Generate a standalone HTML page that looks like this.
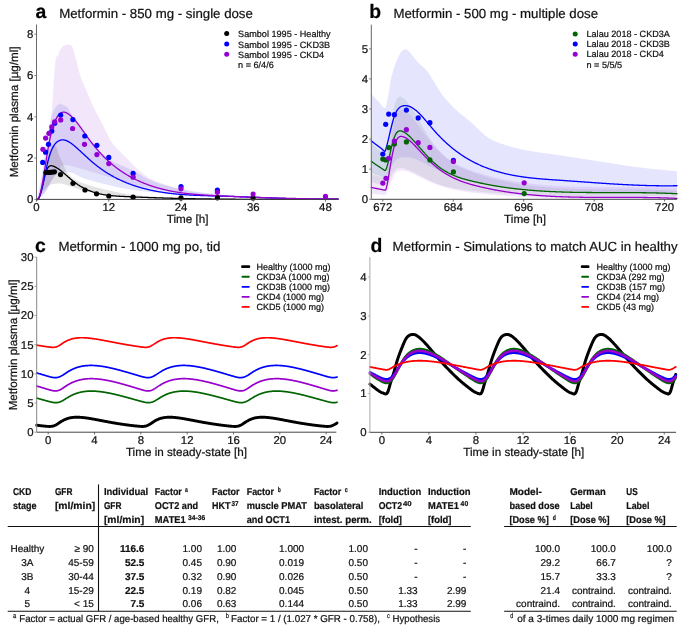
<!DOCTYPE html>
<html><head><meta charset="utf-8"><style>
html,body{margin:0;padding:0;background:#fff;}
svg{display:block;}
text{font-family:"Liberation Sans", sans-serif;text-rendering:geometricPrecision;stroke:#111;stroke-width:0.22px;paint-order:stroke;}
</style></head><body>
<svg width="685" height="626" viewBox="0 0 685 626" style="will-change:transform">
<rect width="685" height="626" fill="#fff"/>
<path d="M37 199.4 L38.01 198.98 L39.01 197.85 L40.02 196.18 L41.03 194.16 L42.03 190.88 L43.04 185.46 L44.05 178.67 L45.05 171.28 L46.06 163.83 L47.07 155.29 L48.07 145.97 L49.08 136.53 L50.09 127.2 L51.09 117.52 L52.1 106.95 L53.11 93.37 L54.11 76.78 L55.12 63.39 L56.13 57.83 L57.13 55.51 L58.14 56.49 L59.15 52.12 L60.15 49.8 L61.16 48.4 L62.17 47.33 L63.17 46.36 L64.18 45.58 L65.19 45.15 L66.19 44.9 L67.2 44.72 L68.21 44.61 L69.21 44.65 L70.22 44.99 L71.23 45.64 L72.23 46.57 L73.24 49.53 L74.25 53.3 L75.25 56.79 L76.26 60.44 L77.27 64.33 L78.27 68.49 L79.28 72.28 L80.29 75.55 L81.29 78.5 L82.3 81.13 L83.31 83.49 L84.31 85.72 L85.32 87.96 L86.33 90.29 L87.33 92.65 L88.34 95.01 L89.35 97.38 L90.35 99.79 L91.36 102.25 L92.37 104.64 L93.37 106.87 L94.38 108.92 L95.39 110.85 L96.39 112.75 L97.4 114.68 L98.41 116.6 L99.41 118.5 L100.42 120.42 L101.43 122.36 L102.43 124.34 L103.44 126.35 L104.45 128.38 L105.45 130.4 L106.46 132.43 L107.47 134.53 L108.47 136.66 L109.48 138.63 L110.49 140.31 L111.49 141.82 L112.5 143.22 L113.51 144.52 L114.52 145.76 L115.52 146.94 L116.53 148.09 L117.54 149.21 L118.54 150.27 L119.55 151.29 L120.56 152.27 L121.56 153.23 L122.57 154.18 L123.58 155.13 L124.58 156.09 L125.59 157.09 L126.6 158.11 L127.6 159.16 L128.61 160.22 L129.62 161.29 L130.62 162.36 L131.63 163.42 L132.64 164.46 L133.64 165.48 L134.65 166.47 L135.66 167.42 L136.66 168.32 L137.67 169.22 L138.68 170.11 L139.68 170.99 L140.69 171.86 L141.7 172.71 L142.7 173.54 L143.71 174.33 L144.72 175.09 L145.72 175.82 L146.73 176.49 L147.74 177.12 L148.74 177.69 L149.75 178.23 L150.76 178.76 L151.76 179.26 L152.77 179.75 L153.78 180.22 L154.78 180.68 L155.79 181.11 L156.8 181.54 L157.8 181.94 L158.81 182.34 L159.82 182.72 L160.82 183.09 L161.83 183.44 L162.84 183.79 L163.84 184.13 L164.85 184.45 L165.86 184.77 L166.86 185.09 L167.87 185.4 L168.88 185.72 L169.88 186.03 L170.89 186.33 L171.9 186.64 L172.9 186.94 L173.91 187.23 L174.92 187.52 L175.92 187.81 L176.93 188.1 L177.94 188.37 L178.94 188.65 L179.95 188.92 L180.96 189.18 L181.96 189.44 L182.97 189.7 L183.98 189.95 L184.98 190.19 L185.99 190.43 L187 190.66 L188 190.88 L189.01 191.1 L190.02 191.31 L191.02 191.52 L192.03 191.71 L193.04 191.9 L194.04 192.09 L195.05 192.26 L196.06 192.43 L197.06 192.59 L198.07 192.74 L199.08 192.88 L200.08 193.01 L201.09 193.14 L202.1 193.27 L203.1 193.39 L204.11 193.52 L205.12 193.64 L206.12 193.76 L207.13 193.88 L208.14 193.99 L209.14 194.11 L210.15 194.22 L211.16 194.33 L212.16 194.45 L213.17 194.55 L214.18 194.66 L215.18 194.77 L216.19 194.87 L217.2 194.97 L218.2 195.07 L219.21 195.17 L220.22 195.26 L221.22 195.36 L222.23 195.45 L223.24 195.54 L224.24 195.63 L225.25 195.72 L226.26 195.8 L227.26 195.88 L228.27 195.96 L229.28 196.04 L230.28 196.12 L231.29 196.19 L232.3 196.27 L233.3 196.34 L234.31 196.41 L235.32 196.47 L236.32 196.54 L237.33 196.6 L238.34 196.66 L239.34 196.72 L240.35 196.77 L241.36 196.83 L242.36 196.88 L243.37 196.93 L244.38 196.98 L245.38 197.02 L246.39 197.07 L247.4 197.11 L248.4 197.14 L249.41 197.18 L250.42 197.21 L251.42 197.25 L252.43 197.28 L253.44 197.31 L254.44 197.35 L255.45 197.38 L256.46 197.41 L257.46 197.44 L258.47 197.47 L259.48 197.51 L260.48 197.54 L261.49 197.57 L262.5 197.6 L263.51 197.63 L264.51 197.66 L265.52 197.69 L266.53 197.72 L267.53 197.75 L268.54 197.78 L269.55 197.81 L270.55 197.84 L271.56 197.87 L272.57 197.89 L273.57 197.92 L274.58 197.95 L275.59 197.98 L276.59 198 L277.6 198.03 L278.61 198.06 L279.61 198.08 L280.62 198.11 L281.63 198.13 L282.63 198.16 L283.64 198.18 L284.65 198.21 L285.65 198.23 L286.66 198.26 L287.67 198.28 L288.67 198.3 L289.68 198.32 L290.69 198.35 L291.69 198.37 L292.7 198.39 L293.71 198.41 L294.71 198.43 L295.72 198.45 L296.73 198.47 L297.73 198.49 L298.74 198.51 L299.75 198.53 L300.75 198.55 L301.76 198.57 L302.77 198.58 L303.77 198.6 L304.78 198.62 L305.79 198.63 L306.79 198.65 L307.8 198.66 L308.81 198.68 L309.81 198.69 L310.82 198.71 L311.83 198.72 L312.83 198.73 L313.84 198.75 L314.85 198.76 L315.85 198.77 L316.86 198.78 L317.87 198.79 L318.87 198.8 L319.88 198.81 L320.89 198.82 L321.89 198.83 L322.9 198.84 L323.91 198.85 L324.91 198.85 L325.92 198.86 L326.93 198.87 L327.93 198.87 L328.94 198.88 L329.95 198.88 L330.95 198.89 L331.96 198.89 L332.97 198.89 L333.97 198.9 L334.98 198.9 L335.99 198.9 L336.99 198.9 L338 198.9 L338 199.1 L336.99 199.1 L335.99 199.1 L334.98 199.1 L333.97 199.1 L332.97 199.09 L331.96 199.09 L330.95 199.09 L329.95 199.08 L328.94 199.08 L327.93 199.07 L326.93 199.07 L325.92 199.06 L324.91 199.05 L323.91 199.05 L322.9 199.04 L321.89 199.03 L320.89 199.02 L319.88 199.01 L318.87 199 L317.87 198.99 L316.86 198.98 L315.85 198.97 L314.85 198.96 L313.84 198.95 L312.83 198.93 L311.83 198.92 L310.82 198.91 L309.81 198.89 L308.81 198.88 L307.8 198.86 L306.79 198.85 L305.79 198.83 L304.78 198.82 L303.77 198.8 L302.77 198.78 L301.76 198.77 L300.75 198.75 L299.75 198.73 L298.74 198.71 L297.73 198.69 L296.73 198.68 L295.72 198.66 L294.71 198.64 L293.71 198.62 L292.7 198.6 L291.69 198.58 L290.69 198.55 L289.68 198.53 L288.67 198.51 L287.67 198.49 L286.66 198.47 L285.65 198.45 L284.65 198.42 L283.64 198.4 L282.63 198.38 L281.63 198.35 L280.62 198.33 L279.61 198.3 L278.61 198.28 L277.6 198.25 L276.59 198.23 L275.59 198.2 L274.58 198.18 L273.57 198.15 L272.57 198.13 L271.56 198.1 L270.55 198.08 L269.55 198.05 L268.54 198.02 L267.53 198 L266.53 197.97 L265.52 197.94 L264.51 197.91 L263.51 197.89 L262.5 197.86 L261.49 197.83 L260.48 197.8 L259.48 197.77 L258.47 197.74 L257.46 197.72 L256.46 197.69 L255.45 197.66 L254.44 197.63 L253.44 197.6 L252.43 197.57 L251.42 197.54 L250.42 197.51 L249.41 197.48 L248.4 197.45 L247.4 197.42 L246.39 197.38 L245.38 197.35 L244.38 197.31 L243.37 197.27 L242.36 197.23 L241.36 197.19 L240.35 197.15 L239.34 197.1 L238.34 197.06 L237.33 197.01 L236.32 196.96 L235.32 196.91 L234.31 196.86 L233.3 196.81 L232.3 196.75 L231.29 196.7 L230.28 196.64 L229.28 196.59 L228.27 196.53 L227.26 196.47 L226.26 196.41 L225.25 196.35 L224.24 196.28 L223.24 196.22 L222.23 196.15 L221.22 196.09 L220.22 196.02 L219.21 195.95 L218.2 195.88 L217.2 195.81 L216.19 195.74 L215.18 195.67 L214.18 195.6 L213.17 195.53 L212.16 195.45 L211.16 195.38 L210.15 195.3 L209.14 195.23 L208.14 195.15 L207.13 195.07 L206.12 194.99 L205.12 194.91 L204.11 194.83 L203.1 194.75 L202.1 194.67 L201.09 194.59 L200.08 194.51 L199.08 194.42 L198.07 194.34 L197.06 194.25 L196.06 194.16 L195.05 194.06 L194.04 193.96 L193.04 193.86 L192.03 193.76 L191.02 193.66 L190.02 193.55 L189.01 193.44 L188 193.33 L187 193.22 L185.99 193.1 L184.98 192.99 L183.98 192.87 L182.97 192.74 L181.96 192.62 L180.96 192.49 L179.95 192.37 L178.94 192.24 L177.94 192.1 L176.93 191.97 L175.92 191.84 L174.92 191.7 L173.91 191.56 L172.9 191.42 L171.9 191.28 L170.89 191.14 L169.88 190.99 L168.88 190.85 L167.87 190.7 L166.86 190.55 L165.86 190.4 L164.85 190.25 L163.84 190.09 L162.84 189.94 L161.83 189.78 L160.82 189.63 L159.82 189.47 L158.81 189.31 L157.8 189.15 L156.8 188.98 L155.79 188.81 L154.78 188.64 L153.78 188.46 L152.77 188.28 L151.76 188.1 L150.76 187.91 L149.75 187.72 L148.74 187.53 L147.74 187.33 L146.73 187.13 L145.72 186.93 L144.72 186.73 L143.71 186.52 L142.7 186.31 L141.7 186.09 L140.69 185.88 L139.68 185.66 L138.68 185.44 L137.67 185.21 L136.66 184.98 L135.66 184.75 L134.65 184.52 L133.64 184.28 L132.64 184.04 L131.63 183.8 L130.62 183.55 L129.62 183.3 L128.61 183.05 L127.6 182.78 L126.6 182.5 L125.59 182.22 L124.58 181.92 L123.58 181.62 L122.57 181.32 L121.56 181.01 L120.56 180.69 L119.55 180.38 L118.54 180.06 L117.54 179.74 L116.53 179.42 L115.52 179.1 L114.52 178.78 L113.51 178.47 L112.5 178.16 L111.49 177.85 L110.49 177.54 L109.48 177.23 L108.47 176.92 L107.47 176.61 L106.46 176.29 L105.45 175.98 L104.45 175.66 L103.44 175.34 L102.43 175.03 L101.43 174.71 L100.42 174.4 L99.41 174.09 L98.41 173.78 L97.4 173.47 L96.39 173.16 L95.39 172.86 L94.38 172.55 L93.37 172.25 L92.37 171.94 L91.36 171.63 L90.35 171.32 L89.35 171.01 L88.34 170.7 L87.33 170.39 L86.33 170.09 L85.32 169.79 L84.31 169.5 L83.31 169.22 L82.3 168.94 L81.29 168.67 L80.29 168.42 L79.28 168.17 L78.27 167.92 L77.27 167.66 L76.26 167.39 L75.25 167.11 L74.25 166.83 L73.24 166.56 L72.23 166.3 L71.23 166.05 L70.22 165.82 L69.21 165.61 L68.21 165.42 L67.2 165.26 L66.19 165.14 L65.19 165.05 L64.18 165.01 L63.17 165.07 L62.17 165.54 L61.16 166.37 L60.15 167.44 L59.15 168.63 L58.14 169.84 L57.13 171.1 L56.13 172.63 L55.12 174.33 L54.11 176.15 L53.11 178 L52.1 179.82 L51.09 181.69 L50.09 183.73 L49.08 185.84 L48.07 187.92 L47.07 189.87 L46.06 191.57 L45.05 192.94 L44.05 194.06 L43.04 195.14 L42.03 196.15 L41.03 197.07 L40.02 197.88 L39.01 198.55 L38.01 199.06 L37 199.4 Z" fill="#be82e6" fill-opacity="0.2" stroke="none"/>
<path d="M37 199.4 L38.01 194.92 L39.01 189.97 L40.02 184.58 L41.03 178.82 L42.03 172.73 L43.04 165.85 L44.05 157.77 L45.05 149.51 L46.06 142.05 L47.07 136.27 L48.07 131.17 L49.08 126.42 L50.09 122.07 L51.09 118.19 L52.1 114.84 L53.11 112.08 L54.11 109.87 L55.12 107.98 L56.13 106.46 L57.13 105.38 L58.14 104.52 L59.15 103.85 L60.15 103.6 L61.16 104 L62.17 104.58 L63.17 105.02 L64.18 105.45 L65.19 105.91 L66.19 106.48 L67.2 107.25 L68.21 108.47 L69.21 110.1 L70.22 111.98 L71.23 113.97 L72.23 115.92 L73.24 117.69 L74.25 119.24 L75.25 120.74 L76.26 122.21 L77.27 123.65 L78.27 125.07 L79.28 126.47 L80.29 127.85 L81.29 129.21 L82.3 130.55 L83.31 131.88 L84.31 133.2 L85.32 134.51 L86.33 135.83 L87.33 137.14 L88.34 138.46 L89.35 139.76 L90.35 141.05 L91.36 142.32 L92.37 143.57 L93.37 144.79 L94.38 145.98 L95.39 147.13 L96.39 148.24 L97.4 149.29 L98.41 150.3 L99.41 151.29 L100.42 152.26 L101.43 153.21 L102.43 154.14 L103.44 155.04 L104.45 155.91 L105.45 156.75 L106.46 157.55 L107.47 158.3 L108.47 159.01 L109.48 159.68 L110.49 160.29 L111.49 160.87 L112.5 161.41 L113.51 161.92 L114.52 162.41 L115.52 162.88 L116.53 163.33 L117.54 163.77 L118.54 164.2 L119.55 164.62 L120.56 165.04 L121.56 165.47 L122.57 165.9 L123.58 166.35 L124.58 166.8 L125.59 167.28 L126.6 167.75 L127.6 168.22 L128.61 168.68 L129.62 169.15 L130.62 169.62 L131.63 170.1 L132.64 170.58 L133.64 171.06 L134.65 171.56 L135.66 172.06 L136.66 172.58 L137.67 173.12 L138.68 173.7 L139.68 174.3 L140.69 174.91 L141.7 175.53 L142.7 176.16 L143.71 176.77 L144.72 177.37 L145.72 177.95 L146.73 178.49 L147.74 178.99 L148.74 179.45 L149.75 179.89 L150.76 180.32 L151.76 180.74 L152.77 181.14 L153.78 181.54 L154.78 181.92 L155.79 182.29 L156.8 182.66 L157.8 183.01 L158.81 183.35 L159.82 183.68 L160.82 184 L161.83 184.3 L162.84 184.6 L163.84 184.89 L164.85 185.16 L165.86 185.43 L166.86 185.69 L167.87 185.95 L168.88 186.2 L169.88 186.46 L170.89 186.71 L171.9 186.95 L172.9 187.19 L173.91 187.43 L174.92 187.67 L175.92 187.9 L176.93 188.13 L177.94 188.35 L178.94 188.57 L179.95 188.79 L180.96 189 L181.96 189.21 L182.97 189.41 L183.98 189.61 L184.98 189.81 L185.99 190 L187 190.19 L188 190.37 L189.01 190.55 L190.02 190.73 L191.02 190.9 L192.03 191.06 L193.04 191.22 L194.04 191.38 L195.05 191.53 L196.06 191.68 L197.06 191.82 L198.07 191.95 L199.08 192.08 L200.08 192.21 L201.09 192.33 L202.1 192.46 L203.1 192.58 L204.11 192.69 L205.12 192.81 L206.12 192.93 L207.13 193.04 L208.14 193.16 L209.14 193.27 L210.15 193.38 L211.16 193.49 L212.16 193.6 L213.17 193.7 L214.18 193.81 L215.18 193.91 L216.19 194.01 L217.2 194.11 L218.2 194.21 L219.21 194.31 L220.22 194.41 L221.22 194.5 L222.23 194.59 L223.24 194.68 L224.24 194.77 L225.25 194.86 L226.26 194.95 L227.26 195.03 L228.27 195.12 L229.28 195.2 L230.28 195.28 L231.29 195.36 L232.3 195.43 L233.3 195.51 L234.31 195.58 L235.32 195.65 L236.32 195.72 L237.33 195.79 L238.34 195.86 L239.34 195.92 L240.35 195.99 L241.36 196.05 L242.36 196.11 L243.37 196.16 L244.38 196.22 L245.38 196.27 L246.39 196.33 L247.4 196.38 L248.4 196.43 L249.41 196.47 L250.42 196.52 L251.42 196.56 L252.43 196.61 L253.44 196.65 L254.44 196.7 L255.45 196.74 L256.46 196.79 L257.46 196.83 L258.47 196.87 L259.48 196.92 L260.48 196.96 L261.49 197.01 L262.5 197.05 L263.51 197.09 L264.51 197.13 L265.52 197.18 L266.53 197.22 L267.53 197.26 L268.54 197.3 L269.55 197.34 L270.55 197.39 L271.56 197.43 L272.57 197.47 L273.57 197.51 L274.58 197.55 L275.59 197.59 L276.59 197.63 L277.6 197.67 L278.61 197.7 L279.61 197.74 L280.62 197.78 L281.63 197.82 L282.63 197.85 L283.64 197.89 L284.65 197.93 L285.65 197.96 L286.66 198 L287.67 198.03 L288.67 198.07 L289.68 198.1 L290.69 198.14 L291.69 198.17 L292.7 198.2 L293.71 198.23 L294.71 198.26 L295.72 198.3 L296.73 198.33 L297.73 198.36 L298.74 198.39 L299.75 198.41 L300.75 198.44 L301.76 198.47 L302.77 198.5 L303.77 198.52 L304.78 198.55 L305.79 198.57 L306.79 198.6 L307.8 198.62 L308.81 198.65 L309.81 198.67 L310.82 198.69 L311.83 198.71 L312.83 198.73 L313.84 198.75 L314.85 198.77 L315.85 198.79 L316.86 198.81 L317.87 198.83 L318.87 198.84 L319.88 198.86 L320.89 198.87 L321.89 198.89 L322.9 198.9 L323.91 198.91 L324.91 198.92 L325.92 198.94 L326.93 198.95 L327.93 198.96 L328.94 198.96 L329.95 198.97 L330.95 198.98 L331.96 198.98 L332.97 198.99 L333.97 198.99 L334.98 199 L335.99 199 L336.99 199 L338 199 L338 199.2 L336.99 199.2 L335.99 199.2 L334.98 199.2 L333.97 199.2 L332.97 199.19 L331.96 199.19 L330.95 199.19 L329.95 199.19 L328.94 199.18 L327.93 199.18 L326.93 199.17 L325.92 199.17 L324.91 199.16 L323.91 199.16 L322.9 199.15 L321.89 199.15 L320.89 199.14 L319.88 199.13 L318.87 199.12 L317.87 199.12 L316.86 199.11 L315.85 199.1 L314.85 199.09 L313.84 199.08 L312.83 199.07 L311.83 199.06 L310.82 199.05 L309.81 199.04 L308.81 199.03 L307.8 199.02 L306.79 199.01 L305.79 198.99 L304.78 198.98 L303.77 198.97 L302.77 198.96 L301.76 198.94 L300.75 198.93 L299.75 198.92 L298.74 198.9 L297.73 198.89 L296.73 198.87 L295.72 198.86 L294.71 198.85 L293.71 198.83 L292.7 198.81 L291.69 198.8 L290.69 198.78 L289.68 198.77 L288.67 198.75 L287.67 198.73 L286.66 198.72 L285.65 198.7 L284.65 198.68 L283.64 198.67 L282.63 198.65 L281.63 198.63 L280.62 198.61 L279.61 198.59 L278.61 198.58 L277.6 198.56 L276.59 198.54 L275.59 198.52 L274.58 198.5 L273.57 198.48 L272.57 198.46 L271.56 198.44 L270.55 198.42 L269.55 198.4 L268.54 198.38 L267.53 198.36 L266.53 198.34 L265.52 198.32 L264.51 198.3 L263.51 198.28 L262.5 198.26 L261.49 198.24 L260.48 198.22 L259.48 198.2 L258.47 198.18 L257.46 198.16 L256.46 198.14 L255.45 198.12 L254.44 198.09 L253.44 198.07 L252.43 198.05 L251.42 198.03 L250.42 198.01 L249.41 197.99 L248.4 197.96 L247.4 197.94 L246.39 197.92 L245.38 197.89 L244.38 197.87 L243.37 197.84 L242.36 197.81 L241.36 197.78 L240.35 197.75 L239.34 197.72 L238.34 197.69 L237.33 197.66 L236.32 197.62 L235.32 197.59 L234.31 197.55 L233.3 197.52 L232.3 197.48 L231.29 197.44 L230.28 197.41 L229.28 197.37 L228.27 197.33 L227.26 197.29 L226.26 197.25 L225.25 197.21 L224.24 197.17 L223.24 197.12 L222.23 197.08 L221.22 197.04 L220.22 196.99 L219.21 196.95 L218.2 196.9 L217.2 196.85 L216.19 196.81 L215.18 196.76 L214.18 196.71 L213.17 196.67 L212.16 196.62 L211.16 196.57 L210.15 196.52 L209.14 196.47 L208.14 196.42 L207.13 196.37 L206.12 196.32 L205.12 196.27 L204.11 196.21 L203.1 196.16 L202.1 196.11 L201.09 196.06 L200.08 196 L199.08 195.95 L198.07 195.9 L197.06 195.84 L196.06 195.78 L195.05 195.72 L194.04 195.66 L193.04 195.6 L192.03 195.54 L191.02 195.47 L190.02 195.41 L189.01 195.34 L188 195.27 L187 195.21 L185.99 195.14 L184.98 195.06 L183.98 194.99 L182.97 194.92 L181.96 194.85 L180.96 194.77 L179.95 194.69 L178.94 194.62 L177.94 194.54 L176.93 194.46 L175.92 194.38 L174.92 194.3 L173.91 194.22 L172.9 194.13 L171.9 194.05 L170.89 193.96 L169.88 193.88 L168.88 193.79 L167.87 193.71 L166.86 193.62 L165.86 193.53 L164.85 193.44 L163.84 193.35 L162.84 193.26 L161.83 193.17 L160.82 193.08 L159.82 192.98 L158.81 192.89 L157.8 192.79 L156.8 192.7 L155.79 192.6 L154.78 192.5 L153.78 192.4 L152.77 192.3 L151.76 192.2 L150.76 192.1 L149.75 191.99 L148.74 191.88 L147.74 191.77 L146.73 191.66 L145.72 191.55 L144.72 191.43 L143.71 191.32 L142.7 191.2 L141.7 191.08 L140.69 190.95 L139.68 190.83 L138.68 190.7 L137.67 190.57 L136.66 190.44 L135.66 190.31 L134.65 190.17 L133.64 190.03 L132.64 189.89 L131.63 189.74 L130.62 189.59 L129.62 189.44 L128.61 189.28 L127.6 189.12 L126.6 188.95 L125.59 188.77 L124.58 188.58 L123.58 188.39 L122.57 188.19 L121.56 187.99 L120.56 187.79 L119.55 187.58 L118.54 187.37 L117.54 187.15 L116.53 186.93 L115.52 186.71 L114.52 186.49 L113.51 186.27 L112.5 186.04 L111.49 185.82 L110.49 185.59 L109.48 185.35 L108.47 185.11 L107.47 184.87 L106.46 184.62 L105.45 184.37 L104.45 184.11 L103.44 183.86 L102.43 183.59 L101.43 183.33 L100.42 183.06 L99.41 182.79 L98.41 182.52 L97.4 182.25 L96.39 181.97 L95.39 181.69 L94.38 181.42 L93.37 181.14 L92.37 180.86 L91.36 180.57 L90.35 180.28 L89.35 179.99 L88.34 179.68 L87.33 179.38 L86.33 179.06 L85.32 178.74 L84.31 178.41 L83.31 178.07 L82.3 177.68 L81.29 177.25 L80.29 176.76 L79.28 176.25 L78.27 175.72 L77.27 175.19 L76.26 174.66 L75.25 174.15 L74.25 173.67 L73.24 173.24 L72.23 172.87 L71.23 172.56 L70.22 172.34 L69.21 172.22 L68.21 172.17 L67.2 172.14 L66.19 172.1 L65.19 172.07 L64.18 172.05 L63.17 172.03 L62.17 172.01 L61.16 172 L60.15 172 L59.15 172.15 L58.14 172.67 L57.13 173.51 L56.13 174.58 L55.12 175.82 L54.11 177.17 L53.11 178.54 L52.1 179.87 L51.09 181.3 L50.09 183.02 L49.08 184.92 L48.07 186.88 L47.07 188.78 L46.06 190.51 L45.05 191.93 L44.05 193.13 L43.04 194.28 L42.03 195.37 L41.03 196.38 L40.02 197.3 L39.01 198.12 L38.01 198.82 L37 199.4 Z" fill="#4b4bde" fill-opacity="0.15" stroke="none"/>
<path d="M37 199.4 L38.01 197.11 L39.01 194.34 L40.02 191.16 L41.03 187.64 L42.03 183.87 L43.04 179.28 L44.05 173.88 L45.05 168.44 L46.06 163.75 L47.07 159.64 L48.07 155.78 L49.08 152.42 L50.09 149.81 L51.09 147.51 L52.1 145.66 L53.11 145 L54.11 145.24 L55.12 145.76 L56.13 146.79 L57.13 149.25 L58.14 152.49 L59.15 155.67 L60.15 158.09 L61.16 160.07 L62.17 161.93 L63.17 163.88 L64.18 166.18 L65.19 168.96 L66.19 171.32 L67.2 172.87 L68.21 174.16 L69.21 175.23 L70.22 176.12 L71.23 176.9 L72.23 177.64 L73.24 178.33 L74.25 178.97 L75.25 179.58 L76.26 180.15 L77.27 180.69 L78.27 181.19 L79.28 181.67 L80.29 182.12 L81.29 182.55 L82.3 182.97 L83.31 183.36 L84.31 183.74 L85.32 184.1 L86.33 184.44 L87.33 184.77 L88.34 185.07 L89.35 185.37 L90.35 185.65 L91.36 185.93 L92.37 186.2 L93.37 186.47 L94.38 186.74 L95.39 187 L96.39 187.27 L97.4 187.54 L98.41 187.81 L99.41 188.08 L100.42 188.35 L101.43 188.61 L102.43 188.87 L103.44 189.12 L104.45 189.38 L105.45 189.62 L106.46 189.87 L107.47 190.11 L108.47 190.35 L109.48 190.58 L110.49 190.81 L111.49 191.03 L112.5 191.24 L113.51 191.46 L114.52 191.67 L115.52 191.89 L116.53 192.11 L117.54 192.32 L118.54 192.53 L119.55 192.74 L120.56 192.94 L121.56 193.14 L122.57 193.33 L123.58 193.52 L124.58 193.7 L125.59 193.87 L126.6 194.03 L127.6 194.18 L128.61 194.32 L129.62 194.45 L130.62 194.57 L131.63 194.69 L132.64 194.8 L133.64 194.92 L134.65 195.02 L135.66 195.13 L136.66 195.23 L137.67 195.34 L138.68 195.43 L139.68 195.53 L140.69 195.62 L141.7 195.72 L142.7 195.8 L143.71 195.89 L144.72 195.98 L145.72 196.06 L146.73 196.14 L147.74 196.22 L148.74 196.29 L149.75 196.36 L150.76 196.44 L151.76 196.51 L152.77 196.57 L153.78 196.64 L154.78 196.7 L155.79 196.76 L156.8 196.82 L157.8 196.88 L158.81 196.94 L159.82 196.99 L160.82 197.04 L161.83 197.1 L162.84 197.15 L163.84 197.2 L164.85 197.25 L165.86 197.3 L166.86 197.35 L167.87 197.4 L168.88 197.45 L169.88 197.5 L170.89 197.55 L171.9 197.6 L172.9 197.65 L173.91 197.69 L174.92 197.74 L175.92 197.78 L176.93 197.83 L177.94 197.87 L178.94 197.91 L179.95 197.95 L180.96 197.99 L181.96 198.03 L182.97 198.07 L183.98 198.11 L184.98 198.14 L185.99 198.18 L187 198.21 L188 198.24 L189.01 198.27 L190.02 198.3 L191.02 198.33 L192.03 198.35 L193.04 198.38 L194.04 198.4 L195.05 198.42 L196.06 198.44 L197.06 198.46 L198.07 198.47 L199.08 198.49 L200.08 198.5 L201.09 198.51 L202.1 198.52 L203.1 198.54 L204.11 198.55 L205.12 198.56 L206.12 198.57 L207.13 198.58 L208.14 198.59 L209.14 198.6 L210.15 198.61 L211.16 198.62 L212.16 198.63 L213.17 198.65 L214.18 198.66 L215.18 198.67 L216.19 198.68 L217.2 198.69 L218.2 198.7 L219.21 198.71 L220.22 198.72 L221.22 198.73 L222.23 198.74 L223.24 198.75 L224.24 198.76 L225.25 198.77 L226.26 198.78 L227.26 198.78 L228.27 198.79 L229.28 198.8 L230.28 198.81 L231.29 198.82 L232.3 198.83 L233.3 198.84 L234.31 198.85 L235.32 198.86 L236.32 198.87 L237.33 198.87 L238.34 198.88 L239.34 198.89 L240.35 198.9 L241.36 198.91 L242.36 198.92 L243.37 198.92 L244.38 198.93 L245.38 198.94 L246.39 198.95 L247.4 198.96 L248.4 198.96 L249.41 198.97 L250.42 198.98 L251.42 198.99 L252.43 198.99 L253.44 199 L254.44 199.01 L255.45 199.01 L256.46 199.02 L257.46 199.03 L258.47 199.03 L259.48 199.04 L260.48 199.05 L261.49 199.05 L262.5 199.06 L263.51 199.07 L264.51 199.07 L265.52 199.08 L266.53 199.09 L267.53 199.09 L268.54 199.1 L269.55 199.1 L270.55 199.11 L271.56 199.11 L272.57 199.12 L273.57 199.13 L274.58 199.13 L275.59 199.14 L276.59 199.14 L277.6 199.15 L278.61 199.15 L279.61 199.16 L280.62 199.16 L281.63 199.17 L282.63 199.17 L283.64 199.18 L284.65 199.18 L285.65 199.18 L286.66 199.19 L287.67 199.19 L288.67 199.2 L289.68 199.2 L290.69 199.21 L291.69 199.21 L292.7 199.21 L293.71 199.22 L294.71 199.22 L295.72 199.22 L296.73 199.23 L297.73 199.23 L298.74 199.24 L299.75 199.24 L300.75 199.24 L301.76 199.24 L302.77 199.25 L303.77 199.25 L304.78 199.25 L305.79 199.26 L306.79 199.26 L307.8 199.26 L308.81 199.26 L309.81 199.27 L310.82 199.27 L311.83 199.27 L312.83 199.27 L313.84 199.28 L314.85 199.28 L315.85 199.28 L316.86 199.28 L317.87 199.28 L318.87 199.28 L319.88 199.29 L320.89 199.29 L321.89 199.29 L322.9 199.29 L323.91 199.29 L324.91 199.29 L325.92 199.29 L326.93 199.29 L327.93 199.3 L328.94 199.3 L329.95 199.3 L330.95 199.3 L331.96 199.3 L332.97 199.3 L333.97 199.3 L334.98 199.3 L335.99 199.3 L336.99 199.3 L338 199.3 L338 199.4 L336.99 199.4 L335.99 199.4 L334.98 199.4 L333.97 199.4 L332.97 199.4 L331.96 199.4 L330.95 199.4 L329.95 199.4 L328.94 199.4 L327.93 199.4 L326.93 199.4 L325.92 199.4 L324.91 199.4 L323.91 199.4 L322.9 199.4 L321.89 199.4 L320.89 199.4 L319.88 199.39 L318.87 199.39 L317.87 199.39 L316.86 199.39 L315.85 199.39 L314.85 199.39 L313.84 199.39 L312.83 199.39 L311.83 199.39 L310.82 199.39 L309.81 199.39 L308.81 199.39 L307.8 199.39 L306.79 199.38 L305.79 199.38 L304.78 199.38 L303.77 199.38 L302.77 199.38 L301.76 199.38 L300.75 199.38 L299.75 199.38 L298.74 199.38 L297.73 199.37 L296.73 199.37 L295.72 199.37 L294.71 199.37 L293.71 199.37 L292.7 199.37 L291.69 199.37 L290.69 199.37 L289.68 199.36 L288.67 199.36 L287.67 199.36 L286.66 199.36 L285.65 199.36 L284.65 199.36 L283.64 199.35 L282.63 199.35 L281.63 199.35 L280.62 199.35 L279.61 199.35 L278.61 199.35 L277.6 199.34 L276.59 199.34 L275.59 199.34 L274.58 199.34 L273.57 199.34 L272.57 199.33 L271.56 199.33 L270.55 199.33 L269.55 199.33 L268.54 199.32 L267.53 199.32 L266.53 199.32 L265.52 199.32 L264.51 199.32 L263.51 199.31 L262.5 199.31 L261.49 199.31 L260.48 199.31 L259.48 199.3 L258.47 199.3 L257.46 199.3 L256.46 199.3 L255.45 199.29 L254.44 199.29 L253.44 199.29 L252.43 199.29 L251.42 199.28 L250.42 199.28 L249.41 199.28 L248.4 199.27 L247.4 199.27 L246.39 199.27 L245.38 199.27 L244.38 199.26 L243.37 199.26 L242.36 199.26 L241.36 199.25 L240.35 199.25 L239.34 199.25 L238.34 199.24 L237.33 199.24 L236.32 199.24 L235.32 199.23 L234.31 199.23 L233.3 199.23 L232.3 199.22 L231.29 199.22 L230.28 199.22 L229.28 199.21 L228.27 199.21 L227.26 199.21 L226.26 199.2 L225.25 199.2 L224.24 199.2 L223.24 199.19 L222.23 199.19 L221.22 199.19 L220.22 199.18 L219.21 199.18 L218.2 199.17 L217.2 199.17 L216.19 199.17 L215.18 199.16 L214.18 199.16 L213.17 199.16 L212.16 199.15 L211.16 199.15 L210.15 199.14 L209.14 199.14 L208.14 199.13 L207.13 199.13 L206.12 199.13 L205.12 199.12 L204.11 199.12 L203.1 199.11 L202.1 199.11 L201.09 199.1 L200.08 199.1 L199.08 199.1 L198.07 199.09 L197.06 199.08 L196.06 199.08 L195.05 199.07 L194.04 199.06 L193.04 199.05 L192.03 199.04 L191.02 199.03 L190.02 199.02 L189.01 199.01 L188 199 L187 198.99 L185.99 198.98 L184.98 198.96 L183.98 198.95 L182.97 198.94 L181.96 198.92 L180.96 198.91 L179.95 198.89 L178.94 198.88 L177.94 198.86 L176.93 198.84 L175.92 198.82 L174.92 198.81 L173.91 198.79 L172.9 198.77 L171.9 198.75 L170.89 198.73 L169.88 198.71 L168.88 198.69 L167.87 198.67 L166.86 198.65 L165.86 198.63 L164.85 198.61 L163.84 198.59 L162.84 198.56 L161.83 198.54 L160.82 198.52 L159.82 198.5 L158.81 198.47 L157.8 198.45 L156.8 198.42 L155.79 198.39 L154.78 198.37 L153.78 198.34 L152.77 198.31 L151.76 198.27 L150.76 198.24 L149.75 198.21 L148.74 198.17 L147.74 198.13 L146.73 198.1 L145.72 198.05 L144.72 198.01 L143.71 197.97 L142.7 197.92 L141.7 197.88 L140.69 197.83 L139.68 197.78 L138.68 197.73 L137.67 197.67 L136.66 197.62 L135.66 197.56 L134.65 197.5 L133.64 197.44 L132.64 197.38 L131.63 197.31 L130.62 197.24 L129.62 197.17 L128.61 197.09 L127.6 196.98 L126.6 196.87 L125.59 196.74 L124.58 196.61 L123.58 196.47 L122.57 196.32 L121.56 196.18 L120.56 196.04 L119.55 195.9 L118.54 195.77 L117.54 195.64 L116.53 195.51 L115.52 195.38 L114.52 195.25 L113.51 195.12 L112.5 194.99 L111.49 194.86 L110.49 194.73 L109.48 194.6 L108.47 194.47 L107.47 194.34 L106.46 194.21 L105.45 194.07 L104.45 193.94 L103.44 193.8 L102.43 193.67 L101.43 193.53 L100.42 193.39 L99.41 193.24 L98.41 193.1 L97.4 192.96 L96.39 192.83 L95.39 192.69 L94.38 192.55 L93.37 192.41 L92.37 192.27 L91.36 192.12 L90.35 191.97 L89.35 191.81 L88.34 191.64 L87.33 191.46 L86.33 191.27 L85.32 191.06 L84.31 190.83 L83.31 190.58 L82.3 190.31 L81.29 190.02 L80.29 189.72 L79.28 189.41 L78.27 189.09 L77.27 188.76 L76.26 188.43 L75.25 188.1 L74.25 187.77 L73.24 187.44 L72.23 187.11 L71.23 186.76 L70.22 186.39 L69.21 186.02 L68.21 185.65 L67.2 185.29 L66.19 184.95 L65.19 184.65 L64.18 184.36 L63.17 184.06 L62.17 183.77 L61.16 183.54 L60.15 183.42 L59.15 183.41 L58.14 183.46 L57.13 183.55 L56.13 183.66 L55.12 183.79 L54.11 183.92 L53.11 184.08 L52.1 184.28 L51.09 184.53 L50.09 184.85 L49.08 185.39 L48.07 186.13 L47.07 187.01 L46.06 187.97 L45.05 188.95 L44.05 190 L43.04 191.19 L42.03 192.48 L41.03 193.83 L40.02 195.17 L39.01 196.53 L38.01 197.95 L37 199.4 Z" fill="#000000" fill-opacity="0.11" stroke="none"/>
<path d="M37.3 199.71 L37.8 199.69 L38.3 199.27 L38.81 198.49 L39.31 197.38 L39.81 196 L40.31 194.37 L40.81 192.54 L41.32 190.56 L41.82 188.45 L42.32 186.27 L42.82 184.05 L43.32 181.83 L43.83 179.66 L44.33 177.57 L44.83 175.61 L45.33 173.81 L45.83 172.22 L46.34 170.84 L46.84 169.65 L47.34 168.65 L47.84 167.82 L48.34 167.15 L48.85 166.63 L49.35 166.23 L49.85 165.96 L50.35 165.79 L50.85 165.71 L51.36 165.7 L51.86 165.77 L52.36 165.88 L52.86 166.03 L53.36 166.21 L53.87 166.41 L54.37 166.62 L54.87 166.85 L55.37 167.1 L55.87 167.37 L56.38 167.64 L56.88 167.94 L57.38 168.24 L57.88 168.56 L58.38 168.9 L58.89 169.24 L59.39 169.6 L59.89 169.96 L60.39 170.34 L60.89 170.72 L61.4 171.12 L61.9 171.52 L62.4 171.92 L62.9 172.34 L63.4 172.76 L63.91 173.19 L64.41 173.62 L64.91 174.05 L65.41 174.49 L65.91 174.93 L66.42 175.37 L66.92 175.81 L67.42 176.26 L67.92 176.7 L68.42 177.14 L68.93 177.58 L69.43 178.02 L69.93 178.46 L70.43 178.9 L70.93 179.32 L71.44 179.75 L71.94 180.17 L72.44 180.58 L72.94 180.99 L73.44 181.39 L73.95 181.78 L74.45 182.17 L74.95 182.55 L75.45 182.92 L75.95 183.28 L76.46 183.64 L76.96 183.99 L77.46 184.33 L77.96 184.67 L78.46 185 L78.97 185.32 L79.47 185.64 L79.97 185.95 L80.47 186.25 L80.97 186.55 L81.48 186.84 L81.98 187.13 L82.48 187.41 L82.98 187.68 L83.48 187.95 L83.99 188.21 L84.49 188.47 L84.99 188.72 L85.49 188.96 L85.99 189.2 L86.5 189.44 L87 189.66 L87.5 189.89 L88 190.1 L88.5 190.32 L89.01 190.52 L89.51 190.72 L90.01 190.92 L90.51 191.11 L91.01 191.3 L91.52 191.48 L92.02 191.66 L92.52 191.83 L93.02 192 L93.52 192.17 L94.03 192.33 L94.53 192.48 L95.03 192.63 L95.53 192.78 L96.03 192.92 L96.54 193.06 L97.04 193.19 L97.54 193.32 L98.04 193.45 L98.54 193.57 L99.05 193.69 L99.55 193.81 L100.05 193.92 L100.55 194.03 L101.05 194.13 L101.56 194.23 L102.06 194.33 L102.56 194.43 L103.06 194.52 L103.56 194.61 L104.07 194.69 L104.57 194.78 L105.07 194.86 L105.57 194.93 L106.07 195.01 L106.58 195.08 L107.08 195.15 L107.58 195.22 L108.08 195.28 L108.58 195.34 L109.09 195.4 L109.59 195.46 L110.09 195.51 L110.59 195.57 L111.09 195.62 L111.6 195.67 L112.1 195.72 L112.6 195.76 L113.1 195.81 L113.6 195.85 L114.11 195.89 L114.61 195.93 L115.11 195.97 L115.61 196 L116.11 196.04 L116.62 196.07 L117.12 196.11 L117.62 196.14 L118.12 196.17 L118.62 196.2 L119.13 196.23 L119.63 196.25 L120.13 196.28 L120.63 196.31 L121.13 196.34 L121.64 196.36 L122.14 196.39 L122.64 196.41 L123.14 196.44 L123.64 196.46 L124.15 196.49 L124.65 196.51 L125.15 196.53 L125.65 196.56 L126.15 196.58 L126.66 196.61 L127.16 196.63 L127.66 196.65 L128.16 196.68 L128.66 196.7 L129.17 196.72 L129.67 196.75 L130.17 196.77 L130.67 196.79 L131.17 196.81 L131.68 196.84 L132.18 196.86 L132.68 196.88 L133.18 196.9 L133.68 196.92 L134.19 196.95 L134.69 196.97 L135.19 196.99 L135.69 197.01 L136.19 197.03 L136.7 197.05 L137.2 197.07 L137.7 197.1 L138.2 197.12 L138.7 197.14 L139.21 197.16 L139.71 197.18 L140.21 197.2 L140.71 197.22 L141.21 197.24 L141.72 197.26 L142.22 197.28 L142.72 197.3 L143.22 197.32 L143.72 197.34 L144.23 197.36 L144.73 197.38 L145.23 197.4 L145.73 197.41 L146.23 197.43 L146.74 197.45 L147.24 197.47 L147.74 197.49 L148.24 197.51 L148.74 197.53 L149.25 197.54 L149.75 197.56 L150.25 197.58 L150.75 197.6 L151.25 197.62 L151.76 197.63 L152.26 197.65 L152.76 197.67 L153.26 197.69 L153.76 197.7 L154.27 197.72 L154.77 197.74 L155.27 197.75 L155.77 197.77 L156.27 197.79 L156.78 197.8 L157.28 197.82 L157.78 197.84 L158.28 197.85 L158.78 197.87 L159.29 197.89 L159.79 197.9 L160.29 197.92 L160.79 197.93 L161.29 197.95 L161.8 197.96 L162.3 197.98 L162.8 197.99 L163.3 198.01 L163.8 198.03 L164.31 198.04 L164.81 198.06 L165.31 198.07 L165.81 198.08 L166.31 198.1 L166.82 198.11 L167.32 198.13 L167.82 198.14 L168.32 198.16 L168.82 198.17 L169.33 198.18 L169.83 198.2 L170.33 198.21 L170.83 198.23 L171.33 198.24 L171.84 198.25 L172.34 198.27 L172.84 198.28 L173.34 198.29 L173.84 198.31 L174.35 198.32 L174.85 198.33 L175.35 198.34 L175.85 198.36 L176.35 198.37 L176.86 198.38 L177.36 198.39 L177.86 198.41 L178.36 198.42 L178.86 198.43 L179.37 198.44 L179.87 198.45 L180.37 198.47 L180.87 198.48 L181.37 198.49 L181.88 198.5 L182.38 198.51 L182.88 198.52 L183.38 198.54 L183.88 198.55 L184.39 198.56 L184.89 198.57 L185.39 198.58 L185.89 198.59 L186.39 198.6 L186.9 198.61 L187.4 198.62 L187.9 198.63 L188.4 198.64 L188.91 198.65 L189.41 198.66 L189.91 198.67 L190.41 198.68 L190.91 198.69 L191.42 198.7 L191.92 198.71 L192.42 198.72 L192.92 198.73 L193.42 198.74 L193.93 198.75 L194.43 198.76 L194.93 198.77 L195.43 198.78 L195.93 198.79 L196.44 198.8 L196.94 198.81 L197.44 198.81 L197.94 198.82 L198.44 198.83 L198.95 198.84 L199.45 198.85 L199.95 198.86 L200.45 198.87 L200.95 198.87 L201.46 198.88 L201.96 198.89 L202.46 198.9 L202.96 198.91 L203.46 198.91 L203.97 198.92 L204.47 198.93 L204.97 198.94 L205.47 198.95 L205.97 198.95 L206.48 198.96 L206.98 198.97 L207.48 198.98 L207.98 198.98 L208.48 198.99 L208.99 199 L209.49 199 L209.99 199.01 L210.49 199.02 L210.99 199.02 L211.5 199.03 L212 199.04 L212.5 199.04 L213 199.05 L213.5 199.06 L214.01 199.06 L214.51 199.07 L215.01 199.08 L215.51 199.08 L216.01 199.09 L216.52 199.09 L217.02 199.1 L217.52 199.11 L218.02 199.11 L218.52 199.12 L219.03 199.12 L219.53 199.13 L220.03 199.13 L220.53 199.14 L221.03 199.15 L221.54 199.15 L222.04 199.16 L222.54 199.16 L223.04 199.17 L223.54 199.17 L224.05 199.18 L224.55 199.18 L225.05 199.19 L225.55 199.19 L226.05 199.2 L226.56 199.2 L227.06 199.21 L227.56 199.21 L228.06 199.21 L228.56 199.22 L229.07 199.22 L229.57 199.23 L230.07 199.23 L230.57 199.24 L231.07 199.24 L231.58 199.25 L232.08 199.25 L232.58 199.25 L233.08 199.26 L233.58 199.26 L234.09 199.26 L234.59 199.27 L235.09 199.27 L235.59 199.28 L236.09 199.28 L236.6 199.28 L237.1 199.29 L237.6 199.29 L238.1 199.29 L238.6 199.3 L239.11 199.3 L239.61 199.3 L240.11 199.31 L240.61 199.31 L241.11 199.31 L241.62 199.32 L242.12 199.32 L242.62 199.32 L243.12 199.32 L243.62 199.33 L244.13 199.33 L244.63 199.33 L245.13 199.34 L245.63 199.34 L246.13 199.34 L246.64 199.34 L247.14 199.35 L247.64 199.35 L248.14 199.35 L248.64 199.35 L249.15 199.36 L249.65 199.36 L250.15 199.36 L250.65 199.36 L251.15 199.36 L251.66 199.37 L252.16 199.37 L252.66 199.37 L253.16 199.37 L253.66 199.37 L254.17 199.38 L254.67 199.38 L255.17 199.38 L255.67 199.38 L256.17 199.38 L256.68 199.39 L257.18 199.39 L257.68 199.39 L258.18 199.39 L258.68 199.39 L259.19 199.39 L259.69 199.39 L260.19 199.4 L260.69 199.4 L261.19 199.4 L261.7 199.4 L262.2 199.4 L262.7 199.4 L263.2 199.4 L263.7 199.41 L264.21 199.41 L264.71 199.41 L265.21 199.41 L265.71 199.41 L266.21 199.41 L266.72 199.41 L267.22 199.41 L267.72 199.41 L268.22 199.41 L268.72 199.41 L269.23 199.42 L269.73 199.42 L270.23 199.42 L270.73 199.42 L271.23 199.42 L271.74 199.42 L272.24 199.42 L272.74 199.42 L273.24 199.42 L273.74 199.42 L274.25 199.42 L274.75 199.42 L275.25 199.42 L275.75 199.42 L276.25 199.42 L276.76 199.42 L277.26 199.42 L277.76 199.42 L278.26 199.42 L278.76 199.42 L279.27 199.42 L279.77 199.43 L280.27 199.43 L280.77 199.43 L281.27 199.43 L281.78 199.43 L282.28 199.43 L282.78 199.43 L283.28 199.43 L283.78 199.43 L284.29 199.43 L284.79 199.43 L285.29 199.43 L285.79 199.43 L286.29 199.43 L286.8 199.43 L287.3 199.43 L287.8 199.42 L288.3 199.42 L288.8 199.42 L289.31 199.42 L289.81 199.42 L290.31 199.42 L290.81 199.42 L291.31 199.42 L291.82 199.42 L292.32 199.42 L292.82 199.42 L293.32 199.42 L293.82 199.42 L294.33 199.42 L294.83 199.42 L295.33 199.42 L295.83 199.42 L296.33 199.42 L296.84 199.42 L297.34 199.42 L297.84 199.42 L298.34 199.42 L298.84 199.42 L299.35 199.42 L299.85 199.42 L300.35 199.42 L300.85 199.42 L301.35 199.41 L301.86 199.41 L302.36 199.41 L302.86 199.41 L303.36 199.41 L303.86 199.41 L304.37 199.41 L304.87 199.41 L305.37 199.41 L305.87 199.41 L306.37 199.41 L306.88 199.41 L307.38 199.41 L307.88 199.41 L308.38 199.41 L308.88 199.41 L309.39 199.4 L309.89 199.4 L310.39 199.4 L310.89 199.4 L311.39 199.4 L311.9 199.4 L312.4 199.4 L312.9 199.4 L313.4 199.4 L313.9 199.4 L314.41 199.4 L314.91 199.4 L315.41 199.4 L315.91 199.4 L316.41 199.4 L316.92 199.39 L317.42 199.39 L317.92 199.39 L318.42 199.39 L318.92 199.39 L319.43 199.39 L319.93 199.39 L320.43 199.39 L320.93 199.39 L321.43 199.39 L321.94 199.39 L322.44 199.39 L322.94 199.39 L323.44 199.39 L323.94 199.39 L324.45 199.38 L324.95 199.38 L325.45 199.38 L325.95 199.38 L326.45 199.38 L326.96 199.38 L327.46 199.38 L327.96 199.38 L328.46 199.38 L328.96 199.38 L329.47 199.38 L329.97 199.38 L330.47 199.38 L330.97 199.38 L331.47 199.38 L331.98 199.38 L332.48 199.38 L332.98 199.38 L333.48 199.38 L333.98 199.37 L334.49 199.37 L334.99 199.37 L335.49 199.37 L335.99 199.37 L336.49 199.37 L337 199.37 L337.5 199.37 L338 199.37" fill="none" stroke="#000" stroke-width="1.3" stroke-linejoin="round" stroke-linecap="round" />
<path d="M37.3 199.42 L37.8 199.03 L38.3 198.45 L38.81 197.67 L39.31 196.7 L39.81 195.55 L40.31 194.23 L40.81 192.73 L41.32 191.08 L41.82 189.27 L42.32 187.32 L42.82 185.22 L43.32 182.99 L43.83 180.64 L44.33 178.21 L44.83 175.73 L45.33 173.24 L45.83 170.77 L46.34 168.35 L46.84 166.02 L47.34 163.82 L47.84 161.75 L48.34 159.81 L48.85 157.99 L49.35 156.28 L49.85 154.7 L50.35 153.22 L50.85 151.85 L51.36 150.58 L51.86 149.41 L52.36 148.33 L52.86 147.34 L53.36 146.44 L53.87 145.61 L54.37 144.86 L54.87 144.18 L55.37 143.57 L55.87 143.02 L56.38 142.53 L56.88 142.09 L57.38 141.7 L57.88 141.35 L58.38 141.05 L58.89 140.78 L59.39 140.55 L59.89 140.35 L60.39 140.19 L60.89 140.07 L61.4 139.98 L61.9 139.91 L62.4 139.89 L62.9 139.89 L63.4 139.91 L63.91 139.97 L64.41 140.06 L64.91 140.17 L65.41 140.3 L65.91 140.46 L66.42 140.65 L66.92 140.85 L67.42 141.08 L67.92 141.32 L68.42 141.59 L68.93 141.87 L69.43 142.18 L69.93 142.49 L70.43 142.83 L70.93 143.17 L71.44 143.53 L71.94 143.91 L72.44 144.29 L72.94 144.69 L73.44 145.09 L73.95 145.5 L74.45 145.92 L74.95 146.35 L75.45 146.78 L75.95 147.22 L76.46 147.66 L76.96 148.1 L77.46 148.55 L77.96 149 L78.46 149.45 L78.97 149.91 L79.47 150.37 L79.97 150.83 L80.47 151.29 L80.97 151.76 L81.48 152.22 L81.98 152.69 L82.48 153.16 L82.98 153.63 L83.48 154.09 L83.99 154.56 L84.49 155.03 L84.99 155.5 L85.49 155.96 L85.99 156.43 L86.5 156.89 L87 157.35 L87.5 157.81 L88 158.27 L88.5 158.73 L89.01 159.18 L89.51 159.63 L90.01 160.07 L90.51 160.52 L91.01 160.96 L91.52 161.39 L92.02 161.82 L92.52 162.25 L93.02 162.67 L93.52 163.09 L94.03 163.5 L94.53 163.91 L95.03 164.31 L95.53 164.72 L96.03 165.11 L96.54 165.51 L97.04 165.9 L97.54 166.28 L98.04 166.66 L98.54 167.04 L99.05 167.42 L99.55 167.79 L100.05 168.15 L100.55 168.52 L101.05 168.87 L101.56 169.23 L102.06 169.58 L102.56 169.93 L103.06 170.27 L103.56 170.62 L104.07 170.95 L104.57 171.29 L105.07 171.62 L105.57 171.94 L106.07 172.27 L106.58 172.59 L107.08 172.9 L107.58 173.22 L108.08 173.52 L108.58 173.83 L109.09 174.13 L109.59 174.43 L110.09 174.73 L110.59 175.02 L111.09 175.31 L111.6 175.6 L112.1 175.88 L112.6 176.16 L113.1 176.44 L113.6 176.71 L114.11 176.99 L114.61 177.25 L115.11 177.52 L115.61 177.78 L116.11 178.04 L116.62 178.3 L117.12 178.55 L117.62 178.8 L118.12 179.05 L118.62 179.29 L119.13 179.53 L119.63 179.77 L120.13 180.01 L120.63 180.24 L121.13 180.47 L121.64 180.7 L122.14 180.93 L122.64 181.15 L123.14 181.37 L123.64 181.59 L124.15 181.8 L124.65 182.01 L125.15 182.22 L125.65 182.43 L126.15 182.64 L126.66 182.84 L127.16 183.04 L127.66 183.24 L128.16 183.43 L128.66 183.62 L129.17 183.82 L129.67 184 L130.17 184.19 L130.67 184.37 L131.17 184.56 L131.68 184.74 L132.18 184.91 L132.68 185.09 L133.18 185.26 L133.68 185.43 L134.19 185.6 L134.69 185.77 L135.19 185.93 L135.69 186.1 L136.19 186.26 L136.7 186.42 L137.2 186.57 L137.7 186.73 L138.2 186.88 L138.7 187.04 L139.21 187.19 L139.71 187.33 L140.21 187.48 L140.71 187.62 L141.21 187.77 L141.72 187.91 L142.22 188.05 L142.72 188.18 L143.22 188.32 L143.72 188.45 L144.23 188.59 L144.73 188.72 L145.23 188.84 L145.73 188.97 L146.23 189.1 L146.74 189.22 L147.24 189.34 L147.74 189.46 L148.24 189.58 L148.74 189.7 L149.25 189.82 L149.75 189.93 L150.25 190.04 L150.75 190.15 L151.25 190.26 L151.76 190.37 L152.26 190.48 L152.76 190.58 L153.26 190.68 L153.76 190.79 L154.27 190.89 L154.77 190.99 L155.27 191.08 L155.77 191.18 L156.27 191.27 L156.78 191.37 L157.28 191.46 L157.78 191.55 L158.28 191.64 L158.78 191.73 L159.29 191.81 L159.79 191.9 L160.29 191.98 L160.79 192.06 L161.29 192.15 L161.8 192.23 L162.3 192.3 L162.8 192.38 L163.3 192.46 L163.8 192.53 L164.31 192.61 L164.81 192.68 L165.31 192.75 L165.81 192.82 L166.31 192.89 L166.82 192.96 L167.32 193.02 L167.82 193.09 L168.32 193.15 L168.82 193.21 L169.33 193.28 L169.83 193.34 L170.33 193.4 L170.83 193.46 L171.33 193.51 L171.84 193.57 L172.34 193.63 L172.84 193.68 L173.34 193.74 L173.84 193.79 L174.35 193.84 L174.85 193.89 L175.35 193.94 L175.85 193.99 L176.35 194.04 L176.86 194.08 L177.36 194.13 L177.86 194.18 L178.36 194.22 L178.86 194.26 L179.37 194.31 L179.87 194.35 L180.37 194.39 L180.87 194.43 L181.37 194.47 L181.88 194.51 L182.38 194.54 L182.88 194.58 L183.38 194.62 L183.88 194.65 L184.39 194.69 L184.89 194.72 L185.39 194.76 L185.89 194.79 L186.39 194.82 L186.9 194.85 L187.4 194.88 L187.9 194.91 L188.4 194.94 L188.91 194.97 L189.41 195 L189.91 195.03 L190.41 195.05 L190.91 195.08 L191.42 195.11 L191.92 195.13 L192.42 195.16 L192.92 195.18 L193.42 195.2 L193.93 195.23 L194.43 195.25 L194.93 195.27 L195.43 195.29 L195.93 195.32 L196.44 195.34 L196.94 195.36 L197.44 195.38 L197.94 195.4 L198.44 195.42 L198.95 195.44 L199.45 195.45 L199.95 195.47 L200.45 195.49 L200.95 195.51 L201.46 195.53 L201.96 195.54 L202.46 195.56 L202.96 195.58 L203.46 195.59 L203.97 195.61 L204.47 195.62 L204.97 195.64 L205.47 195.65 L205.97 195.67 L206.48 195.68 L206.98 195.7 L207.48 195.71 L207.98 195.73 L208.48 195.74 L208.99 195.76 L209.49 195.77 L209.99 195.79 L210.49 195.8 L210.99 195.81 L211.5 195.83 L212 195.84 L212.5 195.85 L213 195.87 L213.5 195.88 L214.01 195.89 L214.51 195.91 L215.01 195.92 L215.51 195.94 L216.01 195.95 L216.52 195.96 L217.02 195.98 L217.52 195.99 L218.02 196.01 L218.52 196.02 L219.03 196.03 L219.53 196.05 L220.03 196.06 L220.53 196.08 L221.03 196.09 L221.54 196.11 L222.04 196.12 L222.54 196.14 L223.04 196.15 L223.54 196.17 L224.05 196.19 L224.55 196.2 L225.05 196.22 L225.55 196.23 L226.05 196.25 L226.56 196.27 L227.06 196.28 L227.56 196.3 L228.06 196.32 L228.56 196.33 L229.07 196.35 L229.57 196.37 L230.07 196.39 L230.57 196.4 L231.07 196.42 L231.58 196.44 L232.08 196.46 L232.58 196.47 L233.08 196.49 L233.58 196.51 L234.09 196.53 L234.59 196.55 L235.09 196.56 L235.59 196.58 L236.09 196.6 L236.6 196.62 L237.1 196.64 L237.6 196.66 L238.1 196.68 L238.6 196.7 L239.11 196.72 L239.61 196.73 L240.11 196.75 L240.61 196.77 L241.11 196.79 L241.62 196.81 L242.12 196.83 L242.62 196.85 L243.12 196.87 L243.62 196.89 L244.13 196.91 L244.63 196.93 L245.13 196.95 L245.63 196.97 L246.13 196.99 L246.64 197.01 L247.14 197.03 L247.64 197.05 L248.14 197.07 L248.64 197.09 L249.15 197.11 L249.65 197.13 L250.15 197.15 L250.65 197.17 L251.15 197.19 L251.66 197.21 L252.16 197.23 L252.66 197.25 L253.16 197.27 L253.66 197.29 L254.17 197.31 L254.67 197.33 L255.17 197.35 L255.67 197.37 L256.17 197.39 L256.68 197.41 L257.18 197.43 L257.68 197.45 L258.18 197.47 L258.68 197.49 L259.19 197.51 L259.69 197.53 L260.19 197.55 L260.69 197.57 L261.19 197.59 L261.7 197.61 L262.2 197.63 L262.7 197.65 L263.2 197.67 L263.7 197.69 L264.21 197.71 L264.71 197.73 L265.21 197.75 L265.71 197.77 L266.21 197.79 L266.72 197.81 L267.22 197.83 L267.72 197.85 L268.22 197.87 L268.72 197.89 L269.23 197.91 L269.73 197.93 L270.23 197.95 L270.73 197.97 L271.23 197.99 L271.74 198.01 L272.24 198.03 L272.74 198.05 L273.24 198.06 L273.74 198.08 L274.25 198.1 L274.75 198.12 L275.25 198.14 L275.75 198.16 L276.25 198.18 L276.76 198.19 L277.26 198.21 L277.76 198.23 L278.26 198.25 L278.76 198.27 L279.27 198.28 L279.77 198.3 L280.27 198.32 L280.77 198.34 L281.27 198.35 L281.78 198.37 L282.28 198.39 L282.78 198.41 L283.28 198.42 L283.78 198.44 L284.29 198.46 L284.79 198.47 L285.29 198.49 L285.79 198.5 L286.29 198.52 L286.8 198.54 L287.3 198.55 L287.8 198.57 L288.3 198.58 L288.8 198.6 L289.31 198.61 L289.81 198.63 L290.31 198.64 L290.81 198.66 L291.31 198.67 L291.82 198.69 L292.32 198.7 L292.82 198.72 L293.32 198.73 L293.82 198.74 L294.33 198.76 L294.83 198.77 L295.33 198.78 L295.83 198.8 L296.33 198.81 L296.84 198.82 L297.34 198.84 L297.84 198.85 L298.34 198.86 L298.84 198.87 L299.35 198.88 L299.85 198.89 L300.35 198.91 L300.85 198.92 L301.35 198.93 L301.86 198.94 L302.36 198.95 L302.86 198.96 L303.36 198.97 L303.86 198.98 L304.37 198.99 L304.87 199 L305.37 199.01 L305.87 199.02 L306.37 199.03 L306.88 199.03 L307.38 199.04 L307.88 199.05 L308.38 199.06 L308.88 199.07 L309.39 199.07 L309.89 199.08 L310.39 199.09 L310.89 199.09 L311.39 199.1 L311.9 199.11 L312.4 199.11 L312.9 199.12 L313.4 199.12 L313.9 199.13 L314.41 199.13 L314.91 199.14 L315.41 199.14 L315.91 199.14 L316.41 199.15 L316.92 199.15 L317.42 199.15 L317.92 199.16 L318.42 199.16 L318.92 199.16 L319.43 199.16 L319.93 199.17 L320.43 199.17 L320.93 199.17 L321.43 199.17 L321.94 199.17 L322.44 199.17 L322.94 199.17 L323.44 199.17 L323.94 199.17 L324.45 199.17 L324.95 199.17 L325.45 199.17 L325.95 199.16 L326.45 199.16 L326.96 199.16 L327.46 199.16 L327.96 199.15 L328.46 199.15 L328.96 199.15 L329.47 199.14 L329.97 199.14 L330.47 199.13 L330.97 199.13 L331.47 199.12 L331.98 199.12 L332.48 199.11 L332.98 199.1 L333.48 199.1 L333.98 199.09 L334.49 199.08 L334.99 199.07 L335.49 199.06 L335.99 199.06 L336.49 199.05 L337 199.04 L337.5 199.03 L338 199.02" fill="none" stroke="#0000ff" stroke-width="1.3" stroke-linejoin="round" stroke-linecap="round" />
<path d="M37.3 199.42 L37.8 199.17 L38.3 198.56 L38.81 197.63 L39.31 196.38 L39.81 194.85 L40.31 193.05 L40.81 191.01 L41.32 188.75 L41.82 186.29 L42.32 183.66 L42.82 180.88 L43.32 177.97 L43.83 174.95 L44.33 171.86 L44.83 168.71 L45.33 165.53 L45.83 162.35 L46.34 159.18 L46.84 156.05 L47.34 152.98 L47.84 149.99 L48.34 147.09 L48.85 144.31 L49.35 141.67 L49.85 139.19 L50.35 136.85 L50.85 134.67 L51.36 132.62 L51.86 130.71 L52.36 128.92 L52.86 127.24 L53.36 125.68 L53.87 124.22 L54.37 122.86 L54.87 121.6 L55.37 120.43 L55.87 119.34 L56.38 118.35 L56.88 117.44 L57.38 116.61 L57.88 115.86 L58.38 115.19 L58.89 114.6 L59.39 114.07 L59.89 113.62 L60.39 113.23 L60.89 112.9 L61.4 112.64 L61.9 112.44 L62.4 112.29 L62.9 112.2 L63.4 112.16 L63.91 112.17 L64.41 112.22 L64.91 112.32 L65.41 112.46 L65.91 112.63 L66.42 112.85 L66.92 113.09 L67.42 113.37 L67.92 113.67 L68.42 114 L68.93 114.36 L69.43 114.73 L69.93 115.13 L70.43 115.55 L70.93 115.99 L71.44 116.45 L71.94 116.93 L72.44 117.42 L72.94 117.94 L73.44 118.47 L73.95 119.02 L74.45 119.58 L74.95 120.16 L75.45 120.75 L75.95 121.35 L76.46 121.97 L76.96 122.6 L77.46 123.23 L77.96 123.88 L78.46 124.54 L78.97 125.21 L79.47 125.88 L79.97 126.57 L80.47 127.25 L80.97 127.95 L81.48 128.65 L81.98 129.35 L82.48 130.06 L82.98 130.77 L83.48 131.48 L83.99 132.2 L84.49 132.91 L84.99 133.63 L85.49 134.34 L85.99 135.05 L86.5 135.76 L87 136.47 L87.5 137.17 L88 137.87 L88.5 138.56 L89.01 139.25 L89.51 139.93 L90.01 140.6 L90.51 141.27 L91.01 141.93 L91.52 142.59 L92.02 143.23 L92.52 143.87 L93.02 144.51 L93.52 145.14 L94.03 145.76 L94.53 146.38 L95.03 146.99 L95.53 147.59 L96.03 148.19 L96.54 148.78 L97.04 149.36 L97.54 149.94 L98.04 150.52 L98.54 151.08 L99.05 151.64 L99.55 152.2 L100.05 152.75 L100.55 153.29 L101.05 153.83 L101.56 154.36 L102.06 154.89 L102.56 155.41 L103.06 155.93 L103.56 156.44 L104.07 156.94 L104.57 157.44 L105.07 157.94 L105.57 158.43 L106.07 158.91 L106.58 159.39 L107.08 159.86 L107.58 160.33 L108.08 160.79 L108.58 161.25 L109.09 161.7 L109.59 162.15 L110.09 162.59 L110.59 163.03 L111.09 163.46 L111.6 163.89 L112.1 164.31 L112.6 164.73 L113.1 165.14 L113.6 165.55 L114.11 165.95 L114.61 166.35 L115.11 166.75 L115.61 167.14 L116.11 167.52 L116.62 167.91 L117.12 168.28 L117.62 168.65 L118.12 169.02 L118.62 169.39 L119.13 169.75 L119.63 170.1 L120.13 170.45 L120.63 170.8 L121.13 171.15 L121.64 171.49 L122.14 171.82 L122.64 172.15 L123.14 172.48 L123.64 172.8 L124.15 173.12 L124.65 173.44 L125.15 173.75 L125.65 174.06 L126.15 174.37 L126.66 174.67 L127.16 174.97 L127.66 175.26 L128.16 175.55 L128.66 175.84 L129.17 176.13 L129.67 176.41 L130.17 176.68 L130.67 176.96 L131.17 177.23 L131.68 177.5 L132.18 177.76 L132.68 178.02 L133.18 178.28 L133.68 178.54 L134.19 178.79 L134.69 179.04 L135.19 179.29 L135.69 179.53 L136.19 179.78 L136.7 180.01 L137.2 180.25 L137.7 180.48 L138.2 180.71 L138.7 180.94 L139.21 181.17 L139.71 181.39 L140.21 181.61 L140.71 181.83 L141.21 182.05 L141.72 182.26 L142.22 182.47 L142.72 182.68 L143.22 182.88 L143.72 183.09 L144.23 183.29 L144.73 183.49 L145.23 183.69 L145.73 183.88 L146.23 184.07 L146.74 184.26 L147.24 184.45 L147.74 184.64 L148.24 184.82 L148.74 185 L149.25 185.18 L149.75 185.36 L150.25 185.53 L150.75 185.71 L151.25 185.88 L151.76 186.05 L152.26 186.21 L152.76 186.38 L153.26 186.54 L153.76 186.7 L154.27 186.86 L154.77 187.01 L155.27 187.17 L155.77 187.32 L156.27 187.47 L156.78 187.62 L157.28 187.77 L157.78 187.91 L158.28 188.05 L158.78 188.19 L159.29 188.33 L159.79 188.47 L160.29 188.61 L160.79 188.74 L161.29 188.87 L161.8 189 L162.3 189.13 L162.8 189.25 L163.3 189.38 L163.8 189.5 L164.31 189.62 L164.81 189.74 L165.31 189.86 L165.81 189.98 L166.31 190.09 L166.82 190.2 L167.32 190.31 L167.82 190.42 L168.32 190.53 L168.82 190.64 L169.33 190.74 L169.83 190.84 L170.33 190.95 L170.83 191.05 L171.33 191.14 L171.84 191.24 L172.34 191.34 L172.84 191.43 L173.34 191.52 L173.84 191.61 L174.35 191.7 L174.85 191.79 L175.35 191.88 L175.85 191.96 L176.35 192.05 L176.86 192.13 L177.36 192.21 L177.86 192.29 L178.36 192.37 L178.86 192.45 L179.37 192.53 L179.87 192.6 L180.37 192.67 L180.87 192.75 L181.37 192.82 L181.88 192.89 L182.38 192.96 L182.88 193.03 L183.38 193.09 L183.88 193.16 L184.39 193.22 L184.89 193.28 L185.39 193.35 L185.89 193.41 L186.39 193.47 L186.9 193.53 L187.4 193.59 L187.9 193.64 L188.4 193.7 L188.91 193.75 L189.41 193.81 L189.91 193.86 L190.41 193.91 L190.91 193.96 L191.42 194.01 L191.92 194.06 L192.42 194.11 L192.92 194.16 L193.42 194.21 L193.93 194.25 L194.43 194.3 L194.93 194.34 L195.43 194.38 L195.93 194.43 L196.44 194.47 L196.94 194.51 L197.44 194.55 L197.94 194.59 L198.44 194.63 L198.95 194.67 L199.45 194.7 L199.95 194.74 L200.45 194.78 L200.95 194.81 L201.46 194.85 L201.96 194.88 L202.46 194.92 L202.96 194.95 L203.46 194.98 L203.97 195.02 L204.47 195.05 L204.97 195.08 L205.47 195.11 L205.97 195.14 L206.48 195.17 L206.98 195.2 L207.48 195.23 L207.98 195.26 L208.48 195.28 L208.99 195.31 L209.49 195.34 L209.99 195.37 L210.49 195.39 L210.99 195.42 L211.5 195.44 L212 195.47 L212.5 195.5 L213 195.52 L213.5 195.55 L214.01 195.57 L214.51 195.59 L215.01 195.62 L215.51 195.64 L216.01 195.67 L216.52 195.69 L217.02 195.71 L217.52 195.74 L218.02 195.76 L218.52 195.78 L219.03 195.81 L219.53 195.83 L220.03 195.85 L220.53 195.87 L221.03 195.9 L221.54 195.92 L222.04 195.94 L222.54 195.97 L223.04 195.99 L223.54 196.01 L224.05 196.03 L224.55 196.06 L225.05 196.08 L225.55 196.1 L226.05 196.12 L226.56 196.15 L227.06 196.17 L227.56 196.19 L228.06 196.21 L228.56 196.23 L229.07 196.26 L229.57 196.28 L230.07 196.3 L230.57 196.32 L231.07 196.34 L231.58 196.37 L232.08 196.39 L232.58 196.41 L233.08 196.43 L233.58 196.45 L234.09 196.47 L234.59 196.49 L235.09 196.52 L235.59 196.54 L236.09 196.56 L236.6 196.58 L237.1 196.6 L237.6 196.62 L238.1 196.64 L238.6 196.66 L239.11 196.68 L239.61 196.71 L240.11 196.73 L240.61 196.75 L241.11 196.77 L241.62 196.79 L242.12 196.81 L242.62 196.83 L243.12 196.85 L243.62 196.87 L244.13 196.89 L244.63 196.91 L245.13 196.93 L245.63 196.95 L246.13 196.97 L246.64 196.99 L247.14 197.01 L247.64 197.03 L248.14 197.05 L248.64 197.07 L249.15 197.09 L249.65 197.11 L250.15 197.13 L250.65 197.15 L251.15 197.17 L251.66 197.18 L252.16 197.2 L252.66 197.22 L253.16 197.24 L253.66 197.26 L254.17 197.28 L254.67 197.3 L255.17 197.32 L255.67 197.33 L256.17 197.35 L256.68 197.37 L257.18 197.39 L257.68 197.41 L258.18 197.43 L258.68 197.44 L259.19 197.46 L259.69 197.48 L260.19 197.5 L260.69 197.52 L261.19 197.53 L261.7 197.55 L262.2 197.57 L262.7 197.59 L263.2 197.6 L263.7 197.62 L264.21 197.64 L264.71 197.65 L265.21 197.67 L265.71 197.69 L266.21 197.71 L266.72 197.72 L267.22 197.74 L267.72 197.75 L268.22 197.77 L268.72 197.79 L269.23 197.8 L269.73 197.82 L270.23 197.84 L270.73 197.85 L271.23 197.87 L271.74 197.88 L272.24 197.9 L272.74 197.92 L273.24 197.93 L273.74 197.95 L274.25 197.96 L274.75 197.98 L275.25 197.99 L275.75 198.01 L276.25 198.02 L276.76 198.04 L277.26 198.05 L277.76 198.07 L278.26 198.08 L278.76 198.09 L279.27 198.11 L279.77 198.12 L280.27 198.14 L280.77 198.15 L281.27 198.17 L281.78 198.18 L282.28 198.19 L282.78 198.21 L283.28 198.22 L283.78 198.23 L284.29 198.25 L284.79 198.26 L285.29 198.27 L285.79 198.29 L286.29 198.3 L286.8 198.31 L287.3 198.32 L287.8 198.34 L288.3 198.35 L288.8 198.36 L289.31 198.37 L289.81 198.39 L290.31 198.4 L290.81 198.41 L291.31 198.42 L291.82 198.43 L292.32 198.45 L292.82 198.46 L293.32 198.47 L293.82 198.48 L294.33 198.49 L294.83 198.5 L295.33 198.51 L295.83 198.52 L296.33 198.53 L296.84 198.54 L297.34 198.56 L297.84 198.57 L298.34 198.58 L298.84 198.59 L299.35 198.6 L299.85 198.61 L300.35 198.62 L300.85 198.63 L301.35 198.63 L301.86 198.64 L302.36 198.65 L302.86 198.66 L303.36 198.67 L303.86 198.68 L304.37 198.69 L304.87 198.7 L305.37 198.71 L305.87 198.71 L306.37 198.72 L306.88 198.73 L307.38 198.74 L307.88 198.75 L308.38 198.75 L308.88 198.76 L309.39 198.77 L309.89 198.78 L310.39 198.78 L310.89 198.79 L311.39 198.8 L311.9 198.81 L312.4 198.81 L312.9 198.82 L313.4 198.82 L313.9 198.83 L314.41 198.84 L314.91 198.84 L315.41 198.85 L315.91 198.86 L316.41 198.86 L316.92 198.87 L317.42 198.87 L317.92 198.88 L318.42 198.88 L318.92 198.89 L319.43 198.89 L319.93 198.9 L320.43 198.9 L320.93 198.91 L321.43 198.91 L321.94 198.91 L322.44 198.92 L322.94 198.92 L323.44 198.93 L323.94 198.93 L324.45 198.93 L324.95 198.94 L325.45 198.94 L325.95 198.94 L326.45 198.95 L326.96 198.95 L327.46 198.95 L327.96 198.95 L328.46 198.96 L328.96 198.96 L329.47 198.96 L329.97 198.96 L330.47 198.96 L330.97 198.96 L331.47 198.97 L331.98 198.97 L332.48 198.97 L332.98 198.97 L333.48 198.97 L333.98 198.97 L334.49 198.97 L334.99 198.97 L335.49 198.97 L335.99 198.97 L336.49 198.97 L337 198.97 L337.5 198.97 L338 198.97" fill="none" stroke="#9900cc" stroke-width="1.3" stroke-linejoin="round" stroke-linecap="round" />
<circle cx="46" cy="172.4" r="2.6" fill="#000"/>
<circle cx="49.1" cy="172.4" r="2.6" fill="#000"/>
<circle cx="51.8" cy="172.2" r="2.6" fill="#000"/>
<circle cx="54.4" cy="171.8" r="2.6" fill="#000"/>
<circle cx="60.5" cy="174.6" r="2.6" fill="#000"/>
<circle cx="73" cy="183.3" r="2.6" fill="#000"/>
<circle cx="85" cy="190" r="2.6" fill="#000"/>
<circle cx="96.5" cy="193.8" r="2.6" fill="#000"/>
<circle cx="108.8" cy="196" r="2.6" fill="#000"/>
<circle cx="133.1" cy="197.2" r="2.6" fill="#000"/>
<circle cx="181" cy="197.9" r="2.6" fill="#000"/>
<circle cx="217.4" cy="197.8" r="2.6" fill="#000"/>
<circle cx="253.1" cy="198" r="2.6" fill="#000"/>
<circle cx="60.7" cy="115.1" r="2.6" fill="#0000ff"/>
<circle cx="72.9" cy="119.6" r="2.6" fill="#0000ff"/>
<circle cx="51.8" cy="131.1" r="2.6" fill="#0000ff"/>
<circle cx="48.5" cy="144.3" r="2.6" fill="#0000ff"/>
<circle cx="45.6" cy="152.2" r="2.6" fill="#0000ff"/>
<circle cx="42.7" cy="162.4" r="2.6" fill="#0000ff"/>
<circle cx="84.8" cy="136" r="2.6" fill="#0000ff"/>
<circle cx="96.9" cy="145.3" r="2.6" fill="#0000ff"/>
<circle cx="54.7" cy="123.2" r="2.6" fill="#0000ff"/>
<circle cx="108.8" cy="157.4" r="2.6" fill="#0000ff"/>
<circle cx="133.1" cy="173.4" r="2.6" fill="#0000ff"/>
<circle cx="181" cy="186.6" r="2.6" fill="#0000ff"/>
<circle cx="217.4" cy="190.2" r="2.6" fill="#0000ff"/>
<circle cx="60.7" cy="119.9" r="2.6" fill="#9400d3"/>
<circle cx="54.7" cy="121.8" r="2.6" fill="#9400d3"/>
<circle cx="51.8" cy="126.9" r="2.6" fill="#9400d3"/>
<circle cx="48.9" cy="133.3" r="2.6" fill="#9400d3"/>
<circle cx="45.6" cy="138.1" r="2.6" fill="#9400d3"/>
<circle cx="42.9" cy="149.3" r="2.6" fill="#9400d3"/>
<circle cx="72.6" cy="128.5" r="2.6" fill="#9400d3"/>
<circle cx="84.5" cy="144.3" r="2.6" fill="#9400d3"/>
<circle cx="96.9" cy="154.6" r="2.6" fill="#9400d3"/>
<circle cx="108.8" cy="163.6" r="2.6" fill="#9400d3"/>
<circle cx="133.1" cy="177.2" r="2.6" fill="#9400d3"/>
<circle cx="181" cy="188.8" r="2.6" fill="#9400d3"/>
<circle cx="217.4" cy="192.3" r="2.6" fill="#9400d3"/>
<circle cx="253.1" cy="194.1" r="2.6" fill="#9400d3"/>
<circle cx="325.5" cy="196.4" r="2.6" fill="#9400d3"/>
<line x1="36.5" y1="24.5" x2="36.5" y2="199.4" stroke="#6a6a6a" stroke-width="1"/>
<line x1="34.3" y1="199.4" x2="36.5" y2="199.4" stroke="#6a6a6a" stroke-width="0.8"/>
<text x="33.3" y="203.3" font-size="11.4" text-anchor="end" font-weight="normal" fill="#111" >0</text>
<line x1="34.3" y1="158.12" x2="36.5" y2="158.12" stroke="#6a6a6a" stroke-width="0.8"/>
<text x="33.3" y="162.02" font-size="11.4" text-anchor="end" font-weight="normal" fill="#111" >2</text>
<line x1="34.3" y1="116.84" x2="36.5" y2="116.84" stroke="#6a6a6a" stroke-width="0.8"/>
<text x="33.3" y="120.74" font-size="11.4" text-anchor="end" font-weight="normal" fill="#111" >4</text>
<line x1="34.3" y1="75.56" x2="36.5" y2="75.56" stroke="#6a6a6a" stroke-width="0.8"/>
<text x="33.3" y="79.46" font-size="11.4" text-anchor="end" font-weight="normal" fill="#111" >6</text>
<line x1="34.3" y1="34.28" x2="36.5" y2="34.28" stroke="#6a6a6a" stroke-width="0.8"/>
<text x="33.3" y="38.18" font-size="11.4" text-anchor="end" font-weight="normal" fill="#111" >8</text>
<line x1="36.5" y1="199.4" x2="338" y2="199.4" stroke="#444" stroke-width="1"/>
<line x1="36.5" y1="199.4" x2="36.5" y2="201.6" stroke="#444" stroke-width="0.8"/>
<text x="36.5" y="210.8" font-size="11.4" text-anchor="middle" font-weight="normal" fill="#111" >0</text>
<line x1="108.74" y1="199.4" x2="108.74" y2="201.6" stroke="#444" stroke-width="0.8"/>
<text x="108.74" y="210.8" font-size="11.4" text-anchor="middle" font-weight="normal" fill="#111" >12</text>
<line x1="180.98" y1="199.4" x2="180.98" y2="201.6" stroke="#444" stroke-width="0.8"/>
<text x="180.98" y="210.8" font-size="11.4" text-anchor="middle" font-weight="normal" fill="#111" >24</text>
<line x1="253.22" y1="199.4" x2="253.22" y2="201.6" stroke="#444" stroke-width="0.8"/>
<text x="253.22" y="210.8" font-size="11.4" text-anchor="middle" font-weight="normal" fill="#111" >36</text>
<line x1="325.46" y1="199.4" x2="325.46" y2="201.6" stroke="#444" stroke-width="0.8"/>
<text x="325.46" y="210.8" font-size="11.4" text-anchor="middle" font-weight="normal" fill="#111" >48</text>
<text x="187.6" y="223" font-size="11.7" text-anchor="middle" font-weight="normal" fill="#111" >Time [h]</text>
<text x="18.1" y="111.9" font-size="11.65" text-anchor="middle" font-weight="normal" fill="#111" transform="rotate(-90 18.1 111.9)">Metformin plasma [µg/ml]</text>
<text x="35.6" y="17.7" font-size="19.4" text-anchor="start" font-weight="bold" fill="#000" >a</text>
<text x="59.2" y="18" font-size="13.25" text-anchor="start" font-weight="normal" fill="#111" >Metformin - 850 mg - single dose</text>
<circle cx="226.7" cy="33.6" r="2.5" fill="#000"/>
<text x="238.1" y="37.2" font-size="9.1" text-anchor="start" font-weight="normal" fill="#111" >Sambol 1995 - Healthy</text>
<circle cx="226.7" cy="43.95" r="2.5" fill="#0000ff"/>
<text x="238.1" y="47.5" font-size="9.1" text-anchor="start" font-weight="normal" fill="#111" >Sambol 1995 - CKD3B</text>
<circle cx="226.7" cy="54.3" r="2.5" fill="#9400d3"/>
<text x="238.1" y="57.8" font-size="9.1" text-anchor="start" font-weight="normal" fill="#111" >Sambol 1995 - CKD4</text>
<text x="238.1" y="67.8" font-size="9.1" text-anchor="start" font-weight="normal" fill="#111" >n = 6/4/6</text>
<path d="M371.3 94 L372.07 94.83 L372.83 95.65 L373.6 96.47 L374.36 97.27 L375.13 98.07 L375.9 98.87 L376.66 99.65 L377.43 100.43 L378.2 101.2 L378.96 102.06 L379.73 103 L380.49 103.98 L381.26 104.94 L382.03 105.84 L382.79 106.64 L383.56 107.28 L384.32 107.71 L385.09 107.9 L385.86 106.94 L386.62 104 L387.39 100.1 L388.16 96.23 L388.92 91.67 L389.69 86.53 L390.45 81.77 L391.22 78.1 L391.99 74.93 L392.75 72.08 L393.52 69.5 L394.28 67.14 L395.05 64.92 L395.82 62.82 L396.58 60.85 L397.35 59.03 L398.12 57.36 L398.88 55.84 L399.65 54.38 L400.41 53 L401.18 51.84 L401.95 51.04 L402.71 50.52 L403.48 50.06 L404.25 49.68 L405.01 49.42 L405.78 49.3 L406.54 49.47 L407.31 49.97 L408.08 50.56 L408.84 51.25 L409.61 52.09 L410.37 53.02 L411.14 53.97 L411.91 54.89 L412.67 55.84 L413.44 56.83 L414.21 57.84 L414.97 58.85 L415.74 59.85 L416.5 60.8 L417.27 61.71 L418.04 62.54 L418.8 63.3 L419.57 64 L420.33 64.66 L421.1 65.29 L421.87 65.9 L422.63 66.53 L423.4 67.17 L424.17 67.85 L424.93 68.58 L425.7 69.38 L426.46 70.26 L427.23 71.23 L428 72.28 L428.76 73.39 L429.53 74.55 L430.29 75.75 L431.06 76.97 L431.83 78.21 L432.59 79.44 L433.36 80.66 L434.13 81.85 L434.89 83.07 L435.66 84.33 L436.42 85.61 L437.19 86.9 L437.96 88.19 L438.72 89.47 L439.49 90.71 L440.25 91.92 L441.02 93.07 L441.79 94.15 L442.55 95.17 L443.32 96.17 L444.09 97.14 L444.85 98.09 L445.62 99.02 L446.38 99.92 L447.15 100.81 L447.92 101.67 L448.68 102.52 L449.45 103.35 L450.22 104.16 L450.98 104.96 L451.75 105.75 L452.51 106.52 L453.28 107.28 L454.05 108.02 L454.81 108.75 L455.58 109.46 L456.34 110.15 L457.11 110.83 L457.88 111.51 L458.64 112.17 L459.41 112.82 L460.18 113.46 L460.94 114.1 L461.71 114.73 L462.47 115.35 L463.24 115.97 L464.01 116.59 L464.77 117.21 L465.54 117.83 L466.3 118.45 L467.07 119.07 L467.84 119.7 L468.6 120.33 L469.37 120.97 L470.14 121.61 L470.9 122.27 L471.67 122.95 L472.43 123.64 L473.2 124.35 L473.97 125.06 L474.73 125.78 L475.5 126.51 L476.26 127.25 L477.03 127.99 L477.8 128.72 L478.56 129.46 L479.33 130.19 L480.1 130.92 L480.86 131.64 L481.63 132.35 L482.39 133.04 L483.16 133.73 L483.93 134.4 L484.69 135.05 L485.46 135.68 L486.22 136.28 L486.99 136.87 L487.76 137.43 L488.52 137.96 L489.29 138.46 L490.06 138.92 L490.82 139.36 L491.59 139.76 L492.35 140.12 L493.12 140.46 L493.89 140.8 L494.65 141.14 L495.42 141.46 L496.18 141.78 L496.95 142.09 L497.72 142.4 L498.48 142.7 L499.25 142.99 L500.02 143.28 L500.78 143.56 L501.55 143.83 L502.31 144.1 L503.08 144.36 L503.85 144.62 L504.61 144.87 L505.38 145.12 L506.15 145.36 L506.91 145.6 L507.68 145.83 L508.44 146.06 L509.21 146.28 L509.98 146.5 L510.74 146.72 L511.51 146.93 L512.27 147.13 L513.04 147.33 L513.81 147.53 L514.57 147.72 L515.34 147.92 L516.11 148.1 L516.87 148.29 L517.64 148.47 L518.4 148.64 L519.17 148.82 L519.94 148.99 L520.7 149.16 L521.47 149.32 L522.23 149.49 L523 149.65 L523.77 149.81 L524.53 149.96 L525.3 150.12 L526.07 150.27 L526.83 150.42 L527.6 150.57 L528.36 150.71 L529.13 150.85 L529.9 150.99 L530.66 151.12 L531.43 151.25 L532.19 151.38 L532.96 151.51 L533.73 151.63 L534.49 151.75 L535.26 151.87 L536.03 151.99 L536.79 152.1 L537.56 152.21 L538.32 152.33 L539.09 152.44 L539.86 152.54 L540.62 152.65 L541.39 152.76 L542.15 152.86 L542.92 152.97 L543.69 153.07 L544.45 153.17 L545.22 153.27 L545.99 153.37 L546.75 153.48 L547.52 153.58 L548.28 153.68 L549.05 153.78 L549.82 153.88 L550.58 153.98 L551.35 154.08 L552.12 154.18 L552.88 154.29 L553.65 154.39 L554.41 154.5 L555.18 154.6 L555.95 154.71 L556.71 154.82 L557.48 154.93 L558.24 155.04 L559.01 155.15 L559.78 155.27 L560.54 155.38 L561.31 155.5 L562.08 155.62 L562.84 155.73 L563.61 155.85 L564.37 155.97 L565.14 156.09 L565.91 156.2 L566.67 156.32 L567.44 156.44 L568.2 156.56 L568.97 156.68 L569.74 156.8 L570.5 156.91 L571.27 157.03 L572.04 157.15 L572.8 157.27 L573.57 157.39 L574.33 157.51 L575.1 157.63 L575.87 157.75 L576.63 157.87 L577.4 157.99 L578.16 158.11 L578.93 158.23 L579.7 158.35 L580.46 158.47 L581.23 158.59 L582 158.71 L582.76 158.83 L583.53 158.95 L584.29 159.07 L585.06 159.19 L585.83 159.31 L586.59 159.43 L587.36 159.55 L588.12 159.67 L588.89 159.79 L589.66 159.9 L590.42 160.02 L591.19 160.14 L591.96 160.26 L592.72 160.38 L593.49 160.5 L594.25 160.62 L595.02 160.74 L595.79 160.85 L596.55 160.97 L597.32 161.09 L598.08 161.21 L598.85 161.32 L599.62 161.44 L600.38 161.56 L601.15 161.68 L601.92 161.79 L602.68 161.91 L603.45 162.03 L604.21 162.15 L604.98 162.27 L605.75 162.39 L606.51 162.52 L607.28 162.64 L608.05 162.76 L608.81 162.88 L609.58 163 L610.34 163.13 L611.11 163.25 L611.88 163.37 L612.64 163.49 L613.41 163.62 L614.17 163.74 L614.94 163.86 L615.71 163.98 L616.47 164.11 L617.24 164.23 L618.01 164.35 L618.77 164.47 L619.54 164.59 L620.3 164.71 L621.07 164.83 L621.84 164.95 L622.6 165.07 L623.37 165.19 L624.13 165.3 L624.9 165.42 L625.67 165.54 L626.43 165.65 L627.2 165.77 L627.97 165.88 L628.73 165.99 L629.5 166.1 L630.26 166.21 L631.03 166.32 L631.8 166.43 L632.56 166.54 L633.33 166.64 L634.09 166.75 L634.86 166.85 L635.63 166.95 L636.39 167.05 L637.16 167.15 L637.93 167.25 L638.69 167.34 L639.46 167.43 L640.22 167.53 L640.99 167.62 L641.76 167.71 L642.52 167.8 L643.29 167.89 L644.05 167.98 L644.82 168.07 L645.59 168.16 L646.35 168.24 L647.12 168.33 L647.89 168.42 L648.65 168.5 L649.42 168.59 L650.18 168.67 L650.95 168.76 L651.72 168.84 L652.48 168.92 L653.25 169.01 L654.02 169.09 L654.78 169.17 L655.55 169.25 L656.31 169.33 L657.08 169.41 L657.85 169.49 L658.61 169.56 L659.38 169.64 L660.14 169.72 L660.91 169.79 L661.68 169.87 L662.44 169.94 L663.21 170.01 L663.98 170.09 L664.74 170.16 L665.51 170.23 L666.27 170.3 L667.04 170.37 L667.81 170.44 L668.57 170.51 L669.34 170.57 L670.1 170.64 L670.87 170.71 L671.64 170.77 L672.4 170.83 L673.17 170.9 L673.94 170.96 L674.7 171.02 L675.47 171.08 L676.23 171.14 L677 171.2 L677 193.19 L676.41 193.19 L675.83 193.2 L675.24 193.2 L674.66 193.2 L674.07 193.21 L673.49 193.21 L672.9 193.21 L672.32 193.22 L671.73 193.22 L671.14 193.22 L670.56 193.23 L669.97 193.23 L669.39 193.23 L668.8 193.23 L668.22 193.23 L667.63 193.23 L667.05 193.23 L666.46 193.23 L665.87 193.23 L665.29 193.23 L664.7 193.23 L664.12 193.23 L663.53 193.23 L662.95 193.23 L662.36 193.23 L661.78 193.23 L661.19 193.22 L660.6 193.22 L660.02 193.22 L659.43 193.22 L658.85 193.21 L658.26 193.21 L657.68 193.21 L657.09 193.2 L656.51 193.2 L655.92 193.2 L655.33 193.19 L654.75 193.19 L654.16 193.18 L653.58 193.18 L652.99 193.17 L652.41 193.17 L651.82 193.16 L651.23 193.15 L650.65 193.15 L650.06 193.14 L649.48 193.14 L648.89 193.13 L648.31 193.12 L647.72 193.11 L647.14 193.11 L646.55 193.1 L645.96 193.09 L645.38 193.08 L644.79 193.08 L644.21 193.07 L643.62 193.06 L643.04 193.05 L642.45 193.04 L641.87 193.03 L641.28 193.02 L640.69 193.01 L640.11 193 L639.52 192.99 L638.94 192.98 L638.35 192.97 L637.77 192.96 L637.18 192.95 L636.6 192.94 L636.01 192.93 L635.42 192.92 L634.84 192.91 L634.25 192.9 L633.67 192.89 L633.08 192.88 L632.5 192.86 L631.91 192.85 L631.33 192.84 L630.74 192.83 L630.15 192.81 L629.57 192.8 L628.98 192.79 L628.4 192.78 L627.81 192.76 L627.23 192.75 L626.64 192.74 L626.06 192.72 L625.47 192.71 L624.88 192.7 L624.3 192.68 L623.71 192.67 L623.13 192.65 L622.54 192.64 L621.96 192.63 L621.37 192.61 L620.79 192.6 L620.2 192.58 L619.61 192.57 L619.03 192.55 L618.44 192.54 L617.86 192.52 L617.27 192.51 L616.69 192.49 L616.1 192.48 L615.52 192.46 L614.93 192.44 L614.34 192.43 L613.76 192.41 L613.17 192.4 L612.59 192.38 L612 192.36 L611.42 192.35 L610.83 192.33 L610.24 192.31 L609.66 192.3 L609.07 192.28 L608.49 192.26 L607.9 192.25 L607.32 192.23 L606.73 192.21 L606.15 192.2 L605.56 192.18 L604.97 192.16 L604.39 192.14 L603.8 192.13 L603.22 192.11 L602.63 192.09 L602.05 192.07 L601.46 192.06 L600.88 192.04 L600.29 192.02 L599.7 192 L599.12 191.98 L598.53 191.97 L597.95 191.95 L597.36 191.93 L596.78 191.91 L596.19 191.89 L595.61 191.87 L595.02 191.86 L594.43 191.84 L593.85 191.82 L593.26 191.8 L592.68 191.78 L592.09 191.76 L591.51 191.74 L590.92 191.73 L590.34 191.71 L589.75 191.69 L589.16 191.67 L588.58 191.65 L587.99 191.63 L587.41 191.61 L586.82 191.59 L586.24 191.58 L585.65 191.56 L585.07 191.54 L584.48 191.52 L583.89 191.5 L583.31 191.48 L582.72 191.46 L582.14 191.44 L581.55 191.42 L580.97 191.4 L580.38 191.39 L579.8 191.37 L579.21 191.35 L578.62 191.33 L578.04 191.31 L577.45 191.29 L576.87 191.27 L576.28 191.25 L575.7 191.23 L575.11 191.21 L574.53 191.2 L573.94 191.18 L573.35 191.16 L572.77 191.14 L572.18 191.12 L571.6 191.1 L571.01 191.08 L570.43 191.06 L569.84 191.04 L569.25 191.03 L568.67 191.01 L568.08 190.99 L567.5 190.97 L566.91 190.95 L566.33 190.93 L565.74 190.91 L565.16 190.9 L564.57 190.88 L563.98 190.86 L563.4 190.84 L562.81 190.82 L562.23 190.8 L561.64 190.79 L561.06 190.77 L560.47 190.75 L559.89 190.73 L559.3 190.71 L558.71 190.69 L558.13 190.68 L557.54 190.66 L556.96 190.64 L556.37 190.62 L555.79 190.61 L555.2 190.59 L554.62 190.57 L554.03 190.55 L553.44 190.53 L552.86 190.52 L552.27 190.5 L551.69 190.48 L551.1 190.46 L550.52 190.44 L549.93 190.42 L549.35 190.4 L548.76 190.38 L548.17 190.37 L547.59 190.35 L547 190.33 L546.42 190.31 L545.83 190.29 L545.25 190.27 L544.66 190.25 L544.08 190.23 L543.49 190.21 L542.9 190.18 L542.32 190.16 L541.73 190.14 L541.15 190.12 L540.56 190.1 L539.98 190.07 L539.39 190.05 L538.81 190.03 L538.22 190 L537.63 189.98 L537.05 189.96 L536.46 189.93 L535.88 189.91 L535.29 189.88 L534.71 189.85 L534.12 189.83 L533.54 189.8 L532.95 189.77 L532.36 189.75 L531.78 189.72 L531.19 189.69 L530.61 189.66 L530.02 189.63 L529.44 189.6 L528.85 189.57 L528.26 189.54 L527.68 189.5 L527.09 189.47 L526.51 189.44 L525.92 189.41 L525.34 189.37 L524.75 189.34 L524.17 189.3 L523.58 189.26 L522.99 189.23 L522.41 189.19 L521.82 189.15 L521.24 189.11 L520.65 189.07 L520.07 189.03 L519.48 188.99 L518.9 188.95 L518.31 188.91 L517.72 188.86 L517.14 188.82 L516.55 188.77 L515.97 188.73 L515.38 188.68 L514.8 188.64 L514.21 188.59 L513.63 188.54 L513.04 188.49 L512.45 188.44 L511.87 188.39 L511.28 188.33 L510.7 188.28 L510.11 188.23 L509.53 188.17 L508.94 188.11 L508.36 188.06 L507.77 188 L507.18 187.94 L506.6 187.88 L506.01 187.82 L505.43 187.76 L504.84 187.7 L504.26 187.63 L503.67 187.57 L503.09 187.5 L502.5 187.43 L501.91 187.37 L501.33 187.3 L500.74 187.23 L500.16 187.15 L499.57 187.08 L498.99 187.01 L498.4 186.93 L497.82 186.86 L497.23 186.78 L496.64 186.7 L496.06 186.62 L495.47 186.54 L494.89 186.46 L494.3 186.38 L493.72 186.29 L493.13 186.21 L492.55 186.12 L491.96 186.03 L491.37 185.94 L490.79 185.85 L490.2 185.76 L489.62 185.67 L489.03 185.58 L488.45 185.48 L487.86 185.38 L487.27 185.28 L486.69 185.18 L486.1 185.08 L485.52 184.98 L484.93 184.88 L484.35 184.77 L483.76 184.66 L483.18 184.56 L482.59 184.45 L482 184.33 L481.42 184.22 L480.83 184.11 L480.25 183.99 L479.66 183.87 L479.08 183.75 L478.49 183.63 L477.91 183.51 L477.32 183.39 L476.73 183.26 L476.15 183.13 L475.56 183 L474.98 182.87 L474.39 182.74 L473.81 182.61 L473.22 182.47 L472.64 182.33 L472.05 182.19 L471.46 182.05 L470.88 181.91 L470.29 181.76 L469.71 181.61 L469.12 181.46 L468.54 181.31 L467.95 181.16 L467.37 181 L466.78 180.85 L466.19 180.69 L465.61 180.52 L465.02 180.36 L464.44 180.2 L463.85 180.03 L463.27 179.86 L462.68 179.69 L462.1 179.51 L461.51 179.34 L460.92 179.16 L460.34 178.98 L459.75 178.79 L459.17 178.61 L458.58 178.42 L458 178.23 L457.41 178.04 L456.83 177.85 L456.24 177.65 L455.65 177.45 L455.07 177.25 L454.48 177.05 L453.9 176.84 L453.31 176.63 L452.73 176.42 L452.14 176.21 L451.56 175.99 L450.97 175.77 L450.38 175.55 L449.8 175.33 L449.21 175.1 L448.63 174.87 L448.04 174.64 L447.46 174.41 L446.87 174.17 L446.28 173.93 L445.7 173.69 L445.11 173.44 L444.53 173.2 L443.94 172.95 L443.36 172.69 L442.77 172.44 L442.19 172.18 L441.6 171.92 L441.01 171.65 L440.43 171.39 L439.84 171.12 L439.26 170.84 L438.67 170.57 L438.09 170.29 L437.5 170.01 L436.92 169.72 L436.33 169.44 L435.74 169.15 L435.16 168.85 L434.57 168.56 L433.99 168.26 L433.4 167.95 L432.82 167.65 L432.23 167.34 L431.65 167.03 L431.06 166.72 L430.47 166.41 L429.89 166.09 L429.3 165.78 L428.72 165.46 L428.13 165.15 L427.55 164.84 L426.96 164.52 L426.38 164.21 L425.79 163.9 L425.2 163.6 L424.62 163.29 L424.03 162.99 L423.45 162.69 L422.86 162.39 L422.28 162.1 L421.69 161.82 L421.11 161.54 L420.52 161.26 L419.93 160.99 L419.35 160.72 L418.76 160.46 L418.18 160.21 L417.59 159.97 L417.01 159.73 L416.42 159.5 L415.84 159.28 L415.25 159.06 L414.66 158.86 L414.08 158.67 L413.49 158.48 L412.91 158.31 L412.32 158.14 L411.74 157.99 L411.15 157.85 L410.57 157.72 L409.98 157.6 L409.39 157.49 L408.81 157.4 L408.22 157.32 L407.64 157.25 L407.05 157.2 L406.47 157.16 L405.88 157.14 L405.29 157.13 L404.71 157.14 L404.12 157.16 L403.54 157.2 L402.95 157.26 L402.37 157.33 L401.78 157.42 L401.2 157.53 L400.61 157.67 L400.02 157.84 L399.44 158.04 L398.85 158.28 L398.27 158.57 L397.68 158.9 L397.1 159.29 L396.51 159.74 L395.93 160.25 L395.34 160.82 L394.75 161.47 L394.17 162.2 L393.58 163.01 L393 163.89 L392.41 164.85 L391.83 165.85 L391.24 166.91 L390.66 167.99 L390.07 169.1 L389.48 170.22 L388.9 171.34 L388.31 172.45 L387.73 173.53 L387.14 174.59 L386.56 175.59 L385.97 176.55 L385.39 177.43 L384.8 177.79 L384.33 177.61 L383.87 177.43 L383.4 177.25 L382.94 177.07 L382.47 176.89 L382.01 176.72 L381.54 176.55 L381.08 176.38 L380.61 176.21 L380.14 176.05 L379.68 175.88 L379.21 175.72 L378.75 175.57 L378.28 175.41 L377.82 175.25 L377.35 175.1 L376.89 174.94 L376.42 174.79 L375.96 174.64 L375.49 174.48 L375.02 174.32 L374.56 174.17 L374.09 174.01 L373.63 173.84 L373.16 173.68 L372.7 173.52 L372.23 173.35 L371.77 173.19 L371.3 173.02 Z" fill="#5050f0" fill-opacity="0.15" stroke="none"/>
<path d="M371.3 142.3 L371.77 142.81 L372.23 143.31 L372.7 143.82 L373.16 144.32 L373.63 144.82 L374.09 145.32 L374.56 145.81 L375.02 146.3 L375.49 146.79 L375.96 147.27 L376.42 147.75 L376.89 148.23 L377.35 148.7 L377.82 149.17 L378.28 149.63 L378.75 150.09 L379.21 150.55 L379.68 151.01 L380.14 151.47 L380.61 151.92 L381.08 152.38 L381.54 152.84 L382.01 153.3 L382.47 153.77 L382.94 154.23 L383.4 154.7 L383.87 155.16 L384.33 155.63 L384.8 156.1 L385.39 155.99 L385.97 154.58 L386.56 152.41 L387.14 149.61 L387.73 146.32 L388.31 142.65 L388.9 138.76 L389.48 134.75 L390.07 130.75 L390.66 126.81 L391.24 122.97 L391.83 119.28 L392.41 115.79 L393 112.54 L393.58 109.59 L394.17 106.97 L394.75 104.7 L395.34 102.77 L395.93 101.14 L396.51 99.8 L397.1 98.73 L397.68 97.9 L398.27 97.29 L398.85 96.88 L399.44 96.64 L400.02 96.57 L400.61 96.62 L401.2 96.79 L401.78 97.05 L402.37 97.38 L402.95 97.75 L403.54 98.18 L404.12 98.66 L404.71 99.18 L405.29 99.74 L405.88 100.35 L406.47 100.99 L407.05 101.68 L407.64 102.4 L408.22 103.15 L408.81 103.93 L409.39 104.74 L409.98 105.58 L410.57 106.45 L411.15 107.33 L411.74 108.24 L412.32 109.17 L412.91 110.12 L413.49 111.08 L414.08 112.05 L414.66 113.04 L415.25 114.03 L415.84 115.03 L416.42 116.04 L417.01 117.04 L417.59 118.06 L418.18 119.07 L418.76 120.08 L419.35 121.09 L419.93 122.11 L420.52 123.12 L421.11 124.13 L421.69 125.14 L422.28 126.14 L422.86 127.14 L423.45 128.14 L424.03 129.13 L424.62 130.11 L425.2 131.09 L425.79 132.06 L426.38 133.03 L426.96 133.98 L427.55 134.93 L428.13 135.86 L428.72 136.79 L429.3 137.71 L429.89 138.61 L430.47 139.5 L431.06 140.38 L431.65 141.25 L432.23 142.1 L432.82 142.93 L433.4 143.76 L433.99 144.56 L434.57 145.35 L435.16 146.12 L435.74 146.88 L436.33 147.62 L436.92 148.34 L437.5 149.05 L438.09 149.74 L438.67 150.42 L439.26 151.08 L439.84 151.73 L440.43 152.37 L441.01 152.99 L441.6 153.6 L442.19 154.19 L442.77 154.77 L443.36 155.34 L443.94 155.9 L444.53 156.44 L445.11 156.97 L445.7 157.49 L446.28 157.99 L446.87 158.49 L447.46 158.97 L448.04 159.44 L448.63 159.9 L449.21 160.35 L449.8 160.79 L450.38 161.22 L450.97 161.64 L451.56 162.05 L452.14 162.45 L452.73 162.84 L453.31 163.22 L453.9 163.6 L454.48 163.96 L455.07 164.32 L455.65 164.66 L456.24 165 L456.83 165.33 L457.41 165.66 L458 165.98 L458.58 166.29 L459.17 166.59 L459.75 166.89 L460.34 167.18 L460.92 167.46 L461.51 167.74 L462.1 168.01 L462.68 168.28 L463.27 168.54 L463.85 168.8 L464.44 169.06 L465.02 169.3 L465.61 169.55 L466.19 169.79 L466.78 170.03 L467.37 170.26 L467.95 170.49 L468.54 170.72 L469.12 170.94 L469.71 171.16 L470.29 171.38 L470.88 171.6 L471.46 171.81 L472.05 172.03 L472.64 172.24 L473.22 172.45 L473.81 172.66 L474.39 172.87 L474.98 173.07 L475.56 173.27 L476.15 173.47 L476.73 173.67 L477.32 173.87 L477.91 174.07 L478.49 174.26 L479.08 174.46 L479.66 174.65 L480.25 174.84 L480.83 175.03 L481.42 175.21 L482 175.4 L482.59 175.58 L483.18 175.76 L483.76 175.94 L484.35 176.12 L484.93 176.3 L485.52 176.47 L486.1 176.64 L486.69 176.82 L487.27 176.99 L487.86 177.15 L488.45 177.32 L489.03 177.49 L489.62 177.65 L490.2 177.81 L490.79 177.97 L491.37 178.13 L491.96 178.29 L492.55 178.45 L493.13 178.6 L493.72 178.76 L494.3 178.91 L494.89 179.06 L495.47 179.21 L496.06 179.35 L496.64 179.5 L497.23 179.64 L497.82 179.79 L498.4 179.93 L498.99 180.07 L499.57 180.21 L500.16 180.34 L500.74 180.48 L501.33 180.62 L501.91 180.75 L502.5 180.88 L503.09 181.01 L503.67 181.14 L504.26 181.27 L504.84 181.39 L505.43 181.52 L506.01 181.64 L506.6 181.76 L507.18 181.88 L507.77 182 L508.36 182.12 L508.94 182.24 L509.53 182.35 L510.11 182.47 L510.7 182.58 L511.28 182.69 L511.87 182.8 L512.45 182.91 L513.04 183.02 L513.63 183.13 L514.21 183.23 L514.8 183.34 L515.38 183.44 L515.97 183.54 L516.55 183.64 L517.14 183.74 L517.72 183.84 L518.31 183.94 L518.9 184.03 L519.48 184.13 L520.07 184.22 L520.65 184.31 L521.24 184.4 L521.82 184.49 L522.41 184.58 L522.99 184.67 L523.58 184.76 L524.17 184.84 L524.75 184.93 L525.34 185.01 L525.92 185.09 L526.51 185.17 L527.09 185.25 L527.68 185.33 L528.26 185.41 L528.85 185.49 L529.44 185.56 L530.02 185.64 L530.61 185.71 L531.19 185.78 L531.78 185.86 L532.36 185.93 L532.95 186 L533.54 186.06 L534.12 186.13 L534.71 186.2 L535.29 186.26 L535.88 186.33 L536.46 186.39 L537.05 186.46 L537.63 186.52 L538.22 186.58 L538.81 186.64 L539.39 186.7 L539.98 186.76 L540.56 186.81 L541.15 186.87 L541.73 186.92 L542.32 186.98 L542.9 187.03 L543.49 187.08 L544.08 187.14 L544.66 187.19 L545.25 187.24 L545.83 187.29 L546.42 187.34 L547 187.38 L547.59 187.43 L548.17 187.48 L548.76 187.52 L549.35 187.57 L549.93 187.61 L550.52 187.65 L551.1 187.69 L551.69 187.74 L552.27 187.78 L552.86 187.82 L553.44 187.85 L554.03 187.89 L554.62 187.93 L555.2 187.97 L555.79 188 L556.37 188.04 L556.96 188.07 L557.54 188.11 L558.13 188.14 L558.71 188.17 L559.3 188.2 L559.89 188.24 L560.47 188.27 L561.06 188.3 L561.64 188.33 L562.23 188.35 L562.81 188.38 L563.4 188.41 L563.98 188.44 L564.57 188.46 L565.16 188.49 L565.74 188.51 L566.33 188.54 L566.91 188.56 L567.5 188.58 L568.08 188.61 L568.67 188.63 L569.25 188.65 L569.84 188.67 L570.43 188.69 L571.01 188.71 L571.6 188.73 L572.18 188.75 L572.77 188.77 L573.35 188.79 L573.94 188.8 L574.53 188.82 L575.11 188.84 L575.7 188.85 L576.28 188.87 L576.87 188.88 L577.45 188.9 L578.04 188.91 L578.62 188.92 L579.21 188.94 L579.8 188.95 L580.38 188.96 L580.97 188.98 L581.55 188.99 L582.14 189 L582.72 189.01 L583.31 189.02 L583.89 189.03 L584.48 189.04 L585.07 189.05 L585.65 189.06 L586.24 189.07 L586.82 189.07 L587.41 189.08 L587.99 189.09 L588.58 189.1 L589.16 189.11 L589.75 189.11 L590.34 189.12 L590.92 189.12 L591.51 189.13 L592.09 189.14 L592.68 189.14 L593.26 189.15 L593.85 189.15 L594.43 189.16 L595.02 189.16 L595.61 189.17 L596.19 189.17 L596.78 189.17 L597.36 189.18 L597.95 189.18 L598.53 189.18 L599.12 189.19 L599.7 189.19 L600.29 189.19 L600.88 189.2 L601.46 189.2 L602.05 189.2 L602.63 189.2 L603.22 189.2 L603.8 189.21 L604.39 189.21 L604.97 189.21 L605.56 189.21 L606.15 189.21 L606.73 189.21 L607.32 189.22 L607.9 189.22 L608.49 189.22 L609.07 189.22 L609.66 189.22 L610.24 189.22 L610.83 189.22 L611.42 189.22 L612 189.22 L612.59 189.23 L613.17 189.23 L613.76 189.23 L614.34 189.23 L614.93 189.23 L615.52 189.23 L616.1 189.23 L616.69 189.23 L617.27 189.23 L617.86 189.24 L618.44 189.24 L619.03 189.24 L619.61 189.24 L620.2 189.24 L620.79 189.24 L621.37 189.25 L621.96 189.25 L622.54 189.25 L623.13 189.25 L623.71 189.25 L624.3 189.26 L624.88 189.26 L625.47 189.26 L626.06 189.26 L626.64 189.27 L627.23 189.27 L627.81 189.27 L628.4 189.28 L628.98 189.28 L629.57 189.29 L630.15 189.29 L630.74 189.29 L631.33 189.3 L631.91 189.3 L632.5 189.31 L633.08 189.31 L633.67 189.32 L634.25 189.33 L634.84 189.33 L635.42 189.34 L636.01 189.35 L636.6 189.35 L637.18 189.36 L637.77 189.37 L638.35 189.37 L638.94 189.38 L639.52 189.39 L640.11 189.4 L640.69 189.41 L641.28 189.42 L641.87 189.43 L642.45 189.44 L643.04 189.45 L643.62 189.46 L644.21 189.47 L644.79 189.49 L645.38 189.5 L645.96 189.51 L646.55 189.52 L647.14 189.54 L647.72 189.55 L648.31 189.57 L648.89 189.58 L649.48 189.6 L650.06 189.61 L650.65 189.63 L651.23 189.64 L651.82 189.66 L652.41 189.68 L652.99 189.7 L653.58 189.72 L654.16 189.74 L654.75 189.75 L655.33 189.78 L655.92 189.8 L656.51 189.82 L657.09 189.84 L657.68 189.86 L658.26 189.88 L658.85 189.91 L659.43 189.93 L660.02 189.96 L660.6 189.98 L661.19 190.01 L661.78 190.03 L662.36 190.06 L662.95 190.09 L663.53 190.12 L664.12 190.15 L664.7 190.18 L665.29 190.21 L665.87 190.24 L666.46 190.27 L667.05 190.3 L667.63 190.34 L668.22 190.37 L668.8 190.4 L669.39 190.44 L669.97 190.47 L670.56 190.51 L671.14 190.55 L671.73 190.59 L672.32 190.63 L672.9 190.66 L673.49 190.7 L674.07 190.75 L674.66 190.79 L675.24 190.83 L675.83 190.87 L676.41 190.92 L677 190.96 L677 196.74 L676.41 196.73 L675.83 196.72 L675.24 196.7 L674.66 196.69 L674.07 196.68 L673.49 196.66 L672.9 196.65 L672.32 196.64 L671.73 196.63 L671.14 196.62 L670.56 196.6 L669.97 196.59 L669.39 196.58 L668.8 196.57 L668.22 196.56 L667.63 196.55 L667.05 196.54 L666.46 196.53 L665.87 196.52 L665.29 196.51 L664.7 196.5 L664.12 196.49 L663.53 196.48 L662.95 196.48 L662.36 196.47 L661.78 196.46 L661.19 196.45 L660.6 196.44 L660.02 196.43 L659.43 196.43 L658.85 196.42 L658.26 196.41 L657.68 196.41 L657.09 196.4 L656.51 196.39 L655.92 196.39 L655.33 196.38 L654.75 196.37 L654.16 196.37 L653.58 196.36 L652.99 196.36 L652.41 196.35 L651.82 196.34 L651.23 196.34 L650.65 196.33 L650.06 196.33 L649.48 196.32 L648.89 196.32 L648.31 196.31 L647.72 196.31 L647.14 196.31 L646.55 196.3 L645.96 196.3 L645.38 196.29 L644.79 196.29 L644.21 196.29 L643.62 196.28 L643.04 196.28 L642.45 196.28 L641.87 196.27 L641.28 196.27 L640.69 196.27 L640.11 196.26 L639.52 196.26 L638.94 196.26 L638.35 196.26 L637.77 196.25 L637.18 196.25 L636.6 196.25 L636.01 196.25 L635.42 196.25 L634.84 196.24 L634.25 196.24 L633.67 196.24 L633.08 196.24 L632.5 196.24 L631.91 196.23 L631.33 196.23 L630.74 196.23 L630.15 196.23 L629.57 196.23 L628.98 196.23 L628.4 196.23 L627.81 196.23 L627.23 196.22 L626.64 196.22 L626.06 196.22 L625.47 196.22 L624.88 196.22 L624.3 196.22 L623.71 196.22 L623.13 196.22 L622.54 196.22 L621.96 196.22 L621.37 196.22 L620.79 196.22 L620.2 196.22 L619.61 196.22 L619.03 196.21 L618.44 196.21 L617.86 196.21 L617.27 196.21 L616.69 196.21 L616.1 196.21 L615.52 196.21 L614.93 196.21 L614.34 196.21 L613.76 196.21 L613.17 196.21 L612.59 196.21 L612 196.21 L611.42 196.21 L610.83 196.21 L610.24 196.21 L609.66 196.21 L609.07 196.21 L608.49 196.21 L607.9 196.21 L607.32 196.21 L606.73 196.21 L606.15 196.21 L605.56 196.21 L604.97 196.21 L604.39 196.21 L603.8 196.2 L603.22 196.2 L602.63 196.2 L602.05 196.2 L601.46 196.2 L600.88 196.2 L600.29 196.2 L599.7 196.2 L599.12 196.2 L598.53 196.2 L597.95 196.2 L597.36 196.2 L596.78 196.19 L596.19 196.19 L595.61 196.19 L595.02 196.19 L594.43 196.19 L593.85 196.19 L593.26 196.19 L592.68 196.18 L592.09 196.18 L591.51 196.18 L590.92 196.18 L590.34 196.18 L589.75 196.18 L589.16 196.17 L588.58 196.17 L587.99 196.17 L587.41 196.17 L586.82 196.16 L586.24 196.16 L585.65 196.16 L585.07 196.16 L584.48 196.15 L583.89 196.15 L583.31 196.15 L582.72 196.14 L582.14 196.14 L581.55 196.14 L580.97 196.13 L580.38 196.13 L579.8 196.13 L579.21 196.12 L578.62 196.12 L578.04 196.11 L577.45 196.11 L576.87 196.11 L576.28 196.1 L575.7 196.1 L575.11 196.09 L574.53 196.09 L573.94 196.08 L573.35 196.08 L572.77 196.07 L572.18 196.06 L571.6 196.06 L571.01 196.05 L570.43 196.05 L569.84 196.04 L569.25 196.03 L568.67 196.03 L568.08 196.02 L567.5 196.01 L566.91 196.01 L566.33 196 L565.74 195.99 L565.16 195.98 L564.57 195.98 L563.98 195.97 L563.4 195.96 L562.81 195.95 L562.23 195.94 L561.64 195.93 L561.06 195.93 L560.47 195.92 L559.89 195.91 L559.3 195.9 L558.71 195.89 L558.13 195.88 L557.54 195.87 L556.96 195.86 L556.37 195.85 L555.79 195.84 L555.2 195.82 L554.62 195.81 L554.03 195.8 L553.44 195.79 L552.86 195.78 L552.27 195.77 L551.69 195.75 L551.1 195.74 L550.52 195.73 L549.93 195.71 L549.35 195.7 L548.76 195.69 L548.17 195.67 L547.59 195.66 L547 195.65 L546.42 195.63 L545.83 195.62 L545.25 195.6 L544.66 195.59 L544.08 195.57 L543.49 195.55 L542.9 195.54 L542.32 195.52 L541.73 195.5 L541.15 195.49 L540.56 195.47 L539.98 195.45 L539.39 195.44 L538.81 195.42 L538.22 195.4 L537.63 195.38 L537.05 195.36 L536.46 195.34 L535.88 195.32 L535.29 195.3 L534.71 195.28 L534.12 195.26 L533.54 195.24 L532.95 195.22 L532.36 195.2 L531.78 195.18 L531.19 195.16 L530.61 195.13 L530.02 195.11 L529.44 195.09 L528.85 195.06 L528.26 195.04 L527.68 195.02 L527.09 194.99 L526.51 194.97 L525.92 194.94 L525.34 194.92 L524.75 194.89 L524.17 194.87 L523.58 194.84 L522.99 194.81 L522.41 194.79 L521.82 194.76 L521.24 194.73 L520.65 194.7 L520.07 194.68 L519.48 194.65 L518.9 194.62 L518.31 194.59 L517.72 194.56 L517.14 194.53 L516.55 194.5 L515.97 194.47 L515.38 194.44 L514.8 194.4 L514.21 194.37 L513.63 194.34 L513.04 194.31 L512.45 194.27 L511.87 194.24 L511.28 194.21 L510.7 194.17 L510.11 194.14 L509.53 194.1 L508.94 194.07 L508.36 194.03 L507.77 194 L507.18 193.96 L506.6 193.92 L506.01 193.88 L505.43 193.85 L504.84 193.81 L504.26 193.77 L503.67 193.73 L503.09 193.69 L502.5 193.65 L501.91 193.61 L501.33 193.57 L500.74 193.53 L500.16 193.49 L499.57 193.44 L498.99 193.4 L498.4 193.36 L497.82 193.32 L497.23 193.27 L496.64 193.23 L496.06 193.18 L495.47 193.14 L494.89 193.09 L494.3 193.05 L493.72 193 L493.13 192.95 L492.55 192.91 L491.96 192.86 L491.37 192.81 L490.79 192.76 L490.2 192.71 L489.62 192.66 L489.03 192.61 L488.45 192.56 L487.86 192.51 L487.27 192.46 L486.69 192.4 L486.1 192.35 L485.52 192.3 L484.93 192.25 L484.35 192.19 L483.76 192.14 L483.18 192.08 L482.59 192.03 L482 191.97 L481.42 191.91 L480.83 191.86 L480.25 191.8 L479.66 191.74 L479.08 191.68 L478.49 191.62 L477.91 191.56 L477.32 191.5 L476.73 191.44 L476.15 191.38 L475.56 191.32 L474.98 191.26 L474.39 191.19 L473.81 191.13 L473.22 191.07 L472.64 191 L472.05 190.94 L471.46 190.87 L470.88 190.81 L470.29 190.74 L469.71 190.67 L469.12 190.6 L468.54 190.53 L467.95 190.46 L467.37 190.39 L466.78 190.32 L466.19 190.25 L465.61 190.18 L465.02 190.1 L464.44 190.03 L463.85 189.95 L463.27 189.87 L462.68 189.79 L462.1 189.71 L461.51 189.62 L460.92 189.54 L460.34 189.45 L459.75 189.36 L459.17 189.27 L458.58 189.18 L458 189.08 L457.41 188.98 L456.83 188.88 L456.24 188.78 L455.65 188.68 L455.07 188.57 L454.48 188.46 L453.9 188.35 L453.31 188.24 L452.73 188.12 L452.14 188 L451.56 187.88 L450.97 187.75 L450.38 187.62 L449.8 187.49 L449.21 187.36 L448.63 187.22 L448.04 187.08 L447.46 186.93 L446.87 186.78 L446.28 186.63 L445.7 186.48 L445.11 186.32 L444.53 186.16 L443.94 185.99 L443.36 185.82 L442.77 185.65 L442.19 185.47 L441.6 185.28 L441.01 185.1 L440.43 184.91 L439.84 184.71 L439.26 184.51 L438.67 184.31 L438.09 184.1 L437.5 183.89 L436.92 183.67 L436.33 183.45 L435.74 183.22 L435.16 182.99 L434.57 182.75 L433.99 182.51 L433.4 182.27 L432.82 182.01 L432.23 181.76 L431.65 181.5 L431.06 181.23 L430.47 180.96 L429.89 180.69 L429.3 180.41 L428.72 180.13 L428.13 179.85 L427.55 179.56 L426.96 179.27 L426.38 178.98 L425.79 178.68 L425.2 178.38 L424.62 178.08 L424.03 177.78 L423.45 177.48 L422.86 177.17 L422.28 176.86 L421.69 176.56 L421.11 176.25 L420.52 175.94 L419.93 175.63 L419.35 175.32 L418.76 175.01 L418.18 174.7 L417.59 174.39 L417.01 174.08 L416.42 173.77 L415.84 173.46 L415.25 173.15 L414.66 172.85 L414.08 172.54 L413.49 172.25 L412.91 171.95 L412.32 171.66 L411.74 171.38 L411.15 171.1 L410.57 170.82 L409.98 170.56 L409.39 170.3 L408.81 170.05 L408.22 169.81 L407.64 169.58 L407.05 169.36 L406.47 169.15 L405.88 168.96 L405.29 168.77 L404.71 168.6 L404.12 168.44 L403.54 168.29 L402.95 168.16 L402.37 168.04 L401.78 167.94 L401.2 167.86 L400.61 167.81 L400.02 167.8 L399.44 167.82 L398.85 167.89 L398.27 168.02 L397.68 168.2 L397.1 168.46 L396.51 168.79 L395.93 169.2 L395.34 169.7 L394.75 170.29 L394.17 170.99 L393.58 171.79 L393 172.69 L392.41 173.69 L391.83 174.76 L391.24 175.89 L390.66 177.07 L390.07 178.28 L389.48 179.51 L388.9 180.73 L388.31 181.93 L387.73 183.05 L387.14 184.06 L386.56 184.92 L385.97 185.58 L385.39 186.02 L384.8 186.05 L384.33 185.91 L383.87 185.76 L383.4 185.62 L382.94 185.48 L382.47 185.34 L382.01 185.19 L381.54 185.05 L381.08 184.91 L380.61 184.77 L380.14 184.63 L379.68 184.49 L379.21 184.35 L378.75 184.21 L378.28 184.07 L377.82 183.93 L377.35 183.78 L376.89 183.64 L376.42 183.49 L375.96 183.34 L375.49 183.2 L375.02 183.05 L374.56 182.9 L374.09 182.75 L373.63 182.59 L373.16 182.44 L372.7 182.29 L372.23 182.13 L371.77 181.98 L371.3 181.82 Z" fill="#4a6a6a" fill-opacity="0.12" stroke="none"/>
<path d="M371.3 174.25 L371.77 174.39 L372.23 174.52 L372.7 174.65 L373.16 174.78 L373.63 174.91 L374.09 175.03 L374.56 175.16 L375.02 175.28 L375.49 175.4 L375.96 175.52 L376.42 175.64 L376.89 175.75 L377.35 175.87 L377.82 175.99 L378.28 176.1 L378.75 176.22 L379.21 176.34 L379.68 176.45 L380.14 176.57 L380.61 176.69 L381.08 176.81 L381.54 176.93 L382.01 177.05 L382.47 177.18 L382.94 177.3 L383.4 177.43 L383.87 177.56 L384.33 177.68 L384.8 177.81 L385.39 177.74 L385.97 176.37 L386.56 174 L387.14 170.81 L387.73 166.99 L388.31 162.71 L388.9 158.17 L389.48 153.54 L390.07 148.97 L390.66 144.52 L391.24 140.22 L391.83 136.13 L392.41 132.27 L393 128.68 L393.58 125.41 L394.17 122.5 L394.75 119.95 L395.34 117.74 L395.93 115.85 L396.51 114.26 L397.1 112.95 L397.68 111.88 L398.27 111.05 L398.85 110.42 L399.44 109.97 L400.02 109.68 L400.61 109.53 L401.2 109.5 L401.78 109.55 L402.37 109.68 L402.95 109.85 L403.54 110.08 L404.12 110.35 L404.71 110.67 L405.29 111.03 L405.88 111.43 L406.47 111.87 L407.05 112.35 L407.64 112.86 L408.22 113.41 L408.81 113.99 L409.39 114.59 L409.98 115.22 L410.57 115.88 L411.15 116.56 L411.74 117.25 L412.32 117.97 L412.91 118.71 L413.49 119.45 L414.08 120.21 L414.66 120.98 L415.25 121.76 L415.84 122.54 L416.42 123.33 L417.01 124.12 L417.59 124.91 L418.18 125.7 L418.76 126.49 L419.35 127.29 L419.93 128.08 L420.52 128.87 L421.11 129.66 L421.69 130.44 L422.28 131.23 L422.86 132.01 L423.45 132.79 L424.03 133.57 L424.62 134.34 L425.2 135.11 L425.79 135.87 L426.38 136.63 L426.96 137.38 L427.55 138.13 L428.13 138.87 L428.72 139.6 L429.3 140.33 L429.89 141.05 L430.47 141.76 L431.06 142.46 L431.65 143.15 L432.23 143.84 L432.82 144.51 L433.4 145.18 L433.99 145.83 L434.57 146.47 L435.16 147.11 L435.74 147.73 L436.33 148.34 L436.92 148.94 L437.5 149.53 L438.09 150.11 L438.67 150.69 L439.26 151.25 L439.84 151.8 L440.43 152.34 L441.01 152.87 L441.6 153.4 L442.19 153.91 L442.77 154.42 L443.36 154.91 L443.94 155.4 L444.53 155.88 L445.11 156.35 L445.7 156.81 L446.28 157.26 L446.87 157.71 L447.46 158.15 L448.04 158.58 L448.63 159 L449.21 159.41 L449.8 159.82 L450.38 160.22 L450.97 160.61 L451.56 160.99 L452.14 161.37 L452.73 161.74 L453.31 162.1 L453.9 162.46 L454.48 162.81 L455.07 163.15 L455.65 163.48 L456.24 163.81 L456.83 164.14 L457.41 164.46 L458 164.77 L458.58 165.08 L459.17 165.38 L459.75 165.67 L460.34 165.96 L460.92 166.25 L461.51 166.53 L462.1 166.8 L462.68 167.07 L463.27 167.33 L463.85 167.59 L464.44 167.85 L465.02 168.1 L465.61 168.35 L466.19 168.59 L466.78 168.83 L467.37 169.06 L467.95 169.29 L468.54 169.52 L469.12 169.74 L469.71 169.96 L470.29 170.18 L470.88 170.39 L471.46 170.6 L472.05 170.81 L472.64 171.01 L473.22 171.21 L473.81 171.41 L474.39 171.61 L474.98 171.8 L475.56 171.99 L476.15 172.18 L476.73 172.37 L477.32 172.55 L477.91 172.74 L478.49 172.92 L479.08 173.1 L479.66 173.28 L480.25 173.45 L480.83 173.63 L481.42 173.8 L482 173.98 L482.59 174.15 L483.18 174.32 L483.76 174.49 L484.35 174.65 L484.93 174.82 L485.52 174.98 L486.1 175.14 L486.69 175.3 L487.27 175.46 L487.86 175.62 L488.45 175.78 L489.03 175.93 L489.62 176.09 L490.2 176.24 L490.79 176.39 L491.37 176.54 L491.96 176.69 L492.55 176.83 L493.13 176.98 L493.72 177.12 L494.3 177.26 L494.89 177.4 L495.47 177.54 L496.06 177.68 L496.64 177.82 L497.23 177.95 L497.82 178.09 L498.4 178.22 L498.99 178.35 L499.57 178.48 L500.16 178.61 L500.74 178.74 L501.33 178.87 L501.91 178.99 L502.5 179.11 L503.09 179.24 L503.67 179.36 L504.26 179.48 L504.84 179.6 L505.43 179.71 L506.01 179.83 L506.6 179.94 L507.18 180.06 L507.77 180.17 L508.36 180.28 L508.94 180.39 L509.53 180.5 L510.11 180.61 L510.7 180.71 L511.28 180.82 L511.87 180.92 L512.45 181.03 L513.04 181.13 L513.63 181.23 L514.21 181.33 L514.8 181.42 L515.38 181.52 L515.97 181.62 L516.55 181.71 L517.14 181.81 L517.72 181.9 L518.31 181.99 L518.9 182.08 L519.48 182.17 L520.07 182.26 L520.65 182.34 L521.24 182.43 L521.82 182.51 L522.41 182.6 L522.99 182.68 L523.58 182.76 L524.17 182.84 L524.75 182.92 L525.34 183 L525.92 183.08 L526.51 183.16 L527.09 183.23 L527.68 183.31 L528.26 183.38 L528.85 183.45 L529.44 183.52 L530.02 183.59 L530.61 183.66 L531.19 183.73 L531.78 183.8 L532.36 183.87 L532.95 183.93 L533.54 184 L534.12 184.06 L534.71 184.12 L535.29 184.19 L535.88 184.25 L536.46 184.31 L537.05 184.37 L537.63 184.43 L538.22 184.48 L538.81 184.54 L539.39 184.6 L539.98 184.65 L540.56 184.71 L541.15 184.76 L541.73 184.81 L542.32 184.86 L542.9 184.91 L543.49 184.96 L544.08 185.01 L544.66 185.06 L545.25 185.11 L545.83 185.16 L546.42 185.2 L547 185.25 L547.59 185.29 L548.17 185.33 L548.76 185.38 L549.35 185.42 L549.93 185.46 L550.52 185.5 L551.1 185.54 L551.69 185.58 L552.27 185.62 L552.86 185.66 L553.44 185.69 L554.03 185.73 L554.62 185.77 L555.2 185.8 L555.79 185.83 L556.37 185.87 L556.96 185.9 L557.54 185.93 L558.13 185.96 L558.71 186 L559.3 186.03 L559.89 186.06 L560.47 186.08 L561.06 186.11 L561.64 186.14 L562.23 186.17 L562.81 186.19 L563.4 186.22 L563.98 186.25 L564.57 186.27 L565.16 186.29 L565.74 186.32 L566.33 186.34 L566.91 186.36 L567.5 186.39 L568.08 186.41 L568.67 186.43 L569.25 186.45 L569.84 186.47 L570.43 186.49 L571.01 186.51 L571.6 186.53 L572.18 186.54 L572.77 186.56 L573.35 186.58 L573.94 186.59 L574.53 186.61 L575.11 186.63 L575.7 186.64 L576.28 186.65 L576.87 186.67 L577.45 186.68 L578.04 186.7 L578.62 186.71 L579.21 186.72 L579.8 186.73 L580.38 186.74 L580.97 186.76 L581.55 186.77 L582.14 186.78 L582.72 186.79 L583.31 186.8 L583.89 186.81 L584.48 186.81 L585.07 186.82 L585.65 186.83 L586.24 186.84 L586.82 186.85 L587.41 186.85 L587.99 186.86 L588.58 186.87 L589.16 186.87 L589.75 186.88 L590.34 186.89 L590.92 186.89 L591.51 186.9 L592.09 186.9 L592.68 186.91 L593.26 186.91 L593.85 186.91 L594.43 186.92 L595.02 186.92 L595.61 186.93 L596.19 186.93 L596.78 186.93 L597.36 186.93 L597.95 186.94 L598.53 186.94 L599.12 186.94 L599.7 186.94 L600.29 186.95 L600.88 186.95 L601.46 186.95 L602.05 186.95 L602.63 186.95 L603.22 186.95 L603.8 186.95 L604.39 186.95 L604.97 186.95 L605.56 186.96 L606.15 186.96 L606.73 186.96 L607.32 186.96 L607.9 186.96 L608.49 186.96 L609.07 186.96 L609.66 186.96 L610.24 186.96 L610.83 186.96 L611.42 186.96 L612 186.96 L612.59 186.95 L613.17 186.95 L613.76 186.95 L614.34 186.95 L614.93 186.95 L615.52 186.95 L616.1 186.95 L616.69 186.95 L617.27 186.95 L617.86 186.95 L618.44 186.95 L619.03 186.95 L619.61 186.95 L620.2 186.95 L620.79 186.95 L621.37 186.95 L621.96 186.95 L622.54 186.95 L623.13 186.95 L623.71 186.95 L624.3 186.95 L624.88 186.95 L625.47 186.95 L626.06 186.95 L626.64 186.95 L627.23 186.95 L627.81 186.95 L628.4 186.96 L628.98 186.96 L629.57 186.96 L630.15 186.96 L630.74 186.96 L631.33 186.96 L631.91 186.97 L632.5 186.97 L633.08 186.97 L633.67 186.97 L634.25 186.98 L634.84 186.98 L635.42 186.98 L636.01 186.99 L636.6 186.99 L637.18 187 L637.77 187 L638.35 187 L638.94 187.01 L639.52 187.01 L640.11 187.02 L640.69 187.03 L641.28 187.03 L641.87 187.04 L642.45 187.04 L643.04 187.05 L643.62 187.06 L644.21 187.07 L644.79 187.07 L645.38 187.08 L645.96 187.09 L646.55 187.1 L647.14 187.11 L647.72 187.12 L648.31 187.13 L648.89 187.14 L649.48 187.15 L650.06 187.16 L650.65 187.17 L651.23 187.18 L651.82 187.2 L652.41 187.21 L652.99 187.22 L653.58 187.24 L654.16 187.25 L654.75 187.26 L655.33 187.28 L655.92 187.29 L656.51 187.31 L657.09 187.33 L657.68 187.34 L658.26 187.36 L658.85 187.38 L659.43 187.4 L660.02 187.42 L660.6 187.44 L661.19 187.46 L661.78 187.48 L662.36 187.5 L662.95 187.52 L663.53 187.54 L664.12 187.56 L664.7 187.58 L665.29 187.61 L665.87 187.63 L666.46 187.66 L667.05 187.68 L667.63 187.71 L668.22 187.74 L668.8 187.76 L669.39 187.79 L669.97 187.82 L670.56 187.85 L671.14 187.88 L671.73 187.91 L672.32 187.94 L672.9 187.97 L673.49 188 L674.07 188.03 L674.66 188.07 L675.24 188.1 L675.83 188.14 L676.41 188.17 L677 188.21 L677 198.88 L676.41 198.87 L675.83 198.85 L675.24 198.84 L674.66 198.83 L674.07 198.82 L673.49 198.81 L672.9 198.79 L672.32 198.78 L671.73 198.77 L671.14 198.76 L670.56 198.75 L669.97 198.74 L669.39 198.73 L668.8 198.72 L668.22 198.71 L667.63 198.7 L667.05 198.69 L666.46 198.68 L665.87 198.67 L665.29 198.66 L664.7 198.65 L664.12 198.65 L663.53 198.64 L662.95 198.63 L662.36 198.62 L661.78 198.61 L661.19 198.61 L660.6 198.6 L660.02 198.59 L659.43 198.59 L658.85 198.58 L658.26 198.57 L657.68 198.57 L657.09 198.56 L656.51 198.56 L655.92 198.55 L655.33 198.54 L654.75 198.54 L654.16 198.53 L653.58 198.53 L652.99 198.52 L652.41 198.52 L651.82 198.51 L651.23 198.51 L650.65 198.51 L650.06 198.5 L649.48 198.5 L648.89 198.49 L648.31 198.49 L647.72 198.49 L647.14 198.48 L646.55 198.48 L645.96 198.48 L645.38 198.47 L644.79 198.47 L644.21 198.47 L643.62 198.46 L643.04 198.46 L642.45 198.46 L641.87 198.46 L641.28 198.45 L640.69 198.45 L640.11 198.45 L639.52 198.45 L638.94 198.45 L638.35 198.44 L637.77 198.44 L637.18 198.44 L636.6 198.44 L636.01 198.44 L635.42 198.44 L634.84 198.44 L634.25 198.43 L633.67 198.43 L633.08 198.43 L632.5 198.43 L631.91 198.43 L631.33 198.43 L630.74 198.43 L630.15 198.43 L629.57 198.43 L628.98 198.43 L628.4 198.43 L627.81 198.43 L627.23 198.43 L626.64 198.43 L626.06 198.43 L625.47 198.43 L624.88 198.42 L624.3 198.42 L623.71 198.42 L623.13 198.42 L622.54 198.42 L621.96 198.42 L621.37 198.42 L620.79 198.42 L620.2 198.42 L619.61 198.42 L619.03 198.42 L618.44 198.42 L617.86 198.43 L617.27 198.43 L616.69 198.43 L616.1 198.43 L615.52 198.43 L614.93 198.43 L614.34 198.43 L613.76 198.43 L613.17 198.43 L612.59 198.43 L612 198.43 L611.42 198.43 L610.83 198.43 L610.24 198.43 L609.66 198.43 L609.07 198.43 L608.49 198.43 L607.9 198.43 L607.32 198.43 L606.73 198.43 L606.15 198.43 L605.56 198.43 L604.97 198.43 L604.39 198.43 L603.8 198.43 L603.22 198.43 L602.63 198.43 L602.05 198.42 L601.46 198.42 L600.88 198.42 L600.29 198.42 L599.7 198.42 L599.12 198.42 L598.53 198.42 L597.95 198.42 L597.36 198.42 L596.78 198.42 L596.19 198.42 L595.61 198.42 L595.02 198.41 L594.43 198.41 L593.85 198.41 L593.26 198.41 L592.68 198.41 L592.09 198.41 L591.51 198.41 L590.92 198.4 L590.34 198.4 L589.75 198.4 L589.16 198.4 L588.58 198.39 L587.99 198.39 L587.41 198.39 L586.82 198.39 L586.24 198.38 L585.65 198.38 L585.07 198.38 L584.48 198.38 L583.89 198.37 L583.31 198.37 L582.72 198.37 L582.14 198.36 L581.55 198.36 L580.97 198.35 L580.38 198.35 L579.8 198.35 L579.21 198.34 L578.62 198.34 L578.04 198.33 L577.45 198.33 L576.87 198.32 L576.28 198.32 L575.7 198.31 L575.11 198.31 L574.53 198.3 L573.94 198.3 L573.35 198.29 L572.77 198.28 L572.18 198.28 L571.6 198.27 L571.01 198.26 L570.43 198.26 L569.84 198.25 L569.25 198.24 L568.67 198.24 L568.08 198.23 L567.5 198.22 L566.91 198.21 L566.33 198.2 L565.74 198.2 L565.16 198.19 L564.57 198.18 L563.98 198.17 L563.4 198.16 L562.81 198.15 L562.23 198.14 L561.64 198.13 L561.06 198.12 L560.47 198.11 L559.89 198.1 L559.3 198.09 L558.71 198.08 L558.13 198.07 L557.54 198.06 L556.96 198.04 L556.37 198.03 L555.79 198.02 L555.2 198.01 L554.62 198 L554.03 197.98 L553.44 197.97 L552.86 197.96 L552.27 197.94 L551.69 197.93 L551.1 197.91 L550.52 197.9 L549.93 197.89 L549.35 197.87 L548.76 197.85 L548.17 197.84 L547.59 197.82 L547 197.81 L546.42 197.79 L545.83 197.77 L545.25 197.76 L544.66 197.74 L544.08 197.72 L543.49 197.7 L542.9 197.69 L542.32 197.67 L541.73 197.65 L541.15 197.63 L540.56 197.61 L539.98 197.59 L539.39 197.57 L538.81 197.55 L538.22 197.53 L537.63 197.51 L537.05 197.49 L536.46 197.47 L535.88 197.45 L535.29 197.42 L534.71 197.4 L534.12 197.38 L533.54 197.36 L532.95 197.33 L532.36 197.31 L531.78 197.28 L531.19 197.26 L530.61 197.23 L530.02 197.21 L529.44 197.18 L528.85 197.16 L528.26 197.13 L527.68 197.1 L527.09 197.08 L526.51 197.05 L525.92 197.02 L525.34 196.99 L524.75 196.97 L524.17 196.94 L523.58 196.91 L522.99 196.88 L522.41 196.85 L521.82 196.82 L521.24 196.79 L520.65 196.76 L520.07 196.72 L519.48 196.69 L518.9 196.66 L518.31 196.63 L517.72 196.59 L517.14 196.56 L516.55 196.53 L515.97 196.49 L515.38 196.46 L514.8 196.42 L514.21 196.39 L513.63 196.35 L513.04 196.32 L512.45 196.28 L511.87 196.24 L511.28 196.2 L510.7 196.17 L510.11 196.13 L509.53 196.09 L508.94 196.05 L508.36 196.01 L507.77 195.97 L507.18 195.93 L506.6 195.89 L506.01 195.85 L505.43 195.8 L504.84 195.76 L504.26 195.72 L503.67 195.67 L503.09 195.63 L502.5 195.59 L501.91 195.54 L501.33 195.5 L500.74 195.45 L500.16 195.4 L499.57 195.36 L498.99 195.31 L498.4 195.26 L497.82 195.21 L497.23 195.17 L496.64 195.12 L496.06 195.07 L495.47 195.02 L494.89 194.97 L494.3 194.92 L493.72 194.86 L493.13 194.81 L492.55 194.76 L491.96 194.71 L491.37 194.65 L490.79 194.6 L490.2 194.54 L489.62 194.49 L489.03 194.43 L488.45 194.38 L487.86 194.32 L487.27 194.26 L486.69 194.21 L486.1 194.15 L485.52 194.09 L484.93 194.03 L484.35 193.97 L483.76 193.91 L483.18 193.85 L482.59 193.79 L482 193.73 L481.42 193.66 L480.83 193.6 L480.25 193.54 L479.66 193.47 L479.08 193.41 L478.49 193.34 L477.91 193.28 L477.32 193.21 L476.73 193.14 L476.15 193.07 L475.56 193.01 L474.98 192.94 L474.39 192.87 L473.81 192.8 L473.22 192.72 L472.64 192.65 L472.05 192.58 L471.46 192.5 L470.88 192.43 L470.29 192.35 L469.71 192.27 L469.12 192.19 L468.54 192.11 L467.95 192.03 L467.37 191.94 L466.78 191.86 L466.19 191.77 L465.61 191.69 L465.02 191.6 L464.44 191.51 L463.85 191.41 L463.27 191.32 L462.68 191.22 L462.1 191.13 L461.51 191.03 L460.92 190.93 L460.34 190.82 L459.75 190.72 L459.17 190.61 L458.58 190.5 L458 190.39 L457.41 190.28 L456.83 190.16 L456.24 190.04 L455.65 189.93 L455.07 189.8 L454.48 189.68 L453.9 189.55 L453.31 189.42 L452.73 189.29 L452.14 189.16 L451.56 189.02 L450.97 188.88 L450.38 188.74 L449.8 188.6 L449.21 188.45 L448.63 188.3 L448.04 188.15 L447.46 187.99 L446.87 187.83 L446.28 187.67 L445.7 187.51 L445.11 187.34 L444.53 187.17 L443.94 187 L443.36 186.82 L442.77 186.64 L442.19 186.46 L441.6 186.27 L441.01 186.08 L440.43 185.89 L439.84 185.69 L439.26 185.49 L438.67 185.29 L438.09 185.08 L437.5 184.87 L436.92 184.66 L436.33 184.44 L435.74 184.22 L435.16 183.99 L434.57 183.76 L433.99 183.53 L433.4 183.29 L432.82 183.05 L432.23 182.81 L431.65 182.56 L431.06 182.31 L430.47 182.06 L429.89 181.8 L429.3 181.54 L428.72 181.27 L428.13 181.01 L427.55 180.74 L426.96 180.47 L426.38 180.2 L425.79 179.92 L425.2 179.65 L424.62 179.37 L424.03 179.09 L423.45 178.81 L422.86 178.53 L422.28 178.24 L421.69 177.96 L421.11 177.67 L420.52 177.39 L419.93 177.1 L419.35 176.81 L418.76 176.53 L418.18 176.24 L417.59 175.95 L417.01 175.67 L416.42 175.38 L415.84 175.1 L415.25 174.81 L414.66 174.53 L414.08 174.25 L413.49 173.98 L412.91 173.71 L412.32 173.44 L411.74 173.18 L411.15 172.93 L410.57 172.68 L409.98 172.44 L409.39 172.22 L408.81 172 L408.22 171.79 L407.64 171.59 L407.05 171.4 L406.47 171.23 L405.88 171.07 L405.29 170.93 L404.71 170.8 L404.12 170.68 L403.54 170.58 L402.95 170.5 L402.37 170.44 L401.78 170.39 L401.2 170.37 L400.61 170.38 L400.02 170.44 L399.44 170.54 L398.85 170.7 L398.27 170.93 L397.68 171.23 L397.1 171.62 L396.51 172.1 L395.93 172.67 L395.34 173.36 L394.75 174.16 L394.17 175.08 L393.58 176.14 L393 177.32 L392.41 178.62 L391.83 180.02 L391.24 181.5 L390.66 183.06 L390.07 184.67 L389.48 186.32 L388.9 188 L388.31 189.65 L387.73 191.19 L387.14 192.58 L386.56 193.73 L385.97 194.59 L385.39 195.09 L384.8 195.11 L384.33 195.07 L383.87 195.02 L383.4 194.98 L382.94 194.93 L382.47 194.89 L382.01 194.84 L381.54 194.8 L381.08 194.75 L380.61 194.71 L380.14 194.67 L379.68 194.62 L379.21 194.58 L378.75 194.54 L378.28 194.5 L377.82 194.45 L377.35 194.41 L376.89 194.37 L376.42 194.33 L375.96 194.28 L375.49 194.24 L375.02 194.2 L374.56 194.15 L374.09 194.11 L373.63 194.06 L373.16 194.02 L372.7 193.97 L372.23 193.92 L371.77 193.87 L371.3 193.83 Z" fill="#b070e0" fill-opacity="0.17" stroke="none"/>
<path d="M371.3 140.9 L371.77 141.27 L372.23 141.64 L372.7 142 L373.16 142.37 L373.63 142.73 L374.09 143.09 L374.56 143.44 L375.02 143.8 L375.49 144.14 L375.96 144.49 L376.42 144.83 L376.89 145.18 L377.35 145.52 L377.82 145.86 L378.28 146.21 L378.75 146.56 L379.21 146.91 L379.68 147.26 L380.14 147.62 L380.61 147.99 L381.08 148.36 L381.54 148.73 L382.01 149.12 L382.47 149.5 L382.94 149.9 L383.4 150.3 L383.87 150.7 L384.33 151.1 L384.8 151.5 L385.39 150.71 L385.97 148.74 L386.56 146.62 L387.14 144.38 L387.73 142.04 L388.31 139.62 L388.9 137.16 L389.48 134.67 L390.07 132.19 L390.66 129.73 L391.24 127.31 L391.83 124.98 L392.41 122.74 L393 120.62 L393.58 118.65 L394.17 116.86 L394.75 115.24 L395.34 113.8 L395.93 112.52 L396.51 111.38 L397.1 110.39 L397.68 109.53 L398.27 108.78 L398.85 108.15 L399.44 107.61 L400.02 107.16 L400.61 106.79 L401.2 106.49 L401.78 106.24 L402.37 106.04 L402.95 105.88 L403.54 105.75 L404.12 105.66 L404.71 105.61 L405.29 105.6 L405.88 105.61 L406.47 105.66 L407.05 105.75 L407.64 105.87 L408.22 106.01 L408.81 106.19 L409.39 106.4 L409.98 106.63 L410.57 106.89 L411.15 107.18 L411.74 107.5 L412.32 107.84 L412.91 108.2 L413.49 108.59 L414.08 109 L414.66 109.43 L415.25 109.89 L415.84 110.36 L416.42 110.85 L417.01 111.36 L417.59 111.89 L418.18 112.44 L418.76 113 L419.35 113.57 L419.93 114.16 L420.52 114.76 L421.11 115.38 L421.69 116 L422.28 116.64 L422.86 117.29 L423.45 117.94 L424.03 118.61 L424.62 119.28 L425.2 119.96 L425.79 120.64 L426.38 121.33 L426.96 122.02 L427.55 122.71 L428.13 123.41 L428.72 124.11 L429.3 124.81 L429.89 125.51 L430.47 126.2 L431.06 126.9 L431.65 127.59 L432.23 128.28 L432.82 128.97 L433.4 129.64 L433.99 130.32 L434.57 130.98 L435.16 131.64 L435.74 132.29 L436.33 132.94 L436.92 133.58 L437.5 134.21 L438.09 134.84 L438.67 135.45 L439.26 136.07 L439.84 136.67 L440.43 137.27 L441.01 137.87 L441.6 138.45 L442.19 139.03 L442.77 139.61 L443.36 140.18 L443.94 140.74 L444.53 141.29 L445.11 141.84 L445.7 142.39 L446.28 142.92 L446.87 143.46 L447.46 143.98 L448.04 144.5 L448.63 145.02 L449.21 145.52 L449.8 146.03 L450.38 146.52 L450.97 147.02 L451.56 147.5 L452.14 147.98 L452.73 148.46 L453.31 148.92 L453.9 149.39 L454.48 149.85 L455.07 150.3 L455.65 150.75 L456.24 151.19 L456.83 151.63 L457.41 152.06 L458 152.48 L458.58 152.9 L459.17 153.32 L459.75 153.73 L460.34 154.14 L460.92 154.54 L461.51 154.94 L462.1 155.33 L462.68 155.71 L463.27 156.1 L463.85 156.47 L464.44 156.85 L465.02 157.21 L465.61 157.58 L466.19 157.94 L466.78 158.29 L467.37 158.64 L467.95 158.98 L468.54 159.33 L469.12 159.66 L469.71 159.99 L470.29 160.32 L470.88 160.65 L471.46 160.96 L472.05 161.28 L472.64 161.59 L473.22 161.9 L473.81 162.2 L474.39 162.5 L474.98 162.8 L475.56 163.09 L476.15 163.37 L476.73 163.66 L477.32 163.94 L477.91 164.21 L478.49 164.48 L479.08 164.75 L479.66 165.02 L480.25 165.28 L480.83 165.54 L481.42 165.79 L482 166.04 L482.59 166.29 L483.18 166.53 L483.76 166.78 L484.35 167.01 L484.93 167.25 L485.52 167.48 L486.1 167.71 L486.69 167.93 L487.27 168.15 L487.86 168.37 L488.45 168.59 L489.03 168.8 L489.62 169.01 L490.2 169.22 L490.79 169.42 L491.37 169.62 L491.96 169.82 L492.55 170.02 L493.13 170.21 L493.72 170.4 L494.3 170.59 L494.89 170.77 L495.47 170.95 L496.06 171.13 L496.64 171.31 L497.23 171.48 L497.82 171.65 L498.4 171.82 L498.99 171.99 L499.57 172.15 L500.16 172.31 L500.74 172.47 L501.33 172.63 L501.91 172.78 L502.5 172.93 L503.09 173.08 L503.67 173.23 L504.26 173.37 L504.84 173.51 L505.43 173.65 L506.01 173.79 L506.6 173.92 L507.18 174.06 L507.77 174.19 L508.36 174.32 L508.94 174.44 L509.53 174.57 L510.11 174.69 L510.7 174.81 L511.28 174.93 L511.87 175.05 L512.45 175.16 L513.04 175.27 L513.63 175.38 L514.21 175.49 L514.8 175.6 L515.38 175.71 L515.97 175.81 L516.55 175.91 L517.14 176.01 L517.72 176.11 L518.31 176.2 L518.9 176.3 L519.48 176.39 L520.07 176.48 L520.65 176.57 L521.24 176.66 L521.82 176.75 L522.41 176.83 L522.99 176.92 L523.58 177 L524.17 177.08 L524.75 177.16 L525.34 177.24 L525.92 177.31 L526.51 177.39 L527.09 177.46 L527.68 177.53 L528.26 177.6 L528.85 177.67 L529.44 177.74 L530.02 177.81 L530.61 177.88 L531.19 177.94 L531.78 178.01 L532.36 178.07 L532.95 178.13 L533.54 178.19 L534.12 178.25 L534.71 178.31 L535.29 178.37 L535.88 178.42 L536.46 178.48 L537.05 178.54 L537.63 178.59 L538.22 178.64 L538.81 178.7 L539.39 178.75 L539.98 178.8 L540.56 178.85 L541.15 178.9 L541.73 178.95 L542.32 179 L542.9 179.04 L543.49 179.09 L544.08 179.14 L544.66 179.18 L545.25 179.23 L545.83 179.27 L546.42 179.32 L547 179.36 L547.59 179.4 L548.17 179.45 L548.76 179.49 L549.35 179.53 L549.93 179.57 L550.52 179.61 L551.1 179.66 L551.69 179.7 L552.27 179.74 L552.86 179.78 L553.44 179.82 L554.03 179.86 L554.62 179.9 L555.2 179.94 L555.79 179.98 L556.37 180.02 L556.96 180.06 L557.54 180.1 L558.13 180.14 L558.71 180.18 L559.3 180.22 L559.89 180.26 L560.47 180.3 L561.06 180.34 L561.64 180.38 L562.23 180.42 L562.81 180.46 L563.4 180.5 L563.98 180.54 L564.57 180.58 L565.16 180.62 L565.74 180.66 L566.33 180.71 L566.91 180.75 L567.5 180.79 L568.08 180.83 L568.67 180.87 L569.25 180.91 L569.84 180.96 L570.43 181 L571.01 181.04 L571.6 181.08 L572.18 181.12 L572.77 181.16 L573.35 181.21 L573.94 181.25 L574.53 181.29 L575.11 181.33 L575.7 181.38 L576.28 181.42 L576.87 181.46 L577.45 181.5 L578.04 181.54 L578.62 181.59 L579.21 181.63 L579.8 181.67 L580.38 181.71 L580.97 181.76 L581.55 181.8 L582.14 181.84 L582.72 181.88 L583.31 181.92 L583.89 181.97 L584.48 182.01 L585.07 182.05 L585.65 182.09 L586.24 182.13 L586.82 182.18 L587.41 182.22 L587.99 182.26 L588.58 182.3 L589.16 182.34 L589.75 182.39 L590.34 182.43 L590.92 182.47 L591.51 182.51 L592.09 182.55 L592.68 182.59 L593.26 182.63 L593.85 182.68 L594.43 182.72 L595.02 182.76 L595.61 182.8 L596.19 182.84 L596.78 182.88 L597.36 182.92 L597.95 182.96 L598.53 183 L599.12 183.04 L599.7 183.08 L600.29 183.12 L600.88 183.16 L601.46 183.2 L602.05 183.24 L602.63 183.28 L603.22 183.32 L603.8 183.36 L604.39 183.4 L604.97 183.44 L605.56 183.47 L606.15 183.51 L606.73 183.55 L607.32 183.59 L607.9 183.63 L608.49 183.66 L609.07 183.7 L609.66 183.74 L610.24 183.78 L610.83 183.81 L611.42 183.85 L612 183.89 L612.59 183.92 L613.17 183.96 L613.76 183.99 L614.34 184.03 L614.93 184.06 L615.52 184.1 L616.1 184.13 L616.69 184.17 L617.27 184.2 L617.86 184.24 L618.44 184.27 L619.03 184.3 L619.61 184.34 L620.2 184.37 L620.79 184.4 L621.37 184.44 L621.96 184.47 L622.54 184.5 L623.13 184.53 L623.71 184.56 L624.3 184.59 L624.88 184.63 L625.47 184.66 L626.06 184.69 L626.64 184.72 L627.23 184.75 L627.81 184.77 L628.4 184.8 L628.98 184.83 L629.57 184.86 L630.15 184.89 L630.74 184.92 L631.33 184.94 L631.91 184.97 L632.5 185 L633.08 185.02 L633.67 185.05 L634.25 185.07 L634.84 185.1 L635.42 185.12 L636.01 185.15 L636.6 185.17 L637.18 185.2 L637.77 185.22 L638.35 185.24 L638.94 185.27 L639.52 185.29 L640.11 185.31 L640.69 185.33 L641.28 185.35 L641.87 185.37 L642.45 185.39 L643.04 185.41 L643.62 185.43 L644.21 185.45 L644.79 185.47 L645.38 185.49 L645.96 185.5 L646.55 185.52 L647.14 185.54 L647.72 185.55 L648.31 185.57 L648.89 185.59 L649.48 185.6 L650.06 185.62 L650.65 185.63 L651.23 185.64 L651.82 185.66 L652.41 185.67 L652.99 185.68 L653.58 185.69 L654.16 185.7 L654.75 185.71 L655.33 185.72 L655.92 185.73 L656.51 185.74 L657.09 185.75 L657.68 185.76 L658.26 185.77 L658.85 185.77 L659.43 185.78 L660.02 185.79 L660.6 185.79 L661.19 185.8 L661.78 185.8 L662.36 185.81 L662.95 185.81 L663.53 185.81 L664.12 185.81 L664.7 185.82 L665.29 185.82 L665.87 185.82 L666.46 185.82 L667.05 185.82 L667.63 185.82 L668.22 185.81 L668.8 185.81 L669.39 185.81 L669.97 185.8 L670.56 185.8 L671.14 185.8 L671.73 185.79 L672.32 185.78 L672.9 185.78 L673.49 185.77 L674.07 185.76 L674.66 185.75 L675.24 185.75 L675.83 185.74 L676.41 185.73 L677 185.71" fill="none" stroke="#0000ff" stroke-width="1.3" stroke-linejoin="round" stroke-linecap="round" />
<path d="M371.3 161.3 L371.77 161.64 L372.23 161.97 L372.7 162.31 L373.16 162.65 L373.63 162.98 L374.09 163.31 L374.56 163.64 L375.02 163.97 L375.49 164.29 L375.96 164.61 L376.42 164.93 L376.89 165.25 L377.35 165.57 L377.82 165.88 L378.28 166.19 L378.75 166.5 L379.21 166.8 L379.68 167.11 L380.14 167.41 L380.61 167.72 L381.08 168.02 L381.54 168.33 L382.01 168.63 L382.47 168.94 L382.94 169.25 L383.4 169.56 L383.87 169.88 L384.33 170.19 L384.8 170.5 L385.39 170.43 L385.97 169.48 L386.56 168.04 L387.14 166.17 L387.73 163.98 L388.31 161.54 L388.9 158.94 L389.48 156.27 L390.07 153.6 L390.66 150.97 L391.24 148.41 L391.83 145.95 L392.41 143.63 L393 141.46 L393.58 139.49 L394.17 137.75 L394.75 136.24 L395.34 134.95 L395.93 133.86 L396.51 132.97 L397.1 132.25 L397.68 131.7 L398.27 131.29 L398.85 131.02 L399.44 130.86 L400.02 130.81 L400.61 130.85 L401.2 130.96 L401.78 131.13 L402.37 131.35 L402.95 131.6 L403.54 131.89 L404.12 132.2 L404.71 132.55 L405.29 132.93 L405.88 133.33 L406.47 133.76 L407.05 134.22 L407.64 134.7 L408.22 135.2 L408.81 135.72 L409.39 136.26 L409.98 136.82 L410.57 137.4 L411.15 137.99 L411.74 138.6 L412.32 139.21 L412.91 139.84 L413.49 140.49 L414.08 141.13 L414.66 141.79 L415.25 142.45 L415.84 143.12 L416.42 143.79 L417.01 144.46 L417.59 145.14 L418.18 145.81 L418.76 146.49 L419.35 147.16 L419.93 147.84 L420.52 148.51 L421.11 149.19 L421.69 149.86 L422.28 150.53 L422.86 151.19 L423.45 151.86 L424.03 152.52 L424.62 153.17 L425.2 153.83 L425.79 154.47 L426.38 155.12 L426.96 155.75 L427.55 156.39 L428.13 157.01 L428.72 157.63 L429.3 158.24 L429.89 158.84 L430.47 159.44 L431.06 160.02 L431.65 160.6 L432.23 161.17 L432.82 161.72 L433.4 162.27 L433.99 162.81 L434.57 163.33 L435.16 163.85 L435.74 164.35 L436.33 164.84 L436.92 165.33 L437.5 165.8 L438.09 166.26 L438.67 166.71 L439.26 167.16 L439.84 167.59 L440.43 168.01 L441.01 168.43 L441.6 168.83 L442.19 169.23 L442.77 169.62 L443.36 169.99 L443.94 170.36 L444.53 170.73 L445.11 171.08 L445.7 171.42 L446.28 171.76 L446.87 172.09 L447.46 172.41 L448.04 172.73 L448.63 173.03 L449.21 173.34 L449.8 173.63 L450.38 173.91 L450.97 174.19 L451.56 174.47 L452.14 174.73 L452.73 174.99 L453.31 175.25 L453.9 175.5 L454.48 175.74 L455.07 175.98 L455.65 176.21 L456.24 176.43 L456.83 176.66 L457.41 176.87 L458 177.08 L458.58 177.29 L459.17 177.49 L459.75 177.69 L460.34 177.88 L460.92 178.07 L461.51 178.26 L462.1 178.44 L462.68 178.62 L463.27 178.8 L463.85 178.97 L464.44 179.14 L465.02 179.3 L465.61 179.47 L466.19 179.63 L466.78 179.78 L467.37 179.94 L467.95 180.09 L468.54 180.24 L469.12 180.39 L469.71 180.54 L470.29 180.69 L470.88 180.83 L471.46 180.98 L472.05 181.12 L472.64 181.26 L473.22 181.4 L473.81 181.54 L474.39 181.68 L474.98 181.81 L475.56 181.95 L476.15 182.08 L476.73 182.22 L477.32 182.35 L477.91 182.48 L478.49 182.61 L479.08 182.74 L479.66 182.87 L480.25 182.99 L480.83 183.12 L481.42 183.24 L482 183.36 L482.59 183.49 L483.18 183.61 L483.76 183.73 L484.35 183.85 L484.93 183.96 L485.52 184.08 L486.1 184.2 L486.69 184.31 L487.27 184.42 L487.86 184.54 L488.45 184.65 L489.03 184.76 L489.62 184.87 L490.2 184.98 L490.79 185.08 L491.37 185.19 L491.96 185.29 L492.55 185.4 L493.13 185.5 L493.72 185.6 L494.3 185.7 L494.89 185.81 L495.47 185.9 L496.06 186 L496.64 186.1 L497.23 186.2 L497.82 186.29 L498.4 186.39 L498.99 186.48 L499.57 186.57 L500.16 186.66 L500.74 186.75 L501.33 186.84 L501.91 186.93 L502.5 187.02 L503.09 187.11 L503.67 187.19 L504.26 187.28 L504.84 187.36 L505.43 187.45 L506.01 187.53 L506.6 187.61 L507.18 187.69 L507.77 187.77 L508.36 187.85 L508.94 187.93 L509.53 188 L510.11 188.08 L510.7 188.15 L511.28 188.23 L511.87 188.3 L512.45 188.38 L513.04 188.45 L513.63 188.52 L514.21 188.59 L514.8 188.66 L515.38 188.73 L515.97 188.79 L516.55 188.86 L517.14 188.93 L517.72 188.99 L518.31 189.06 L518.9 189.12 L519.48 189.19 L520.07 189.25 L520.65 189.31 L521.24 189.37 L521.82 189.43 L522.41 189.49 L522.99 189.55 L523.58 189.61 L524.17 189.66 L524.75 189.72 L525.34 189.77 L525.92 189.83 L526.51 189.88 L527.09 189.94 L527.68 189.99 L528.26 190.04 L528.85 190.09 L529.44 190.14 L530.02 190.19 L530.61 190.24 L531.19 190.29 L531.78 190.34 L532.36 190.38 L532.95 190.43 L533.54 190.48 L534.12 190.52 L534.71 190.57 L535.29 190.61 L535.88 190.65 L536.46 190.7 L537.05 190.74 L537.63 190.78 L538.22 190.82 L538.81 190.86 L539.39 190.9 L539.98 190.94 L540.56 190.98 L541.15 191.01 L541.73 191.05 L542.32 191.09 L542.9 191.12 L543.49 191.16 L544.08 191.19 L544.66 191.23 L545.25 191.26 L545.83 191.29 L546.42 191.32 L547 191.36 L547.59 191.39 L548.17 191.42 L548.76 191.45 L549.35 191.48 L549.93 191.51 L550.52 191.53 L551.1 191.56 L551.69 191.59 L552.27 191.62 L552.86 191.64 L553.44 191.67 L554.03 191.7 L554.62 191.72 L555.2 191.74 L555.79 191.77 L556.37 191.79 L556.96 191.82 L557.54 191.84 L558.13 191.86 L558.71 191.88 L559.3 191.9 L559.89 191.92 L560.47 191.94 L561.06 191.96 L561.64 191.98 L562.23 192 L562.81 192.02 L563.4 192.04 L563.98 192.06 L564.57 192.07 L565.16 192.09 L565.74 192.11 L566.33 192.12 L566.91 192.14 L567.5 192.16 L568.08 192.17 L568.67 192.19 L569.25 192.2 L569.84 192.21 L570.43 192.23 L571.01 192.24 L571.6 192.25 L572.18 192.27 L572.77 192.28 L573.35 192.29 L573.94 192.3 L574.53 192.31 L575.11 192.32 L575.7 192.33 L576.28 192.35 L576.87 192.36 L577.45 192.36 L578.04 192.37 L578.62 192.38 L579.21 192.39 L579.8 192.4 L580.38 192.41 L580.97 192.42 L581.55 192.42 L582.14 192.43 L582.72 192.44 L583.31 192.45 L583.89 192.45 L584.48 192.46 L585.07 192.47 L585.65 192.47 L586.24 192.48 L586.82 192.48 L587.41 192.49 L587.99 192.49 L588.58 192.5 L589.16 192.5 L589.75 192.51 L590.34 192.51 L590.92 192.52 L591.51 192.52 L592.09 192.52 L592.68 192.53 L593.26 192.53 L593.85 192.53 L594.43 192.54 L595.02 192.54 L595.61 192.54 L596.19 192.55 L596.78 192.55 L597.36 192.55 L597.95 192.55 L598.53 192.56 L599.12 192.56 L599.7 192.56 L600.29 192.56 L600.88 192.56 L601.46 192.57 L602.05 192.57 L602.63 192.57 L603.22 192.57 L603.8 192.57 L604.39 192.57 L604.97 192.57 L605.56 192.57 L606.15 192.58 L606.73 192.58 L607.32 192.58 L607.9 192.58 L608.49 192.58 L609.07 192.58 L609.66 192.58 L610.24 192.58 L610.83 192.58 L611.42 192.58 L612 192.58 L612.59 192.58 L613.17 192.58 L613.76 192.59 L614.34 192.59 L614.93 192.59 L615.52 192.59 L616.1 192.59 L616.69 192.59 L617.27 192.59 L617.86 192.59 L618.44 192.59 L619.03 192.59 L619.61 192.59 L620.2 192.59 L620.79 192.6 L621.37 192.6 L621.96 192.6 L622.54 192.6 L623.13 192.6 L623.71 192.6 L624.3 192.6 L624.88 192.61 L625.47 192.61 L626.06 192.61 L626.64 192.61 L627.23 192.61 L627.81 192.62 L628.4 192.62 L628.98 192.62 L629.57 192.62 L630.15 192.63 L630.74 192.63 L631.33 192.63 L631.91 192.64 L632.5 192.64 L633.08 192.64 L633.67 192.65 L634.25 192.65 L634.84 192.65 L635.42 192.66 L636.01 192.66 L636.6 192.67 L637.18 192.67 L637.77 192.68 L638.35 192.68 L638.94 192.69 L639.52 192.69 L640.11 192.7 L640.69 192.71 L641.28 192.71 L641.87 192.72 L642.45 192.73 L643.04 192.73 L643.62 192.74 L644.21 192.75 L644.79 192.76 L645.38 192.76 L645.96 192.77 L646.55 192.78 L647.14 192.79 L647.72 192.8 L648.31 192.81 L648.89 192.82 L649.48 192.83 L650.06 192.84 L650.65 192.85 L651.23 192.86 L651.82 192.87 L652.41 192.89 L652.99 192.9 L653.58 192.91 L654.16 192.92 L654.75 192.94 L655.33 192.95 L655.92 192.96 L656.51 192.98 L657.09 192.99 L657.68 193.01 L658.26 193.02 L658.85 193.04 L659.43 193.05 L660.02 193.07 L660.6 193.09 L661.19 193.11 L661.78 193.12 L662.36 193.14 L662.95 193.16 L663.53 193.18 L664.12 193.2 L664.7 193.22 L665.29 193.24 L665.87 193.26 L666.46 193.28 L667.05 193.3 L667.63 193.32 L668.22 193.35 L668.8 193.37 L669.39 193.39 L669.97 193.42 L670.56 193.44 L671.14 193.47 L671.73 193.49 L672.32 193.52 L672.9 193.54 L673.49 193.57 L674.07 193.6 L674.66 193.63 L675.24 193.65 L675.83 193.68 L676.41 193.71 L677 193.74" fill="none" stroke="#006400" stroke-width="1.3" stroke-linejoin="round" stroke-linecap="round" />
<path d="M371.3 187.4 L371.77 187.5 L372.23 187.61 L372.7 187.71 L373.16 187.81 L373.63 187.91 L374.09 188.01 L374.56 188.11 L375.02 188.21 L375.49 188.3 L375.96 188.4 L376.42 188.49 L376.89 188.58 L377.35 188.67 L377.82 188.76 L378.28 188.86 L378.75 188.95 L379.21 189.04 L379.68 189.13 L380.14 189.22 L380.61 189.32 L381.08 189.41 L381.54 189.51 L382.01 189.61 L382.47 189.7 L382.94 189.8 L383.4 189.9 L383.87 190 L384.33 190.1 L384.8 190.2 L385.39 190.14 L385.97 189.07 L386.56 187.2 L387.14 184.69 L387.73 181.68 L388.31 178.31 L388.9 174.73 L389.48 171.09 L390.07 167.49 L390.66 163.99 L391.24 160.6 L391.83 157.38 L392.41 154.34 L393 151.52 L393.58 148.94 L394.17 146.65 L394.75 144.64 L395.34 142.9 L395.93 141.41 L396.51 140.16 L397.1 139.13 L397.68 138.29 L398.27 137.63 L398.85 137.13 L399.44 136.78 L400.02 136.56 L400.61 136.44 L401.2 136.41 L401.78 136.45 L402.37 136.55 L402.95 136.69 L403.54 136.87 L404.12 137.08 L404.71 137.33 L405.29 137.62 L405.88 137.93 L406.47 138.28 L407.05 138.66 L407.64 139.06 L408.22 139.49 L408.81 139.94 L409.39 140.42 L409.98 140.92 L410.57 141.43 L411.15 141.97 L411.74 142.52 L412.32 143.08 L412.91 143.66 L413.49 144.25 L414.08 144.85 L414.66 145.45 L415.25 146.07 L415.84 146.68 L416.42 147.3 L417.01 147.93 L417.59 148.55 L418.18 149.17 L418.76 149.79 L419.35 150.42 L419.93 151.04 L420.52 151.66 L421.11 152.28 L421.69 152.9 L422.28 153.52 L422.86 154.14 L423.45 154.75 L424.03 155.36 L424.62 155.97 L425.2 156.58 L425.79 157.18 L426.38 157.77 L426.96 158.37 L427.55 158.95 L428.13 159.54 L428.72 160.11 L429.3 160.69 L429.89 161.25 L430.47 161.81 L431.06 162.37 L431.65 162.91 L432.23 163.45 L432.82 163.98 L433.4 164.5 L433.99 165.02 L434.57 165.53 L435.16 166.02 L435.74 166.51 L436.33 167 L436.92 167.47 L437.5 167.93 L438.09 168.39 L438.67 168.84 L439.26 169.28 L439.84 169.72 L440.43 170.15 L441.01 170.56 L441.6 170.98 L442.19 171.38 L442.77 171.78 L443.36 172.17 L443.94 172.55 L444.53 172.93 L445.11 173.3 L445.7 173.67 L446.28 174.02 L446.87 174.37 L447.46 174.72 L448.04 175.06 L448.63 175.39 L449.21 175.71 L449.8 176.03 L450.38 176.35 L450.97 176.65 L451.56 176.96 L452.14 177.25 L452.73 177.54 L453.31 177.83 L453.9 178.11 L454.48 178.39 L455.07 178.66 L455.65 178.92 L456.24 179.18 L456.83 179.44 L457.41 179.69 L458 179.93 L458.58 180.17 L459.17 180.41 L459.75 180.64 L460.34 180.87 L460.92 181.09 L461.51 181.31 L462.1 181.53 L462.68 181.74 L463.27 181.95 L463.85 182.16 L464.44 182.36 L465.02 182.55 L465.61 182.75 L466.19 182.94 L466.78 183.13 L467.37 183.31 L467.95 183.49 L468.54 183.67 L469.12 183.85 L469.71 184.02 L470.29 184.19 L470.88 184.36 L471.46 184.52 L472.05 184.68 L472.64 184.85 L473.22 185 L473.81 185.16 L474.39 185.31 L474.98 185.47 L475.56 185.62 L476.15 185.77 L476.73 185.91 L477.32 186.06 L477.91 186.2 L478.49 186.35 L479.08 186.49 L479.66 186.63 L480.25 186.77 L480.83 186.91 L481.42 187.05 L482 187.18 L482.59 187.32 L483.18 187.45 L483.76 187.58 L484.35 187.71 L484.93 187.84 L485.52 187.97 L486.1 188.1 L486.69 188.23 L487.27 188.35 L487.86 188.48 L488.45 188.6 L489.03 188.72 L489.62 188.84 L490.2 188.96 L490.79 189.08 L491.37 189.2 L491.96 189.32 L492.55 189.43 L493.13 189.54 L493.72 189.66 L494.3 189.77 L494.89 189.88 L495.47 189.99 L496.06 190.1 L496.64 190.21 L497.23 190.31 L497.82 190.42 L498.4 190.52 L498.99 190.63 L499.57 190.73 L500.16 190.83 L500.74 190.93 L501.33 191.03 L501.91 191.13 L502.5 191.23 L503.09 191.32 L503.67 191.42 L504.26 191.51 L504.84 191.61 L505.43 191.7 L506.01 191.79 L506.6 191.88 L507.18 191.97 L507.77 192.06 L508.36 192.15 L508.94 192.23 L509.53 192.32 L510.11 192.4 L510.7 192.49 L511.28 192.57 L511.87 192.65 L512.45 192.73 L513.04 192.81 L513.63 192.89 L514.21 192.97 L514.8 193.05 L515.38 193.12 L515.97 193.2 L516.55 193.27 L517.14 193.35 L517.72 193.42 L518.31 193.49 L518.9 193.56 L519.48 193.63 L520.07 193.7 L520.65 193.77 L521.24 193.84 L521.82 193.9 L522.41 193.97 L522.99 194.04 L523.58 194.1 L524.17 194.16 L524.75 194.23 L525.34 194.29 L525.92 194.35 L526.51 194.41 L527.09 194.47 L527.68 194.53 L528.26 194.59 L528.85 194.64 L529.44 194.7 L530.02 194.75 L530.61 194.81 L531.19 194.86 L531.78 194.92 L532.36 194.97 L532.95 195.02 L533.54 195.07 L534.12 195.12 L534.71 195.17 L535.29 195.22 L535.88 195.27 L536.46 195.32 L537.05 195.36 L537.63 195.41 L538.22 195.45 L538.81 195.5 L539.39 195.54 L539.98 195.59 L540.56 195.63 L541.15 195.67 L541.73 195.71 L542.32 195.75 L542.9 195.79 L543.49 195.83 L544.08 195.87 L544.66 195.91 L545.25 195.95 L545.83 195.98 L546.42 196.02 L547 196.06 L547.59 196.09 L548.17 196.12 L548.76 196.16 L549.35 196.19 L549.93 196.22 L550.52 196.26 L551.1 196.29 L551.69 196.32 L552.27 196.35 L552.86 196.38 L553.44 196.41 L554.03 196.44 L554.62 196.46 L555.2 196.49 L555.79 196.52 L556.37 196.54 L556.96 196.57 L557.54 196.6 L558.13 196.62 L558.71 196.65 L559.3 196.67 L559.89 196.69 L560.47 196.72 L561.06 196.74 L561.64 196.76 L562.23 196.78 L562.81 196.8 L563.4 196.82 L563.98 196.84 L564.57 196.86 L565.16 196.88 L565.74 196.9 L566.33 196.92 L566.91 196.94 L567.5 196.95 L568.08 196.97 L568.67 196.99 L569.25 197 L569.84 197.02 L570.43 197.03 L571.01 197.05 L571.6 197.06 L572.18 197.08 L572.77 197.09 L573.35 197.1 L573.94 197.12 L574.53 197.13 L575.11 197.14 L575.7 197.15 L576.28 197.16 L576.87 197.18 L577.45 197.19 L578.04 197.2 L578.62 197.21 L579.21 197.22 L579.8 197.23 L580.38 197.23 L580.97 197.24 L581.55 197.25 L582.14 197.26 L582.72 197.27 L583.31 197.28 L583.89 197.28 L584.48 197.29 L585.07 197.3 L585.65 197.3 L586.24 197.31 L586.82 197.32 L587.41 197.32 L587.99 197.33 L588.58 197.33 L589.16 197.34 L589.75 197.34 L590.34 197.35 L590.92 197.35 L591.51 197.35 L592.09 197.36 L592.68 197.36 L593.26 197.37 L593.85 197.37 L594.43 197.37 L595.02 197.37 L595.61 197.38 L596.19 197.38 L596.78 197.38 L597.36 197.38 L597.95 197.39 L598.53 197.39 L599.12 197.39 L599.7 197.39 L600.29 197.39 L600.88 197.39 L601.46 197.4 L602.05 197.4 L602.63 197.4 L603.22 197.4 L603.8 197.4 L604.39 197.4 L604.97 197.4 L605.56 197.4 L606.15 197.4 L606.73 197.4 L607.32 197.4 L607.9 197.4 L608.49 197.4 L609.07 197.4 L609.66 197.4 L610.24 197.4 L610.83 197.4 L611.42 197.4 L612 197.4 L612.59 197.4 L613.17 197.4 L613.76 197.4 L614.34 197.4 L614.93 197.4 L615.52 197.4 L616.1 197.4 L616.69 197.4 L617.27 197.4 L617.86 197.4 L618.44 197.4 L619.03 197.4 L619.61 197.4 L620.2 197.4 L620.79 197.4 L621.37 197.4 L621.96 197.4 L622.54 197.4 L623.13 197.4 L623.71 197.4 L624.3 197.4 L624.88 197.4 L625.47 197.4 L626.06 197.4 L626.64 197.4 L627.23 197.4 L627.81 197.4 L628.4 197.4 L628.98 197.4 L629.57 197.4 L630.15 197.41 L630.74 197.41 L631.33 197.41 L631.91 197.41 L632.5 197.41 L633.08 197.41 L633.67 197.42 L634.25 197.42 L634.84 197.42 L635.42 197.42 L636.01 197.43 L636.6 197.43 L637.18 197.43 L637.77 197.44 L638.35 197.44 L638.94 197.44 L639.52 197.45 L640.11 197.45 L640.69 197.46 L641.28 197.46 L641.87 197.47 L642.45 197.47 L643.04 197.48 L643.62 197.48 L644.21 197.49 L644.79 197.49 L645.38 197.5 L645.96 197.51 L646.55 197.51 L647.14 197.52 L647.72 197.53 L648.31 197.54 L648.89 197.55 L649.48 197.55 L650.06 197.56 L650.65 197.57 L651.23 197.58 L651.82 197.59 L652.41 197.6 L652.99 197.61 L653.58 197.62 L654.16 197.63 L654.75 197.64 L655.33 197.66 L655.92 197.67 L656.51 197.68 L657.09 197.69 L657.68 197.71 L658.26 197.72 L658.85 197.73 L659.43 197.75 L660.02 197.76 L660.6 197.78 L661.19 197.79 L661.78 197.81 L662.36 197.83 L662.95 197.84 L663.53 197.86 L664.12 197.88 L664.7 197.9 L665.29 197.92 L665.87 197.93 L666.46 197.95 L667.05 197.97 L667.63 197.99 L668.22 198.02 L668.8 198.04 L669.39 198.06 L669.97 198.08 L670.56 198.1 L671.14 198.13 L671.73 198.15 L672.32 198.17 L672.9 198.2 L673.49 198.22 L674.07 198.25 L674.66 198.28 L675.24 198.3 L675.83 198.33 L676.41 198.36 L677 198.39" fill="none" stroke="#9900cc" stroke-width="1.3" stroke-linejoin="round" stroke-linecap="round" />
<circle cx="382.8" cy="159.1" r="2.6" fill="#006400"/>
<circle cx="385.7" cy="159.9" r="2.6" fill="#006400"/>
<circle cx="388.8" cy="147.6" r="2.6" fill="#006400"/>
<circle cx="394.4" cy="143.9" r="2.6" fill="#006400"/>
<circle cx="406.4" cy="141.9" r="2.6" fill="#006400"/>
<circle cx="429.9" cy="159.9" r="2.6" fill="#006400"/>
<circle cx="453.4" cy="171.9" r="2.6" fill="#006400"/>
<circle cx="524.2" cy="193.6" r="2.6" fill="#006400"/>
<circle cx="382.8" cy="154" r="2.6" fill="#0000ff"/>
<circle cx="385.7" cy="124.3" r="2.6" fill="#0000ff"/>
<circle cx="388.7" cy="114.1" r="2.6" fill="#0000ff"/>
<circle cx="394.4" cy="114.7" r="2.6" fill="#0000ff"/>
<circle cx="406.4" cy="110.1" r="2.6" fill="#0000ff"/>
<circle cx="418.2" cy="117.9" r="2.6" fill="#0000ff"/>
<circle cx="429.9" cy="122.7" r="2.6" fill="#0000ff"/>
<circle cx="453.4" cy="160.4" r="2.6" fill="#0000ff"/>
<circle cx="382.8" cy="183.1" r="2.6" fill="#9400d3"/>
<circle cx="386" cy="178.3" r="2.6" fill="#9400d3"/>
<circle cx="388.7" cy="158.3" r="2.6" fill="#9400d3"/>
<circle cx="394.4" cy="141.2" r="2.6" fill="#9400d3"/>
<circle cx="406.4" cy="129.7" r="2.6" fill="#9400d3"/>
<circle cx="418.2" cy="142.7" r="2.6" fill="#9400d3"/>
<circle cx="429.9" cy="147.4" r="2.6" fill="#9400d3"/>
<circle cx="453.4" cy="161.5" r="2.6" fill="#9400d3"/>
<circle cx="524.2" cy="182.8" r="2.6" fill="#9400d3"/>
<line x1="371.3" y1="24.6" x2="371.3" y2="199.3" stroke="#666" stroke-width="1"/>
<line x1="369.1" y1="199.3" x2="371.3" y2="199.3" stroke="#666" stroke-width="0.8"/>
<text x="368.1" y="203.2" font-size="11.4" text-anchor="end" font-weight="normal" fill="#111" >0</text>
<line x1="369.1" y1="169.2" x2="371.3" y2="169.2" stroke="#666" stroke-width="0.8"/>
<text x="368.1" y="173.1" font-size="11.4" text-anchor="end" font-weight="normal" fill="#111" >1</text>
<line x1="369.1" y1="139.1" x2="371.3" y2="139.1" stroke="#666" stroke-width="0.8"/>
<text x="368.1" y="143" font-size="11.4" text-anchor="end" font-weight="normal" fill="#111" >2</text>
<line x1="369.1" y1="109" x2="371.3" y2="109" stroke="#666" stroke-width="0.8"/>
<text x="368.1" y="112.9" font-size="11.4" text-anchor="end" font-weight="normal" fill="#111" >3</text>
<line x1="369.1" y1="78.9" x2="371.3" y2="78.9" stroke="#666" stroke-width="0.8"/>
<text x="368.1" y="82.8" font-size="11.4" text-anchor="end" font-weight="normal" fill="#111" >4</text>
<line x1="369.1" y1="48.8" x2="371.3" y2="48.8" stroke="#666" stroke-width="0.8"/>
<text x="368.1" y="52.7" font-size="11.4" text-anchor="end" font-weight="normal" fill="#111" >5</text>
<line x1="371.3" y1="199.3" x2="677" y2="199.3" stroke="#444" stroke-width="1"/>
<line x1="382.8" y1="199.3" x2="382.8" y2="201.5" stroke="#444" stroke-width="0.8"/>
<text x="382.8" y="210.7" font-size="11.4" text-anchor="middle" font-weight="normal" fill="#111" >672</text>
<line x1="453.25" y1="199.3" x2="453.25" y2="201.5" stroke="#444" stroke-width="0.8"/>
<text x="453.25" y="210.7" font-size="11.4" text-anchor="middle" font-weight="normal" fill="#111" >684</text>
<line x1="523.7" y1="199.3" x2="523.7" y2="201.5" stroke="#444" stroke-width="0.8"/>
<text x="523.7" y="210.7" font-size="11.4" text-anchor="middle" font-weight="normal" fill="#111" >696</text>
<line x1="594.16" y1="199.3" x2="594.16" y2="201.5" stroke="#444" stroke-width="0.8"/>
<text x="594.16" y="210.7" font-size="11.4" text-anchor="middle" font-weight="normal" fill="#111" >708</text>
<line x1="664.61" y1="199.3" x2="664.61" y2="201.5" stroke="#444" stroke-width="0.8"/>
<text x="664.61" y="210.7" font-size="11.4" text-anchor="middle" font-weight="normal" fill="#111" >720</text>
<text x="525" y="223" font-size="11.7" text-anchor="middle" font-weight="normal" fill="#111" >Time [h]</text>
<text x="369.3" y="17.9" font-size="19.4" text-anchor="start" font-weight="bold" fill="#000" >b</text>
<text x="393.4" y="18" font-size="13.25" text-anchor="start" font-weight="normal" fill="#111" >Metformin - 500 mg - multiple dose</text>
<circle cx="575.2" cy="34" r="2.5" fill="#006400"/>
<text x="586.5" y="37.1" font-size="9.1" text-anchor="start" font-weight="normal" fill="#111" >Lalau 2018 - CKD3A</text>
<circle cx="575.2" cy="44.1" r="2.5" fill="#0000ff"/>
<text x="586.5" y="47.1" font-size="9.1" text-anchor="start" font-weight="normal" fill="#111" >Lalau 2018 - CKD3B</text>
<circle cx="575.2" cy="54.2" r="2.5" fill="#9400d3"/>
<text x="586.5" y="57.1" font-size="9.1" text-anchor="start" font-weight="normal" fill="#111" >Lalau 2018 - CKD4</text>
<text x="586.5" y="67.7" font-size="9.1" text-anchor="start" font-weight="normal" fill="#111" >n = 5/5/5</text>
<path d="M36.74 425.22 L37.11 425.26 L37.49 425.31 L37.86 425.36 L38.24 425.4 L38.61 425.45 L38.99 425.49 L39.37 425.54 L39.74 425.58 L40.12 425.62 L40.49 425.67 L40.87 425.71 L41.25 425.75 L41.62 425.8 L42 425.84 L42.37 425.88 L42.75 425.92 L43.12 425.96 L43.5 426 L43.88 426.04 L44.25 426.08 L44.63 426.12 L45 426.16 L45.38 426.19 L45.76 426.23 L46.13 426.26 L46.51 426.3 L46.88 426.33 L47.26 426.35 L47.63 426.38 L48.01 426.4 L48.39 426.42 L48.76 426.44 L49.14 426.45 L49.51 426.45 L49.89 426.45 L50.26 426.44 L50.64 426.42 L51.02 426.4 L51.39 426.36 L51.77 426.31 L52.14 426.25 L52.52 426.18 L52.9 426.09 L53.27 425.99 L53.65 425.89 L54.02 425.75 L54.4 425.61 L54.77 425.46 L55.15 425.29 L55.53 425.11 L55.9 424.92 L56.28 424.71 L56.65 424.5 L57.03 424.27 L57.41 424.04 L57.78 423.8 L58.16 423.56 L58.53 423.31 L58.91 423.06 L59.28 422.81 L59.66 422.56 L60.04 422.31 L60.41 422.06 L60.79 421.82 L61.16 421.58 L61.54 421.35 L61.91 421.12 L62.29 420.9 L62.67 420.68 L63.04 420.47 L63.42 420.27 L63.79 420.08 L64.17 419.89 L64.55 419.71 L64.92 419.54 L65.3 419.38 L65.67 419.22 L66.05 419.07 L66.42 418.93 L66.8 418.79 L67.18 418.66 L67.55 418.54 L67.93 418.43 L68.3 418.32 L68.68 418.21 L69.06 418.12 L69.43 418.03 L69.81 417.94 L70.18 417.86 L70.56 417.79 L70.93 417.72 L71.31 417.66 L71.69 417.6 L72.06 417.54 L72.44 417.49 L72.81 417.45 L73.19 417.41 L73.56 417.37 L73.94 417.34 L74.32 417.31 L74.69 417.29 L75.07 417.27 L75.44 417.25 L75.82 417.24 L76.2 417.23 L76.57 417.23 L76.95 417.22 L77.32 417.22 L77.7 417.23 L78.07 417.23 L78.45 417.24 L78.83 417.25 L79.2 417.27 L79.58 417.29 L79.95 417.31 L80.33 417.33 L80.71 417.35 L81.08 417.38 L81.46 417.41 L81.83 417.44 L82.21 417.47 L82.58 417.51 L82.96 417.55 L83.34 417.59 L83.71 417.63 L84.09 417.67 L84.46 417.71 L84.84 417.76 L85.21 417.81 L85.59 417.86 L85.97 417.91 L86.34 417.96 L86.72 418.01 L87.09 418.06 L87.47 418.12 L87.85 418.17 L88.22 418.23 L88.6 418.29 L88.97 418.35 L89.35 418.41 L89.72 418.47 L90.1 418.53 L90.48 418.59 L90.85 418.66 L91.23 418.72 L91.6 418.79 L91.98 418.85 L92.36 418.92 L92.73 418.99 L93.11 419.05 L93.48 419.12 L93.86 419.19 L94.23 419.26 L94.61 419.33 L94.99 419.4 L95.36 419.47 L95.74 419.54 L96.11 419.61 L96.49 419.68 L96.86 419.75 L97.24 419.82 L97.62 419.89 L97.99 419.96 L98.37 420.03 L98.74 420.11 L99.12 420.18 L99.5 420.25 L99.87 420.32 L100.25 420.39 L100.62 420.47 L101 420.54 L101.37 420.61 L101.75 420.68 L102.13 420.75 L102.5 420.83 L102.88 420.9 L103.25 420.97 L103.63 421.04 L104.01 421.11 L104.38 421.18 L104.76 421.26 L105.13 421.33 L105.51 421.4 L105.88 421.47 L106.26 421.54 L106.64 421.61 L107.01 421.68 L107.39 421.75 L107.76 421.82 L108.14 421.89 L108.51 421.96 L108.89 422.03 L109.27 422.09 L109.64 422.16 L110.02 422.23 L110.39 422.3 L110.77 422.36 L111.15 422.43 L111.52 422.5 L111.9 422.56 L112.27 422.63 L112.65 422.7 L113.02 422.76 L113.4 422.83 L113.78 422.89 L114.15 422.95 L114.53 423.02 L114.9 423.08 L115.28 423.15 L115.66 423.21 L116.03 423.27 L116.41 423.33 L116.78 423.39 L117.16 423.45 L117.53 423.52 L117.91 423.58 L118.29 423.64 L118.66 423.7 L119.04 423.75 L119.41 423.81 L119.79 423.87 L120.16 423.93 L120.54 423.99 L120.92 424.04 L121.29 424.1 L121.67 424.16 L122.04 424.21 L122.42 424.27 L122.8 424.32 L123.17 424.38 L123.55 424.43 L123.92 424.48 L124.3 424.54 L124.67 424.59 L125.05 424.64 L125.43 424.69 L125.8 424.75 L126.18 424.8 L126.55 424.85 L126.93 424.9 L127.31 424.95 L127.68 425 L128.06 425.05 L128.43 425.1 L128.81 425.14 L129.18 425.19 L129.56 425.24 L129.94 425.29 L130.31 425.33 L130.69 425.38 L131.06 425.42 L131.44 425.47 L131.81 425.51 L132.19 425.56 L132.57 425.6 L132.94 425.65 L133.32 425.69 L133.69 425.73 L134.07 425.77 L134.45 425.82 L134.82 425.86 L135.2 425.9 L135.57 425.94 L135.95 425.98 L136.32 426.02 L136.7 426.06 L137.08 426.1 L137.45 426.14 L137.83 426.17 L138.2 426.21 L138.58 426.25 L138.96 426.28 L139.33 426.31 L139.71 426.34 L140.08 426.37 L140.46 426.39 L140.83 426.41 L141.21 426.43 L141.59 426.44 L141.96 426.45 L142.34 426.45 L142.71 426.45 L143.09 426.43 L143.46 426.41 L143.84 426.38 L144.22 426.34 L144.59 426.28 L144.97 426.22 L145.34 426.14 L145.72 426.05 L146.1 425.94 L146.47 425.82 L146.85 425.69 L147.22 425.54 L147.6 425.38 L147.97 425.21 L148.35 425.02 L148.73 424.82 L149.1 424.61 L149.48 424.39 L149.85 424.16 L150.23 423.93 L150.61 423.68 L150.98 423.44 L151.36 423.19 L151.73 422.94 L152.11 422.69 L152.48 422.44 L152.86 422.19 L153.24 421.94 L153.61 421.7 L153.99 421.47 L154.36 421.23 L154.74 421.01 L155.11 420.79 L155.49 420.58 L155.87 420.37 L156.24 420.18 L156.62 419.99 L156.99 419.8 L157.37 419.63 L157.75 419.46 L158.12 419.3 L158.5 419.14 L158.87 419 L159.25 418.86 L159.62 418.73 L160 418.6 L160.38 418.48 L160.75 418.37 L161.13 418.27 L161.5 418.17 L161.88 418.07 L162.26 417.98 L162.63 417.9 L163.01 417.83 L163.38 417.75 L163.76 417.69 L164.13 417.63 L164.51 417.57 L164.89 417.52 L165.26 417.47 L165.64 417.43 L166.01 417.39 L166.39 417.36 L166.76 417.33 L167.14 417.3 L167.52 417.28 L167.89 417.26 L168.27 417.25 L168.64 417.24 L169.02 417.23 L169.4 417.22 L169.77 417.22 L170.15 417.22 L170.52 417.23 L170.9 417.24 L171.27 417.25 L171.65 417.26 L172.03 417.28 L172.4 417.3 L172.78 417.32 L173.15 417.34 L173.53 417.37 L173.91 417.4 L174.28 417.43 L174.66 417.46 L175.03 417.49 L175.41 417.53 L175.78 417.57 L176.16 417.61 L176.54 417.65 L176.91 417.69 L177.29 417.74 L177.66 417.78 L178.04 417.83 L178.41 417.88 L178.79 417.93 L179.17 417.98 L179.54 418.04 L179.92 418.09 L180.29 418.15 L180.67 418.2 L181.05 418.26 L181.42 418.32 L181.8 418.38 L182.17 418.44 L182.55 418.5 L182.92 418.56 L183.3 418.63 L183.68 418.69 L184.05 418.75 L184.43 418.82 L184.8 418.88 L185.18 418.95 L185.56 419.02 L185.93 419.09 L186.31 419.15 L186.68 419.22 L187.06 419.29 L187.43 419.36 L187.81 419.43 L188.19 419.5 L188.56 419.57 L188.94 419.64 L189.31 419.71 L189.69 419.78 L190.06 419.85 L190.44 419.93 L190.82 420 L191.19 420.07 L191.57 420.14 L191.94 420.21 L192.32 420.28 L192.7 420.36 L193.07 420.43 L193.45 420.5 L193.82 420.57 L194.2 420.65 L194.57 420.72 L194.95 420.79 L195.33 420.86 L195.7 420.93 L196.08 421 L196.45 421.08 L196.83 421.15 L197.21 421.22 L197.58 421.29 L197.96 421.36 L198.33 421.43 L198.71 421.5 L199.08 421.57 L199.46 421.64 L199.84 421.71 L200.21 421.78 L200.59 421.85 L200.96 421.92 L201.34 421.99 L201.71 422.06 L202.09 422.13 L202.47 422.2 L202.84 422.26 L203.22 422.33 L203.59 422.4 L203.97 422.46 L204.35 422.53 L204.72 422.6 L205.1 422.66 L205.47 422.73 L205.85 422.79 L206.22 422.86 L206.6 422.92 L206.98 422.99 L207.35 423.05 L207.73 423.11 L208.1 423.18 L208.48 423.24 L208.86 423.3 L209.23 423.36 L209.61 423.42 L209.98 423.48 L210.36 423.55 L210.73 423.61 L211.11 423.66 L211.49 423.72 L211.86 423.78 L212.24 423.84 L212.61 423.9 L212.99 423.96 L213.36 424.01 L213.74 424.07 L214.12 424.13 L214.49 424.18 L214.87 424.24 L215.24 424.29 L215.62 424.35 L216 424.4 L216.37 424.46 L216.75 424.51 L217.12 424.56 L217.5 424.62 L217.87 424.67 L218.25 424.72 L218.63 424.77 L219 424.82 L219.38 424.87 L219.75 424.92 L220.13 424.97 L220.51 425.02 L220.88 425.07 L221.26 425.12 L221.63 425.17 L222.01 425.21 L222.38 425.26 L222.76 425.31 L223.14 425.35 L223.51 425.4 L223.89 425.45 L224.26 425.49 L224.64 425.54 L225.01 425.58 L225.39 425.62 L225.77 425.67 L226.14 425.71 L226.52 425.75 L226.89 425.8 L227.27 425.84 L227.65 425.88 L228.02 425.92 L228.4 425.96 L228.77 426 L229.15 426.04 L229.52 426.08 L229.9 426.12 L230.28 426.16 L230.65 426.19 L231.03 426.23 L231.4 426.26 L231.78 426.3 L232.16 426.33 L232.53 426.35 L232.91 426.38 L233.28 426.4 L233.66 426.42 L234.03 426.44 L234.41 426.45 L234.79 426.45 L235.16 426.45 L235.54 426.44 L235.91 426.42 L236.29 426.4 L236.66 426.36 L237.04 426.31 L237.42 426.25 L237.79 426.18 L238.17 426.09 L238.54 426 L238.92 425.89 L239.3 425.76 L239.67 425.62 L240.05 425.47 L240.42 425.29 L240.8 425.11 L241.17 424.92 L241.55 424.71 L241.93 424.5 L242.3 424.28 L242.68 424.04 L243.05 423.81 L243.43 423.56 L243.81 423.31 L244.18 423.06 L244.56 422.82 L244.93 422.56 L245.31 422.31 L245.68 422.07 L246.06 421.82 L246.44 421.59 L246.81 421.35 L247.19 421.12 L247.56 420.9 L247.94 420.69 L248.31 420.48 L248.69 420.28 L249.07 420.08 L249.44 419.89 L249.82 419.72 L250.19 419.54 L250.57 419.38 L250.95 419.22 L251.32 419.07 L251.7 418.93 L252.07 418.79 L252.45 418.67 L252.82 418.54 L253.2 418.43 L253.58 418.32 L253.95 418.22 L254.33 418.12 L254.7 418.03 L255.08 417.94 L255.46 417.86 L255.83 417.79 L256.21 417.72 L256.58 417.66 L256.96 417.6 L257.33 417.54 L257.71 417.5 L258.09 417.45 L258.46 417.41 L258.84 417.37 L259.21 417.34 L259.59 417.31 L259.96 417.29 L260.34 417.27 L260.72 417.25 L261.09 417.24 L261.47 417.23 L261.84 417.23 L262.22 417.22 L262.6 417.22 L262.97 417.23 L263.35 417.23 L263.72 417.24 L264.1 417.25 L264.47 417.27 L264.85 417.29 L265.23 417.31 L265.6 417.33 L265.98 417.35 L266.35 417.38 L266.73 417.41 L267.11 417.44 L267.48 417.47 L267.86 417.51 L268.23 417.55 L268.61 417.59 L268.98 417.63 L269.36 417.67 L269.74 417.71 L270.11 417.76 L270.49 417.81 L270.86 417.85 L271.24 417.9 L271.61 417.96 L271.99 418.01 L272.37 418.06 L272.74 418.12 L273.12 418.17 L273.49 418.23 L273.87 418.29 L274.25 418.35 L274.62 418.41 L275 418.47 L275.37 418.53 L275.75 418.59 L276.12 418.66 L276.5 418.72 L276.88 418.79 L277.25 418.85 L277.63 418.92 L278 418.98 L278.38 419.05 L278.76 419.12 L279.13 419.19 L279.51 419.26 L279.88 419.33 L280.26 419.39 L280.63 419.46 L281.01 419.53 L281.39 419.61 L281.76 419.68 L282.14 419.75 L282.51 419.82 L282.89 419.89 L283.26 419.96 L283.64 420.03 L284.02 420.1 L284.39 420.18 L284.77 420.25 L285.14 420.32 L285.52 420.39 L285.9 420.46 L286.27 420.54 L286.65 420.61 L287.02 420.68 L287.4 420.75 L287.77 420.82 L288.15 420.9 L288.53 420.97 L288.9 421.04 L289.28 421.11 L289.65 421.18 L290.03 421.25 L290.41 421.33 L290.78 421.4 L291.16 421.47 L291.53 421.54 L291.91 421.61 L292.28 421.68 L292.66 421.75 L293.04 421.82 L293.41 421.89 L293.79 421.96 L294.16 422.02 L294.54 422.09 L294.91 422.16 L295.29 422.23 L295.67 422.3 L296.04 422.36 L296.42 422.43 L296.79 422.5 L297.17 422.56 L297.55 422.63 L297.92 422.69 L298.3 422.76 L298.67 422.83 L299.05 422.89 L299.42 422.95 L299.8 423.02 L300.18 423.08 L300.55 423.14 L300.93 423.21 L301.3 423.27 L301.68 423.33 L302.06 423.39 L302.43 423.45 L302.81 423.51 L303.18 423.57 L303.56 423.63 L303.93 423.69 L304.31 423.75 L304.69 423.81 L305.06 423.87 L305.44 423.93 L305.81 423.99 L306.19 424.04 L306.56 424.1 L306.94 424.16 L307.32 424.21 L307.69 424.27 L308.07 424.32 L308.44 424.38 L308.82 424.43 L309.2 424.48 L309.57 424.54 L309.95 424.59 L310.32 424.64 L310.7 424.69 L311.07 424.75 L311.45 424.8 L311.83 424.85 L312.2 424.9 L312.58 424.95 L312.95 425 L313.33 425.05 L313.71 425.09 L314.08 425.14 L314.46 425.19 L314.83 425.24 L315.21 425.28 L315.58 425.33 L315.96 425.38 L316.34 425.42 L316.71 425.47 L317.09 425.51 L317.46 425.56 L317.84 425.6 L318.21 425.65 L318.59 425.69 L318.97 425.73 L319.34 425.77 L319.72 425.82 L320.09 425.86 L320.47 425.9 L320.85 425.94 L321.22 425.98 L321.6 426.02 L321.97 426.06 L322.35 426.1 L322.72 426.14 L323.1 426.17 L323.48 426.21 L323.85 426.25 L324.23 426.28 L324.6 426.31 L324.98 426.34 L325.36 426.37 L325.73 426.39 L326.11 426.41 L326.48 426.43 L326.86 426.44 L327.23 426.45 L327.61 426.45 L327.99 426.45 L328.36 426.43 L328.74 426.41 L329.11 426.38 L329.49 426.34 L329.86 426.29 L330.24 426.22 L330.62 426.14 L330.99 426.05 L331.37 425.94 L331.74 425.82 L332.12 425.69 L332.5 425.54 L332.87 425.38 L333.25 425.21 L333.62 425.02 L334 424.82 L334.37 424.61 L334.75 424.39 L335.13 424.16 L335.5 423.93 L335.88 423.69 L336.25 423.44 L336.63 423.19 L337.01 422.94" fill="none" stroke="#000" stroke-width="2.9" stroke-linejoin="round" stroke-linecap="round" />
<path d="M36.74 398.09 L37.11 398.2 L37.49 398.3 L37.86 398.4 L38.24 398.51 L38.61 398.61 L38.99 398.72 L39.37 398.82 L39.74 398.93 L40.12 399.03 L40.49 399.14 L40.87 399.24 L41.25 399.35 L41.62 399.45 L42 399.56 L42.37 399.66 L42.75 399.77 L43.12 399.87 L43.5 399.98 L43.88 400.08 L44.25 400.19 L44.63 400.29 L45 400.4 L45.38 400.5 L45.76 400.61 L46.13 400.71 L46.51 400.82 L46.88 400.92 L47.26 401.03 L47.63 401.13 L48.01 401.23 L48.39 401.34 L48.76 401.44 L49.14 401.54 L49.51 401.63 L49.89 401.73 L50.26 401.82 L50.64 401.92 L51.02 402 L51.39 402.09 L51.77 402.17 L52.14 402.25 L52.52 402.32 L52.9 402.39 L53.27 402.45 L53.65 402.51 L54.02 402.56 L54.4 402.6 L54.77 402.63 L55.15 402.65 L55.53 402.66 L55.9 402.67 L56.28 402.66 L56.65 402.64 L57.03 402.61 L57.41 402.56 L57.78 402.51 L58.16 402.43 L58.53 402.35 L58.91 402.25 L59.28 402.14 L59.66 402.02 L60.04 401.89 L60.41 401.74 L60.79 401.58 L61.16 401.42 L61.54 401.23 L61.91 401.05 L62.29 400.85 L62.67 400.65 L63.04 400.43 L63.42 400.21 L63.79 399.99 L64.17 399.76 L64.55 399.53 L64.92 399.3 L65.3 399.07 L65.67 398.83 L66.05 398.59 L66.42 398.36 L66.8 398.12 L67.18 397.89 L67.55 397.66 L67.93 397.43 L68.3 397.2 L68.68 396.98 L69.06 396.76 L69.43 396.55 L69.81 396.34 L70.18 396.13 L70.56 395.93 L70.93 395.73 L71.31 395.54 L71.69 395.35 L72.06 395.17 L72.44 394.99 L72.81 394.82 L73.19 394.65 L73.56 394.48 L73.94 394.32 L74.32 394.17 L74.69 394.02 L75.07 393.87 L75.44 393.73 L75.82 393.59 L76.2 393.46 L76.57 393.33 L76.95 393.21 L77.32 393.09 L77.7 392.97 L78.07 392.86 L78.45 392.75 L78.83 392.65 L79.2 392.55 L79.58 392.45 L79.95 392.36 L80.33 392.27 L80.71 392.19 L81.08 392.11 L81.46 392.03 L81.83 391.95 L82.21 391.88 L82.58 391.81 L82.96 391.75 L83.34 391.69 L83.71 391.63 L84.09 391.58 L84.46 391.53 L84.84 391.48 L85.21 391.43 L85.59 391.39 L85.97 391.35 L86.34 391.32 L86.72 391.28 L87.09 391.25 L87.47 391.22 L87.85 391.2 L88.22 391.18 L88.6 391.16 L88.97 391.14 L89.35 391.13 L89.72 391.11 L90.1 391.1 L90.48 391.1 L90.85 391.09 L91.23 391.09 L91.6 391.09 L91.98 391.09 L92.36 391.1 L92.73 391.1 L93.11 391.11 L93.48 391.12 L93.86 391.14 L94.23 391.15 L94.61 391.17 L94.99 391.19 L95.36 391.21 L95.74 391.24 L96.11 391.26 L96.49 391.29 L96.86 391.32 L97.24 391.35 L97.62 391.38 L97.99 391.42 L98.37 391.45 L98.74 391.49 L99.12 391.53 L99.5 391.57 L99.87 391.61 L100.25 391.66 L100.62 391.7 L101 391.75 L101.37 391.8 L101.75 391.85 L102.13 391.9 L102.5 391.96 L102.88 392.01 L103.25 392.07 L103.63 392.12 L104.01 392.18 L104.38 392.24 L104.76 392.3 L105.13 392.37 L105.51 392.43 L105.88 392.5 L106.26 392.56 L106.64 392.63 L107.01 392.7 L107.39 392.77 L107.76 392.84 L108.14 392.91 L108.51 392.98 L108.89 393.05 L109.27 393.13 L109.64 393.2 L110.02 393.28 L110.39 393.36 L110.77 393.44 L111.15 393.52 L111.52 393.6 L111.9 393.68 L112.27 393.76 L112.65 393.84 L113.02 393.93 L113.4 394.01 L113.78 394.09 L114.15 394.18 L114.53 394.27 L114.9 394.35 L115.28 394.44 L115.66 394.53 L116.03 394.62 L116.41 394.71 L116.78 394.8 L117.16 394.89 L117.53 394.98 L117.91 395.07 L118.29 395.17 L118.66 395.26 L119.04 395.35 L119.41 395.45 L119.79 395.54 L120.16 395.64 L120.54 395.73 L120.92 395.83 L121.29 395.93 L121.67 396.02 L122.04 396.12 L122.42 396.22 L122.8 396.32 L123.17 396.42 L123.55 396.52 L123.92 396.62 L124.3 396.72 L124.67 396.82 L125.05 396.92 L125.43 397.02 L125.8 397.12 L126.18 397.22 L126.55 397.32 L126.93 397.42 L127.31 397.53 L127.68 397.63 L128.06 397.73 L128.43 397.83 L128.81 397.94 L129.18 398.04 L129.56 398.14 L129.94 398.25 L130.31 398.35 L130.69 398.45 L131.06 398.56 L131.44 398.66 L131.81 398.77 L132.19 398.87 L132.57 398.98 L132.94 399.08 L133.32 399.19 L133.69 399.29 L134.07 399.4 L134.45 399.5 L134.82 399.61 L135.2 399.71 L135.57 399.82 L135.95 399.92 L136.32 400.03 L136.7 400.13 L137.08 400.24 L137.45 400.35 L137.83 400.45 L138.2 400.56 L138.58 400.66 L138.96 400.77 L139.33 400.87 L139.71 400.97 L140.08 401.08 L140.46 401.18 L140.83 401.28 L141.21 401.38 L141.59 401.48 L141.96 401.58 L142.34 401.68 L142.71 401.78 L143.09 401.87 L143.46 401.96 L143.84 402.05 L144.22 402.13 L144.59 402.21 L144.97 402.29 L145.34 402.36 L145.72 402.42 L146.1 402.48 L146.47 402.53 L146.85 402.58 L147.22 402.61 L147.6 402.64 L147.97 402.66 L148.35 402.67 L148.73 402.66 L149.1 402.65 L149.48 402.62 L149.85 402.59 L150.23 402.53 L150.61 402.47 L150.98 402.4 L151.36 402.3 L151.73 402.2 L152.11 402.08 L152.48 401.96 L152.86 401.82 L153.24 401.67 L153.61 401.5 L153.99 401.33 L154.36 401.14 L154.74 400.95 L155.11 400.75 L155.49 400.54 L155.87 400.33 L156.24 400.1 L156.62 399.88 L156.99 399.65 L157.37 399.42 L157.75 399.18 L158.12 398.95 L158.5 398.71 L158.87 398.48 L159.25 398.24 L159.62 398.01 L160 397.77 L160.38 397.54 L160.75 397.32 L161.13 397.09 L161.5 396.87 L161.88 396.66 L162.26 396.44 L162.63 396.24 L163.01 396.03 L163.38 395.83 L163.76 395.64 L164.13 395.45 L164.51 395.26 L164.89 395.08 L165.26 394.9 L165.64 394.73 L166.01 394.57 L166.39 394.4 L166.76 394.25 L167.14 394.09 L167.52 393.95 L167.89 393.8 L168.27 393.66 L168.64 393.53 L169.02 393.4 L169.4 393.27 L169.77 393.15 L170.15 393.03 L170.52 392.92 L170.9 392.81 L171.27 392.7 L171.65 392.6 L172.03 392.5 L172.4 392.41 L172.78 392.32 L173.15 392.23 L173.53 392.15 L173.91 392.07 L174.28 391.99 L174.66 391.92 L175.03 391.85 L175.41 391.78 L175.78 391.72 L176.16 391.66 L176.54 391.6 L176.91 391.55 L177.29 391.5 L177.66 391.46 L178.04 391.41 L178.41 391.37 L178.79 391.33 L179.17 391.3 L179.54 391.27 L179.92 391.24 L180.29 391.21 L180.67 391.19 L181.05 391.17 L181.42 391.15 L181.8 391.13 L182.17 391.12 L182.55 391.11 L182.92 391.1 L183.3 391.09 L183.68 391.09 L184.05 391.09 L184.43 391.09 L184.8 391.09 L185.18 391.1 L185.56 391.11 L185.93 391.12 L186.31 391.13 L186.68 391.15 L187.06 391.16 L187.43 391.18 L187.81 391.2 L188.19 391.22 L188.56 391.25 L188.94 391.27 L189.31 391.3 L189.69 391.33 L190.06 391.36 L190.44 391.4 L190.82 391.43 L191.19 391.47 L191.57 391.51 L191.94 391.55 L192.32 391.59 L192.7 391.64 L193.07 391.68 L193.45 391.73 L193.82 391.78 L194.2 391.82 L194.57 391.88 L194.95 391.93 L195.33 391.98 L195.7 392.04 L196.08 392.09 L196.45 392.15 L196.83 392.21 L197.21 392.27 L197.58 392.33 L197.96 392.4 L198.33 392.46 L198.71 392.53 L199.08 392.59 L199.46 392.66 L199.84 392.73 L200.21 392.8 L200.59 392.87 L200.96 392.94 L201.34 393.02 L201.71 393.09 L202.09 393.17 L202.47 393.24 L202.84 393.32 L203.22 393.4 L203.59 393.48 L203.97 393.56 L204.35 393.64 L204.72 393.72 L205.1 393.8 L205.47 393.88 L205.85 393.97 L206.22 394.05 L206.6 394.14 L206.98 394.22 L207.35 394.31 L207.73 394.4 L208.1 394.48 L208.48 394.57 L208.86 394.66 L209.23 394.75 L209.61 394.84 L209.98 394.94 L210.36 395.03 L210.73 395.12 L211.11 395.21 L211.49 395.31 L211.86 395.4 L212.24 395.49 L212.61 395.59 L212.99 395.69 L213.36 395.78 L213.74 395.88 L214.12 395.97 L214.49 396.07 L214.87 396.17 L215.24 396.27 L215.62 396.37 L216 396.47 L216.37 396.57 L216.75 396.66 L217.12 396.76 L217.5 396.87 L217.87 396.97 L218.25 397.07 L218.63 397.17 L219 397.27 L219.38 397.37 L219.75 397.47 L220.13 397.58 L220.51 397.68 L220.88 397.78 L221.26 397.88 L221.63 397.99 L222.01 398.09 L222.38 398.19 L222.76 398.3 L223.14 398.4 L223.51 398.51 L223.89 398.61 L224.26 398.71 L224.64 398.82 L225.01 398.92 L225.39 399.03 L225.77 399.13 L226.14 399.24 L226.52 399.34 L226.89 399.45 L227.27 399.55 L227.65 399.66 L228.02 399.76 L228.4 399.87 L228.77 399.97 L229.15 400.08 L229.52 400.19 L229.9 400.29 L230.28 400.4 L230.65 400.5 L231.03 400.61 L231.4 400.71 L231.78 400.82 L232.16 400.92 L232.53 401.03 L232.91 401.13 L233.28 401.23 L233.66 401.33 L234.03 401.43 L234.41 401.53 L234.79 401.63 L235.16 401.73 L235.54 401.82 L235.91 401.91 L236.29 402 L236.66 402.09 L237.04 402.17 L237.42 402.25 L237.79 402.32 L238.17 402.39 L238.54 402.45 L238.92 402.51 L239.3 402.56 L239.67 402.6 L240.05 402.63 L240.42 402.65 L240.8 402.66 L241.17 402.67 L241.55 402.66 L241.93 402.64 L242.3 402.61 L242.68 402.56 L243.05 402.51 L243.43 402.43 L243.81 402.35 L244.18 402.25 L244.56 402.15 L244.93 402.02 L245.31 401.89 L245.68 401.75 L246.06 401.58 L246.44 401.42 L246.81 401.24 L247.19 401.05 L247.56 400.85 L247.94 400.65 L248.31 400.44 L248.69 400.22 L249.07 400 L249.44 399.77 L249.82 399.54 L250.19 399.3 L250.57 399.07 L250.95 398.83 L251.32 398.6 L251.7 398.36 L252.07 398.13 L252.45 397.89 L252.82 397.66 L253.2 397.43 L253.58 397.21 L253.95 396.99 L254.33 396.77 L254.7 396.55 L255.08 396.34 L255.46 396.14 L255.83 395.93 L256.21 395.74 L256.58 395.54 L256.96 395.36 L257.33 395.17 L257.71 394.99 L258.09 394.82 L258.46 394.65 L258.84 394.49 L259.21 394.33 L259.59 394.17 L259.96 394.02 L260.34 393.87 L260.72 393.73 L261.09 393.6 L261.47 393.46 L261.84 393.34 L262.22 393.21 L262.6 393.09 L262.97 392.97 L263.35 392.86 L263.72 392.76 L264.1 392.65 L264.47 392.55 L264.85 392.45 L265.23 392.36 L265.6 392.27 L265.98 392.19 L266.35 392.11 L266.73 392.03 L267.11 391.95 L267.48 391.88 L267.86 391.82 L268.23 391.75 L268.61 391.69 L268.98 391.63 L269.36 391.58 L269.74 391.53 L270.11 391.48 L270.49 391.43 L270.86 391.39 L271.24 391.35 L271.61 391.32 L271.99 391.28 L272.37 391.25 L272.74 391.22 L273.12 391.2 L273.49 391.18 L273.87 391.16 L274.25 391.14 L274.62 391.13 L275 391.11 L275.37 391.1 L275.75 391.1 L276.12 391.09 L276.5 391.09 L276.88 391.09 L277.25 391.09 L277.63 391.1 L278 391.1 L278.38 391.11 L278.76 391.12 L279.13 391.14 L279.51 391.15 L279.88 391.17 L280.26 391.19 L280.63 391.21 L281.01 391.24 L281.39 391.26 L281.76 391.29 L282.14 391.32 L282.51 391.35 L282.89 391.38 L283.26 391.42 L283.64 391.45 L284.02 391.49 L284.39 391.53 L284.77 391.57 L285.14 391.61 L285.52 391.66 L285.9 391.7 L286.27 391.75 L286.65 391.8 L287.02 391.85 L287.4 391.9 L287.77 391.96 L288.15 392.01 L288.53 392.07 L288.9 392.12 L289.28 392.18 L289.65 392.24 L290.03 392.3 L290.41 392.37 L290.78 392.43 L291.16 392.49 L291.53 392.56 L291.91 392.63 L292.28 392.7 L292.66 392.77 L293.04 392.84 L293.41 392.91 L293.79 392.98 L294.16 393.05 L294.54 393.13 L294.91 393.2 L295.29 393.28 L295.67 393.36 L296.04 393.44 L296.42 393.51 L296.79 393.59 L297.17 393.68 L297.55 393.76 L297.92 393.84 L298.3 393.92 L298.67 394.01 L299.05 394.09 L299.42 394.18 L299.8 394.26 L300.18 394.35 L300.55 394.44 L300.93 394.53 L301.3 394.62 L301.68 394.71 L302.06 394.8 L302.43 394.89 L302.81 394.98 L303.18 395.07 L303.56 395.17 L303.93 395.26 L304.31 395.35 L304.69 395.45 L305.06 395.54 L305.44 395.64 L305.81 395.73 L306.19 395.83 L306.56 395.93 L306.94 396.02 L307.32 396.12 L307.69 396.22 L308.07 396.32 L308.44 396.42 L308.82 396.51 L309.2 396.61 L309.57 396.71 L309.95 396.81 L310.32 396.91 L310.7 397.02 L311.07 397.12 L311.45 397.22 L311.83 397.32 L312.2 397.42 L312.58 397.52 L312.95 397.63 L313.33 397.73 L313.71 397.83 L314.08 397.93 L314.46 398.04 L314.83 398.14 L315.21 398.24 L315.58 398.35 L315.96 398.45 L316.34 398.56 L316.71 398.66 L317.09 398.77 L317.46 398.87 L317.84 398.97 L318.21 399.08 L318.59 399.18 L318.97 399.29 L319.34 399.39 L319.72 399.5 L320.09 399.61 L320.47 399.71 L320.85 399.82 L321.22 399.92 L321.6 400.03 L321.97 400.13 L322.35 400.24 L322.72 400.34 L323.1 400.45 L323.48 400.55 L323.85 400.66 L324.23 400.76 L324.6 400.87 L324.98 400.97 L325.36 401.08 L325.73 401.18 L326.11 401.28 L326.48 401.38 L326.86 401.48 L327.23 401.58 L327.61 401.68 L327.99 401.77 L328.36 401.87 L328.74 401.96 L329.11 402.04 L329.49 402.13 L329.86 402.21 L330.24 402.29 L330.62 402.36 L330.99 402.42 L331.37 402.48 L331.74 402.53 L332.12 402.58 L332.5 402.61 L332.87 402.64 L333.25 402.66 L333.62 402.67 L334 402.66 L334.37 402.65 L334.75 402.62 L335.13 402.59 L335.5 402.54 L335.88 402.47 L336.25 402.4 L336.63 402.3 L337.01 402.21" fill="none" stroke="#006400" stroke-width="1.7" stroke-linejoin="round" stroke-linecap="round" />
<path d="M36.74 372.93 L37.11 373.04 L37.49 373.15 L37.86 373.26 L38.24 373.37 L38.61 373.48 L38.99 373.59 L39.37 373.7 L39.74 373.81 L40.12 373.93 L40.49 374.04 L40.87 374.15 L41.25 374.26 L41.62 374.37 L42 374.48 L42.37 374.6 L42.75 374.71 L43.12 374.82 L43.5 374.93 L43.88 375.05 L44.25 375.16 L44.63 375.27 L45 375.38 L45.38 375.5 L45.76 375.61 L46.13 375.72 L46.51 375.83 L46.88 375.94 L47.26 376.05 L47.63 376.16 L48.01 376.27 L48.39 376.37 L48.76 376.48 L49.14 376.58 L49.51 376.69 L49.89 376.78 L50.26 376.88 L50.64 376.97 L51.02 377.06 L51.39 377.15 L51.77 377.23 L52.14 377.31 L52.52 377.38 L52.9 377.44 L53.27 377.49 L53.65 377.54 L54.02 377.58 L54.4 377.61 L54.77 377.63 L55.15 377.64 L55.53 377.63 L55.9 377.62 L56.28 377.59 L56.65 377.55 L57.03 377.5 L57.41 377.43 L57.78 377.35 L58.16 377.25 L58.53 377.15 L58.91 377.02 L59.28 376.89 L59.66 376.74 L60.04 376.58 L60.41 376.41 L60.79 376.22 L61.16 376.03 L61.54 375.83 L61.91 375.62 L62.29 375.4 L62.67 375.18 L63.04 374.94 L63.42 374.71 L63.79 374.46 L64.17 374.22 L64.55 373.98 L64.92 373.73 L65.3 373.48 L65.67 373.23 L66.05 372.99 L66.42 372.74 L66.8 372.5 L67.18 372.26 L67.55 372.02 L67.93 371.79 L68.3 371.56 L68.68 371.33 L69.06 371.11 L69.43 370.89 L69.81 370.68 L70.18 370.47 L70.56 370.26 L70.93 370.06 L71.31 369.87 L71.69 369.68 L72.06 369.5 L72.44 369.32 L72.81 369.14 L73.19 368.97 L73.56 368.81 L73.94 368.64 L74.32 368.49 L74.69 368.34 L75.07 368.19 L75.44 368.05 L75.82 367.91 L76.2 367.78 L76.57 367.65 L76.95 367.53 L77.32 367.41 L77.7 367.29 L78.07 367.18 L78.45 367.07 L78.83 366.97 L79.2 366.87 L79.58 366.77 L79.95 366.68 L80.33 366.59 L80.71 366.5 L81.08 366.42 L81.46 366.35 L81.83 366.27 L82.21 366.2 L82.58 366.13 L82.96 366.07 L83.34 366.01 L83.71 365.95 L84.09 365.9 L84.46 365.85 L84.84 365.8 L85.21 365.76 L85.59 365.72 L85.97 365.68 L86.34 365.64 L86.72 365.61 L87.09 365.58 L87.47 365.56 L87.85 365.53 L88.22 365.51 L88.6 365.49 L88.97 365.48 L89.35 365.47 L89.72 365.46 L90.1 365.45 L90.48 365.44 L90.85 365.44 L91.23 365.44 L91.6 365.44 L91.98 365.45 L92.36 365.46 L92.73 365.46 L93.11 365.48 L93.48 365.49 L93.86 365.51 L94.23 365.52 L94.61 365.54 L94.99 365.57 L95.36 365.59 L95.74 365.62 L96.11 365.65 L96.49 365.68 L96.86 365.71 L97.24 365.74 L97.62 365.78 L97.99 365.82 L98.37 365.86 L98.74 365.9 L99.12 365.94 L99.5 365.98 L99.87 366.03 L100.25 366.08 L100.62 366.13 L101 366.18 L101.37 366.23 L101.75 366.29 L102.13 366.34 L102.5 366.4 L102.88 366.46 L103.25 366.52 L103.63 366.58 L104.01 366.64 L104.38 366.71 L104.76 366.77 L105.13 366.84 L105.51 366.91 L105.88 366.98 L106.26 367.05 L106.64 367.12 L107.01 367.19 L107.39 367.26 L107.76 367.34 L108.14 367.42 L108.51 367.49 L108.89 367.57 L109.27 367.65 L109.64 367.73 L110.02 367.81 L110.39 367.9 L110.77 367.98 L111.15 368.06 L111.52 368.15 L111.9 368.23 L112.27 368.32 L112.65 368.41 L113.02 368.5 L113.4 368.59 L113.78 368.68 L114.15 368.77 L114.53 368.86 L114.9 368.95 L115.28 369.05 L115.66 369.14 L116.03 369.24 L116.41 369.33 L116.78 369.43 L117.16 369.52 L117.53 369.62 L117.91 369.72 L118.29 369.82 L118.66 369.92 L119.04 370.02 L119.41 370.12 L119.79 370.22 L120.16 370.32 L120.54 370.42 L120.92 370.52 L121.29 370.63 L121.67 370.73 L122.04 370.83 L122.42 370.94 L122.8 371.04 L123.17 371.15 L123.55 371.25 L123.92 371.36 L124.3 371.46 L124.67 371.57 L125.05 371.68 L125.43 371.78 L125.8 371.89 L126.18 372 L126.55 372.11 L126.93 372.22 L127.31 372.32 L127.68 372.43 L128.06 372.54 L128.43 372.65 L128.81 372.76 L129.18 372.87 L129.56 372.98 L129.94 373.09 L130.31 373.2 L130.69 373.31 L131.06 373.42 L131.44 373.53 L131.81 373.65 L132.19 373.76 L132.57 373.87 L132.94 373.98 L133.32 374.09 L133.69 374.2 L134.07 374.32 L134.45 374.43 L134.82 374.54 L135.2 374.65 L135.57 374.76 L135.95 374.88 L136.32 374.99 L136.7 375.1 L137.08 375.21 L137.45 375.33 L137.83 375.44 L138.2 375.55 L138.58 375.66 L138.96 375.77 L139.33 375.88 L139.71 375.99 L140.08 376.1 L140.46 376.21 L140.83 376.32 L141.21 376.43 L141.59 376.53 L141.96 376.63 L142.34 376.73 L142.71 376.83 L143.09 376.93 L143.46 377.02 L143.84 377.11 L144.22 377.19 L144.59 377.27 L144.97 377.34 L145.34 377.41 L145.72 377.47 L146.1 377.52 L146.47 377.56 L146.85 377.6 L147.22 377.62 L147.6 377.64 L147.97 377.64 L148.35 377.63 L148.73 377.61 L149.1 377.58 L149.48 377.53 L149.85 377.47 L150.23 377.39 L150.61 377.31 L150.98 377.2 L151.36 377.09 L151.73 376.96 L152.11 376.82 L152.48 376.67 L152.86 376.5 L153.24 376.32 L153.61 376.13 L153.99 375.94 L154.36 375.73 L154.74 375.51 L155.11 375.29 L155.49 375.06 L155.87 374.83 L156.24 374.59 L156.62 374.35 L156.99 374.1 L157.37 373.86 L157.75 373.61 L158.12 373.36 L158.5 373.11 L158.87 372.87 L159.25 372.62 L159.62 372.38 L160 372.14 L160.38 371.91 L160.75 371.67 L161.13 371.45 L161.5 371.22 L161.88 371 L162.26 370.78 L162.63 370.57 L163.01 370.37 L163.38 370.17 L163.76 369.97 L164.13 369.78 L164.51 369.59 L164.89 369.41 L165.26 369.23 L165.64 369.06 L166.01 368.89 L166.39 368.73 L166.76 368.57 L167.14 368.41 L167.52 368.27 L167.89 368.12 L168.27 367.98 L168.64 367.85 L169.02 367.72 L169.4 367.59 L169.77 367.47 L170.15 367.35 L170.52 367.23 L170.9 367.12 L171.27 367.02 L171.65 366.92 L172.03 366.82 L172.4 366.72 L172.78 366.63 L173.15 366.55 L173.53 366.46 L173.91 366.38 L174.28 366.31 L174.66 366.24 L175.03 366.17 L175.41 366.1 L175.78 366.04 L176.16 365.98 L176.54 365.93 L176.91 365.88 L177.29 365.83 L177.66 365.78 L178.04 365.74 L178.41 365.7 L178.79 365.66 L179.17 365.63 L179.54 365.6 L179.92 365.57 L180.29 365.55 L180.67 365.52 L181.05 365.5 L181.42 365.49 L181.8 365.47 L182.17 365.46 L182.55 365.45 L182.92 365.45 L183.3 365.44 L183.68 365.44 L184.05 365.44 L184.43 365.45 L184.8 365.45 L185.18 365.46 L185.56 365.47 L185.93 365.48 L186.31 365.5 L186.68 365.51 L187.06 365.53 L187.43 365.55 L187.81 365.58 L188.19 365.6 L188.56 365.63 L188.94 365.66 L189.31 365.69 L189.69 365.72 L190.06 365.76 L190.44 365.8 L190.82 365.83 L191.19 365.88 L191.57 365.92 L191.94 365.96 L192.32 366.01 L192.7 366.05 L193.07 366.1 L193.45 366.15 L193.82 366.2 L194.2 366.26 L194.57 366.31 L194.95 366.37 L195.33 366.43 L195.7 366.49 L196.08 366.55 L196.45 366.61 L196.83 366.67 L197.21 366.74 L197.58 366.8 L197.96 366.87 L198.33 366.94 L198.71 367.01 L199.08 367.08 L199.46 367.15 L199.84 367.23 L200.21 367.3 L200.59 367.38 L200.96 367.45 L201.34 367.53 L201.71 367.61 L202.09 367.69 L202.47 367.77 L202.84 367.85 L203.22 367.94 L203.59 368.02 L203.97 368.1 L204.35 368.19 L204.72 368.28 L205.1 368.36 L205.47 368.45 L205.85 368.54 L206.22 368.63 L206.6 368.72 L206.98 368.81 L207.35 368.91 L207.73 369 L208.1 369.09 L208.48 369.19 L208.86 369.28 L209.23 369.38 L209.61 369.47 L209.98 369.57 L210.36 369.67 L210.73 369.77 L211.11 369.87 L211.49 369.97 L211.86 370.07 L212.24 370.17 L212.61 370.27 L212.99 370.37 L213.36 370.47 L213.74 370.57 L214.12 370.68 L214.49 370.78 L214.87 370.88 L215.24 370.99 L215.62 371.09 L216 371.2 L216.37 371.3 L216.75 371.41 L217.12 371.52 L217.5 371.62 L217.87 371.73 L218.25 371.84 L218.63 371.94 L219 372.05 L219.38 372.16 L219.75 372.27 L220.13 372.38 L220.51 372.49 L220.88 372.6 L221.26 372.71 L221.63 372.82 L222.01 372.93 L222.38 373.04 L222.76 373.15 L223.14 373.26 L223.51 373.37 L223.89 373.48 L224.26 373.59 L224.64 373.7 L225.01 373.81 L225.39 373.92 L225.77 374.04 L226.14 374.15 L226.52 374.26 L226.89 374.37 L227.27 374.48 L227.65 374.59 L228.02 374.71 L228.4 374.82 L228.77 374.93 L229.15 375.04 L229.52 375.16 L229.9 375.27 L230.28 375.38 L230.65 375.49 L231.03 375.6 L231.4 375.72 L231.78 375.83 L232.16 375.94 L232.53 376.05 L232.91 376.16 L233.28 376.27 L233.66 376.37 L234.03 376.48 L234.41 376.58 L234.79 376.68 L235.16 376.78 L235.54 376.88 L235.91 376.97 L236.29 377.06 L236.66 377.15 L237.04 377.23 L237.42 377.3 L237.79 377.37 L238.17 377.44 L238.54 377.49 L238.92 377.54 L239.3 377.58 L239.67 377.61 L240.05 377.63 L240.42 377.64 L240.8 377.63 L241.17 377.62 L241.55 377.59 L241.93 377.55 L242.3 377.5 L242.68 377.43 L243.05 377.36 L243.43 377.26 L243.81 377.15 L244.18 377.03 L244.56 376.89 L244.93 376.74 L245.31 376.58 L245.68 376.41 L246.06 376.23 L246.44 376.04 L246.81 375.83 L247.19 375.63 L247.56 375.4 L247.94 375.18 L248.31 374.94 L248.69 374.71 L249.07 374.47 L249.44 374.23 L249.82 373.98 L250.19 373.73 L250.57 373.49 L250.95 373.24 L251.32 372.99 L251.7 372.75 L252.07 372.5 L252.45 372.26 L252.82 372.03 L253.2 371.79 L253.58 371.56 L253.95 371.33 L254.33 371.11 L254.7 370.89 L255.08 370.68 L255.46 370.47 L255.83 370.27 L256.21 370.07 L256.58 369.87 L256.96 369.68 L257.33 369.5 L257.71 369.32 L258.09 369.14 L258.46 368.97 L258.84 368.81 L259.21 368.65 L259.59 368.49 L259.96 368.34 L260.34 368.19 L260.72 368.05 L261.09 367.91 L261.47 367.78 L261.84 367.65 L262.22 367.53 L262.6 367.41 L262.97 367.29 L263.35 367.18 L263.72 367.07 L264.1 366.97 L264.47 366.87 L264.85 366.77 L265.23 366.68 L265.6 366.59 L265.98 366.51 L266.35 366.42 L266.73 366.35 L267.11 366.27 L267.48 366.2 L267.86 366.14 L268.23 366.07 L268.61 366.01 L268.98 365.95 L269.36 365.9 L269.74 365.85 L270.11 365.8 L270.49 365.76 L270.86 365.72 L271.24 365.68 L271.61 365.65 L271.99 365.61 L272.37 365.58 L272.74 365.56 L273.12 365.53 L273.49 365.51 L273.87 365.5 L274.25 365.48 L274.62 365.47 L275 365.46 L275.37 365.45 L275.75 365.44 L276.12 365.44 L276.5 365.44 L276.88 365.44 L277.25 365.45 L277.63 365.46 L278 365.46 L278.38 365.48 L278.76 365.49 L279.13 365.51 L279.51 365.52 L279.88 365.54 L280.26 365.57 L280.63 365.59 L281.01 365.62 L281.39 365.64 L281.76 365.68 L282.14 365.71 L282.51 365.74 L282.89 365.78 L283.26 365.81 L283.64 365.85 L284.02 365.9 L284.39 365.94 L284.77 365.98 L285.14 366.03 L285.52 366.08 L285.9 366.13 L286.27 366.18 L286.65 366.23 L287.02 366.28 L287.4 366.34 L287.77 366.4 L288.15 366.46 L288.53 366.52 L288.9 366.58 L289.28 366.64 L289.65 366.7 L290.03 366.77 L290.41 366.84 L290.78 366.91 L291.16 366.97 L291.53 367.04 L291.91 367.12 L292.28 367.19 L292.66 367.26 L293.04 367.34 L293.41 367.41 L293.79 367.49 L294.16 367.57 L294.54 367.65 L294.91 367.73 L295.29 367.81 L295.67 367.89 L296.04 367.98 L296.42 368.06 L296.79 368.15 L297.17 368.23 L297.55 368.32 L297.92 368.41 L298.3 368.5 L298.67 368.59 L299.05 368.68 L299.42 368.77 L299.8 368.86 L300.18 368.95 L300.55 369.04 L300.93 369.14 L301.3 369.23 L301.68 369.33 L302.06 369.42 L302.43 369.52 L302.81 369.62 L303.18 369.72 L303.56 369.82 L303.93 369.91 L304.31 370.01 L304.69 370.11 L305.06 370.22 L305.44 370.32 L305.81 370.42 L306.19 370.52 L306.56 370.62 L306.94 370.73 L307.32 370.83 L307.69 370.93 L308.07 371.04 L308.44 371.14 L308.82 371.25 L309.2 371.35 L309.57 371.46 L309.95 371.57 L310.32 371.67 L310.7 371.78 L311.07 371.89 L311.45 372 L311.83 372.1 L312.2 372.21 L312.58 372.32 L312.95 372.43 L313.33 372.54 L313.71 372.65 L314.08 372.76 L314.46 372.87 L314.83 372.98 L315.21 373.09 L315.58 373.2 L315.96 373.31 L316.34 373.42 L316.71 373.53 L317.09 373.64 L317.46 373.76 L317.84 373.87 L318.21 373.98 L318.59 374.09 L318.97 374.2 L319.34 374.31 L319.72 374.43 L320.09 374.54 L320.47 374.65 L320.85 374.76 L321.22 374.87 L321.6 374.99 L321.97 375.1 L322.35 375.21 L322.72 375.32 L323.1 375.44 L323.48 375.55 L323.85 375.66 L324.23 375.77 L324.6 375.88 L324.98 375.99 L325.36 376.1 L325.73 376.21 L326.11 376.32 L326.48 376.42 L326.86 376.53 L327.23 376.63 L327.61 376.73 L327.99 376.83 L328.36 376.93 L328.74 377.02 L329.11 377.1 L329.49 377.19 L329.86 377.27 L330.24 377.34 L330.62 377.41 L330.99 377.47 L331.37 377.52 L331.74 377.56 L332.12 377.6 L332.5 377.62 L332.87 377.64 L333.25 377.64 L333.62 377.63 L334 377.61 L334.37 377.58 L334.75 377.53 L335.13 377.47 L335.5 377.39 L335.88 377.31 L336.25 377.21 L336.63 377.09 L337.01 376.96" fill="none" stroke="#0000ff" stroke-width="1.7" stroke-linejoin="round" stroke-linecap="round" />
<path d="M36.74 386.02 L37.11 386.13 L37.49 386.24 L37.86 386.35 L38.24 386.47 L38.61 386.58 L38.99 386.69 L39.37 386.8 L39.74 386.91 L40.12 387.03 L40.49 387.14 L40.87 387.25 L41.25 387.37 L41.62 387.48 L42 387.59 L42.37 387.71 L42.75 387.82 L43.12 387.93 L43.5 388.05 L43.88 388.16 L44.25 388.27 L44.63 388.39 L45 388.5 L45.38 388.62 L45.76 388.73 L46.13 388.85 L46.51 388.96 L46.88 389.07 L47.26 389.19 L47.63 389.3 L48.01 389.41 L48.39 389.53 L48.76 389.64 L49.14 389.75 L49.51 389.85 L49.89 389.96 L50.26 390.07 L50.64 390.17 L51.02 390.27 L51.39 390.36 L51.77 390.45 L52.14 390.54 L52.52 390.62 L52.9 390.69 L53.27 390.76 L53.65 390.81 L54.02 390.86 L54.4 390.9 L54.77 390.93 L55.15 390.95 L55.53 390.94 L55.9 390.93 L56.28 390.91 L56.65 390.87 L57.03 390.81 L57.41 390.74 L57.78 390.65 L58.16 390.55 L58.53 390.43 L58.91 390.3 L59.28 390.15 L59.66 389.98 L60.04 389.81 L60.41 389.62 L60.79 389.42 L61.16 389.21 L61.54 388.99 L61.91 388.76 L62.29 388.53 L62.67 388.28 L63.04 388.04 L63.42 387.79 L63.79 387.54 L64.17 387.29 L64.55 387.03 L64.92 386.78 L65.3 386.53 L65.67 386.28 L66.05 386.03 L66.42 385.78 L66.8 385.54 L67.18 385.3 L67.55 385.07 L67.93 384.84 L68.3 384.61 L68.68 384.39 L69.06 384.18 L69.43 383.97 L69.81 383.76 L70.18 383.56 L70.56 383.36 L70.93 383.17 L71.31 382.98 L71.69 382.8 L72.06 382.62 L72.44 382.45 L72.81 382.28 L73.19 382.12 L73.56 381.96 L73.94 381.8 L74.32 381.65 L74.69 381.51 L75.07 381.37 L75.44 381.23 L75.82 381.1 L76.2 380.97 L76.57 380.85 L76.95 380.73 L77.32 380.61 L77.7 380.5 L78.07 380.39 L78.45 380.28 L78.83 380.18 L79.2 380.09 L79.58 379.99 L79.95 379.9 L80.33 379.82 L80.71 379.73 L81.08 379.65 L81.46 379.58 L81.83 379.51 L82.21 379.44 L82.58 379.37 L82.96 379.31 L83.34 379.25 L83.71 379.19 L84.09 379.14 L84.46 379.09 L84.84 379.04 L85.21 379 L85.59 378.96 L85.97 378.92 L86.34 378.89 L86.72 378.85 L87.09 378.82 L87.47 378.8 L87.85 378.77 L88.22 378.75 L88.6 378.73 L88.97 378.72 L89.35 378.7 L89.72 378.69 L90.1 378.68 L90.48 378.68 L90.85 378.67 L91.23 378.67 L91.6 378.67 L91.98 378.68 L92.36 378.68 L92.73 378.69 L93.11 378.7 L93.48 378.71 L93.86 378.73 L94.23 378.74 L94.61 378.76 L94.99 378.78 L95.36 378.8 L95.74 378.83 L96.11 378.85 L96.49 378.88 L96.86 378.91 L97.24 378.94 L97.62 378.98 L97.99 379.01 L98.37 379.05 L98.74 379.09 L99.12 379.13 L99.5 379.17 L99.87 379.22 L100.25 379.26 L100.62 379.31 L101 379.36 L101.37 379.41 L101.75 379.46 L102.13 379.52 L102.5 379.57 L102.88 379.63 L103.25 379.69 L103.63 379.74 L104.01 379.81 L104.38 379.87 L104.76 379.93 L105.13 380 L105.51 380.06 L105.88 380.13 L106.26 380.2 L106.64 380.27 L107.01 380.34 L107.39 380.41 L107.76 380.48 L108.14 380.56 L108.51 380.63 L108.89 380.71 L109.27 380.79 L109.64 380.86 L110.02 380.94 L110.39 381.02 L110.77 381.11 L111.15 381.19 L111.52 381.27 L111.9 381.36 L112.27 381.44 L112.65 381.53 L113.02 381.62 L113.4 381.7 L113.78 381.79 L114.15 381.88 L114.53 381.97 L114.9 382.06 L115.28 382.16 L115.66 382.25 L116.03 382.34 L116.41 382.44 L116.78 382.53 L117.16 382.63 L117.53 382.72 L117.91 382.82 L118.29 382.92 L118.66 383.02 L119.04 383.11 L119.41 383.21 L119.79 383.31 L120.16 383.41 L120.54 383.52 L120.92 383.62 L121.29 383.72 L121.67 383.82 L122.04 383.93 L122.42 384.03 L122.8 384.13 L123.17 384.24 L123.55 384.34 L123.92 384.45 L124.3 384.55 L124.67 384.66 L125.05 384.77 L125.43 384.87 L125.8 384.98 L126.18 385.09 L126.55 385.2 L126.93 385.31 L127.31 385.42 L127.68 385.52 L128.06 385.63 L128.43 385.74 L128.81 385.85 L129.18 385.96 L129.56 386.08 L129.94 386.19 L130.31 386.3 L130.69 386.41 L131.06 386.52 L131.44 386.63 L131.81 386.74 L132.19 386.86 L132.57 386.97 L132.94 387.08 L133.32 387.19 L133.69 387.31 L134.07 387.42 L134.45 387.53 L134.82 387.65 L135.2 387.76 L135.57 387.88 L135.95 387.99 L136.32 388.1 L136.7 388.22 L137.08 388.33 L137.45 388.45 L137.83 388.56 L138.2 388.67 L138.58 388.79 L138.96 388.9 L139.33 389.02 L139.71 389.13 L140.08 389.24 L140.46 389.36 L140.83 389.47 L141.21 389.58 L141.59 389.69 L141.96 389.8 L142.34 389.91 L142.71 390.01 L143.09 390.12 L143.46 390.22 L143.84 390.31 L144.22 390.41 L144.59 390.49 L144.97 390.58 L145.34 390.66 L145.72 390.72 L146.1 390.79 L146.47 390.84 L146.85 390.88 L147.22 390.92 L147.6 390.94 L147.97 390.95 L148.35 390.94 L148.73 390.92 L149.1 390.89 L149.48 390.84 L149.85 390.78 L150.23 390.7 L150.61 390.6 L150.98 390.49 L151.36 390.37 L151.73 390.23 L152.11 390.07 L152.48 389.9 L152.86 389.72 L153.24 389.53 L153.61 389.32 L153.99 389.1 L154.36 388.88 L154.74 388.65 L155.11 388.41 L155.49 388.16 L155.87 387.92 L156.24 387.67 L156.62 387.41 L156.99 387.16 L157.37 386.91 L157.75 386.65 L158.12 386.4 L158.5 386.15 L158.87 385.91 L159.25 385.66 L159.62 385.42 L160 385.19 L160.38 384.96 L160.75 384.73 L161.13 384.5 L161.5 384.29 L161.88 384.07 L162.26 383.86 L162.63 383.66 L163.01 383.46 L163.38 383.27 L163.76 383.08 L164.13 382.89 L164.51 382.71 L164.89 382.54 L165.26 382.37 L165.64 382.2 L166.01 382.04 L166.39 381.88 L166.76 381.73 L167.14 381.58 L167.52 381.44 L167.89 381.3 L168.27 381.17 L168.64 381.03 L169.02 380.91 L169.4 380.79 L169.77 380.67 L170.15 380.55 L170.52 380.44 L170.9 380.34 L171.27 380.23 L171.65 380.13 L172.03 380.04 L172.4 379.95 L172.78 379.86 L173.15 379.77 L173.53 379.69 L173.91 379.62 L174.28 379.54 L174.66 379.47 L175.03 379.4 L175.41 379.34 L175.78 379.28 L176.16 379.22 L176.54 379.17 L176.91 379.12 L177.29 379.07 L177.66 379.02 L178.04 378.98 L178.41 378.94 L178.79 378.9 L179.17 378.87 L179.54 378.84 L179.92 378.81 L180.29 378.78 L180.67 378.76 L181.05 378.74 L181.42 378.72 L181.8 378.71 L182.17 378.7 L182.55 378.69 L182.92 378.68 L183.3 378.67 L183.68 378.67 L184.05 378.67 L184.43 378.67 L184.8 378.68 L185.18 378.68 L185.56 378.69 L185.93 378.7 L186.31 378.72 L186.68 378.73 L187.06 378.75 L187.43 378.77 L187.81 378.79 L188.19 378.81 L188.56 378.84 L188.94 378.87 L189.31 378.9 L189.69 378.93 L190.06 378.96 L190.44 379 L190.82 379.03 L191.19 379.07 L191.57 379.11 L191.94 379.15 L192.32 379.19 L192.7 379.24 L193.07 379.29 L193.45 379.33 L193.82 379.38 L194.2 379.44 L194.57 379.49 L194.95 379.54 L195.33 379.6 L195.7 379.66 L196.08 379.71 L196.45 379.77 L196.83 379.84 L197.21 379.9 L197.58 379.96 L197.96 380.03 L198.33 380.09 L198.71 380.16 L199.08 380.23 L199.46 380.3 L199.84 380.37 L200.21 380.45 L200.59 380.52 L200.96 380.59 L201.34 380.67 L201.71 380.75 L202.09 380.82 L202.47 380.9 L202.84 380.98 L203.22 381.06 L203.59 381.15 L203.97 381.23 L204.35 381.31 L204.72 381.4 L205.1 381.48 L205.47 381.57 L205.85 381.66 L206.22 381.75 L206.6 381.84 L206.98 381.93 L207.35 382.02 L207.73 382.11 L208.1 382.2 L208.48 382.29 L208.86 382.39 L209.23 382.48 L209.61 382.58 L209.98 382.67 L210.36 382.77 L210.73 382.87 L211.11 382.97 L211.49 383.06 L211.86 383.16 L212.24 383.26 L212.61 383.36 L212.99 383.46 L213.36 383.57 L213.74 383.67 L214.12 383.77 L214.49 383.87 L214.87 383.98 L215.24 384.08 L215.62 384.18 L216 384.29 L216.37 384.39 L216.75 384.5 L217.12 384.61 L217.5 384.71 L217.87 384.82 L218.25 384.93 L218.63 385.03 L219 385.14 L219.38 385.25 L219.75 385.36 L220.13 385.47 L220.51 385.58 L220.88 385.69 L221.26 385.8 L221.63 385.91 L222.01 386.02 L222.38 386.13 L222.76 386.24 L223.14 386.35 L223.51 386.46 L223.89 386.58 L224.26 386.69 L224.64 386.8 L225.01 386.91 L225.39 387.02 L225.77 387.14 L226.14 387.25 L226.52 387.36 L226.89 387.48 L227.27 387.59 L227.65 387.7 L228.02 387.82 L228.4 387.93 L228.77 388.04 L229.15 388.16 L229.52 388.27 L229.9 388.39 L230.28 388.5 L230.65 388.62 L231.03 388.73 L231.4 388.84 L231.78 388.96 L232.16 389.07 L232.53 389.19 L232.91 389.3 L233.28 389.41 L233.66 389.52 L234.03 389.63 L234.41 389.74 L234.79 389.85 L235.16 389.96 L235.54 390.06 L235.91 390.17 L236.29 390.26 L236.66 390.36 L237.04 390.45 L237.42 390.54 L237.79 390.62 L238.17 390.69 L238.54 390.76 L238.92 390.81 L239.3 390.86 L239.67 390.9 L240.05 390.93 L240.42 390.95 L240.8 390.94 L241.17 390.93 L241.55 390.91 L241.93 390.87 L242.3 390.82 L242.68 390.74 L243.05 390.65 L243.43 390.56 L243.81 390.43 L244.18 390.3 L244.56 390.15 L244.93 389.99 L245.31 389.81 L245.68 389.62 L246.06 389.42 L246.44 389.22 L246.81 388.99 L247.19 388.77 L247.56 388.53 L247.94 388.29 L248.31 388.04 L248.69 387.79 L249.07 387.54 L249.44 387.29 L249.82 387.04 L250.19 386.78 L250.57 386.53 L250.95 386.28 L251.32 386.03 L251.7 385.79 L252.07 385.55 L252.45 385.31 L252.82 385.07 L253.2 384.84 L253.58 384.62 L253.95 384.4 L254.33 384.18 L254.7 383.97 L255.08 383.76 L255.46 383.56 L255.83 383.36 L256.21 383.17 L256.58 382.98 L256.96 382.8 L257.33 382.62 L257.71 382.45 L258.09 382.28 L258.46 382.12 L258.84 381.96 L259.21 381.81 L259.59 381.66 L259.96 381.51 L260.34 381.37 L260.72 381.23 L261.09 381.1 L261.47 380.97 L261.84 380.85 L262.22 380.73 L262.6 380.61 L262.97 380.5 L263.35 380.39 L263.72 380.29 L264.1 380.18 L264.47 380.09 L264.85 379.99 L265.23 379.9 L265.6 379.82 L265.98 379.73 L266.35 379.66 L266.73 379.58 L267.11 379.51 L267.48 379.44 L267.86 379.37 L268.23 379.31 L268.61 379.25 L268.98 379.19 L269.36 379.14 L269.74 379.09 L270.11 379.04 L270.49 379 L270.86 378.96 L271.24 378.92 L271.61 378.89 L271.99 378.85 L272.37 378.82 L272.74 378.8 L273.12 378.77 L273.49 378.75 L273.87 378.73 L274.25 378.72 L274.62 378.7 L275 378.69 L275.37 378.68 L275.75 378.68 L276.12 378.67 L276.5 378.67 L276.88 378.67 L277.25 378.68 L277.63 378.68 L278 378.69 L278.38 378.7 L278.76 378.71 L279.13 378.72 L279.51 378.74 L279.88 378.76 L280.26 378.78 L280.63 378.8 L281.01 378.83 L281.39 378.85 L281.76 378.88 L282.14 378.91 L282.51 378.94 L282.89 378.98 L283.26 379.01 L283.64 379.05 L284.02 379.09 L284.39 379.13 L284.77 379.17 L285.14 379.22 L285.52 379.26 L285.9 379.31 L286.27 379.36 L286.65 379.41 L287.02 379.46 L287.4 379.51 L287.77 379.57 L288.15 379.63 L288.53 379.68 L288.9 379.74 L289.28 379.8 L289.65 379.87 L290.03 379.93 L290.41 379.99 L290.78 380.06 L291.16 380.13 L291.53 380.2 L291.91 380.27 L292.28 380.34 L292.66 380.41 L293.04 380.48 L293.41 380.56 L293.79 380.63 L294.16 380.71 L294.54 380.78 L294.91 380.86 L295.29 380.94 L295.67 381.02 L296.04 381.1 L296.42 381.19 L296.79 381.27 L297.17 381.36 L297.55 381.44 L297.92 381.53 L298.3 381.61 L298.67 381.7 L299.05 381.79 L299.42 381.88 L299.8 381.97 L300.18 382.06 L300.55 382.15 L300.93 382.25 L301.3 382.34 L301.68 382.43 L302.06 382.53 L302.43 382.62 L302.81 382.72 L303.18 382.82 L303.56 382.92 L303.93 383.01 L304.31 383.11 L304.69 383.21 L305.06 383.31 L305.44 383.41 L305.81 383.51 L306.19 383.62 L306.56 383.72 L306.94 383.82 L307.32 383.92 L307.69 384.03 L308.07 384.13 L308.44 384.24 L308.82 384.34 L309.2 384.45 L309.57 384.55 L309.95 384.66 L310.32 384.77 L310.7 384.87 L311.07 384.98 L311.45 385.09 L311.83 385.2 L312.2 385.3 L312.58 385.41 L312.95 385.52 L313.33 385.63 L313.71 385.74 L314.08 385.85 L314.46 385.96 L314.83 386.07 L315.21 386.18 L315.58 386.3 L315.96 386.41 L316.34 386.52 L316.71 386.63 L317.09 386.74 L317.46 386.85 L317.84 386.97 L318.21 387.08 L318.59 387.19 L318.97 387.31 L319.34 387.42 L319.72 387.53 L320.09 387.65 L320.47 387.76 L320.85 387.87 L321.22 387.99 L321.6 388.1 L321.97 388.21 L322.35 388.33 L322.72 388.44 L323.1 388.56 L323.48 388.67 L323.85 388.79 L324.23 388.9 L324.6 389.01 L324.98 389.13 L325.36 389.24 L325.73 389.35 L326.11 389.47 L326.48 389.58 L326.86 389.69 L327.23 389.8 L327.61 389.91 L327.99 390.01 L328.36 390.11 L328.74 390.21 L329.11 390.31 L329.49 390.41 L329.86 390.49 L330.24 390.58 L330.62 390.65 L330.99 390.72 L331.37 390.79 L331.74 390.84 L332.12 390.88 L332.5 390.92 L332.87 390.94 L333.25 390.95 L333.62 390.94 L334 390.92 L334.37 390.89 L334.75 390.84 L335.13 390.78 L335.5 390.7 L335.88 390.61 L336.25 390.5 L336.63 390.37 L337.01 390.23" fill="none" stroke="#9900cc" stroke-width="1.7" stroke-linejoin="round" stroke-linecap="round" />
<path d="M36.74 345.17 L37.11 345.23 L37.49 345.29 L37.86 345.35 L38.24 345.41 L38.61 345.47 L38.99 345.53 L39.37 345.59 L39.74 345.65 L40.12 345.71 L40.49 345.77 L40.87 345.83 L41.25 345.89 L41.62 345.95 L42 346 L42.37 346.06 L42.75 346.12 L43.12 346.17 L43.5 346.23 L43.88 346.29 L44.25 346.34 L44.63 346.4 L45 346.45 L45.38 346.51 L45.76 346.56 L46.13 346.62 L46.51 346.67 L46.88 346.72 L47.26 346.78 L47.63 346.83 L48.01 346.88 L48.39 346.93 L48.76 346.98 L49.14 347.03 L49.51 347.07 L49.89 347.11 L50.26 347.16 L50.64 347.19 L51.02 347.23 L51.39 347.26 L51.77 347.28 L52.14 347.3 L52.52 347.31 L52.9 347.32 L53.27 347.31 L53.65 347.3 L54.02 347.27 L54.4 347.24 L54.77 347.19 L55.15 347.12 L55.53 347.05 L55.9 346.95 L56.28 346.85 L56.65 346.73 L57.03 346.59 L57.41 346.43 L57.78 346.27 L58.16 346.09 L58.53 345.89 L58.91 345.69 L59.28 345.47 L59.66 345.24 L60.04 345.01 L60.41 344.77 L60.79 344.53 L61.16 344.28 L61.54 344.03 L61.91 343.78 L62.29 343.53 L62.67 343.28 L63.04 343.03 L63.42 342.79 L63.79 342.55 L64.17 342.32 L64.55 342.09 L64.92 341.87 L65.3 341.65 L65.67 341.45 L66.05 341.24 L66.42 341.05 L66.8 340.86 L67.18 340.68 L67.55 340.5 L67.93 340.33 L68.3 340.17 L68.68 340.02 L69.06 339.87 L69.43 339.72 L69.81 339.59 L70.18 339.46 L70.56 339.33 L70.93 339.21 L71.31 339.1 L71.69 338.99 L72.06 338.89 L72.44 338.79 L72.81 338.7 L73.19 338.61 L73.56 338.53 L73.94 338.45 L74.32 338.38 L74.69 338.31 L75.07 338.25 L75.44 338.19 L75.82 338.13 L76.2 338.08 L76.57 338.03 L76.95 337.99 L77.32 337.95 L77.7 337.91 L78.07 337.88 L78.45 337.85 L78.83 337.82 L79.2 337.8 L79.58 337.78 L79.95 337.77 L80.33 337.75 L80.71 337.74 L81.08 337.74 L81.46 337.73 L81.83 337.73 L82.21 337.73 L82.58 337.73 L82.96 337.74 L83.34 337.75 L83.71 337.76 L84.09 337.77 L84.46 337.79 L84.84 337.81 L85.21 337.83 L85.59 337.85 L85.97 337.87 L86.34 337.9 L86.72 337.93 L87.09 337.96 L87.47 337.99 L87.85 338.02 L88.22 338.06 L88.6 338.09 L88.97 338.13 L89.35 338.17 L89.72 338.21 L90.1 338.25 L90.48 338.3 L90.85 338.34 L91.23 338.39 L91.6 338.44 L91.98 338.49 L92.36 338.54 L92.73 338.59 L93.11 338.64 L93.48 338.69 L93.86 338.75 L94.23 338.8 L94.61 338.86 L94.99 338.92 L95.36 338.97 L95.74 339.03 L96.11 339.09 L96.49 339.15 L96.86 339.21 L97.24 339.28 L97.62 339.34 L97.99 339.4 L98.37 339.47 L98.74 339.53 L99.12 339.6 L99.5 339.66 L99.87 339.73 L100.25 339.79 L100.62 339.86 L101 339.93 L101.37 340 L101.75 340.07 L102.13 340.13 L102.5 340.2 L102.88 340.27 L103.25 340.34 L103.63 340.41 L104.01 340.48 L104.38 340.55 L104.76 340.63 L105.13 340.7 L105.51 340.77 L105.88 340.84 L106.26 340.91 L106.64 340.98 L107.01 341.05 L107.39 341.13 L107.76 341.2 L108.14 341.27 L108.51 341.34 L108.89 341.42 L109.27 341.49 L109.64 341.56 L110.02 341.63 L110.39 341.7 L110.77 341.78 L111.15 341.85 L111.52 341.92 L111.9 341.99 L112.27 342.07 L112.65 342.14 L113.02 342.21 L113.4 342.28 L113.78 342.35 L114.15 342.43 L114.53 342.5 L114.9 342.57 L115.28 342.64 L115.66 342.71 L116.03 342.78 L116.41 342.85 L116.78 342.93 L117.16 343 L117.53 343.07 L117.91 343.14 L118.29 343.21 L118.66 343.28 L119.04 343.35 L119.41 343.42 L119.79 343.49 L120.16 343.55 L120.54 343.62 L120.92 343.69 L121.29 343.76 L121.67 343.83 L122.04 343.9 L122.42 343.96 L122.8 344.03 L123.17 344.1 L123.55 344.17 L123.92 344.23 L124.3 344.3 L124.67 344.36 L125.05 344.43 L125.43 344.5 L125.8 344.56 L126.18 344.63 L126.55 344.69 L126.93 344.75 L127.31 344.82 L127.68 344.88 L128.06 344.95 L128.43 345.01 L128.81 345.07 L129.18 345.13 L129.56 345.2 L129.94 345.26 L130.31 345.32 L130.69 345.38 L131.06 345.44 L131.44 345.5 L131.81 345.56 L132.19 345.62 L132.57 345.68 L132.94 345.74 L133.32 345.8 L133.69 345.86 L134.07 345.92 L134.45 345.97 L134.82 346.03 L135.2 346.09 L135.57 346.15 L135.95 346.2 L136.32 346.26 L136.7 346.31 L137.08 346.37 L137.45 346.43 L137.83 346.48 L138.2 346.53 L138.58 346.59 L138.96 346.64 L139.33 346.7 L139.71 346.75 L140.08 346.8 L140.46 346.85 L140.83 346.9 L141.21 346.95 L141.59 347 L141.96 347.05 L142.34 347.09 L142.71 347.13 L143.09 347.17 L143.46 347.21 L143.84 347.24 L144.22 347.27 L144.59 347.29 L144.97 347.31 L145.34 347.32 L145.72 347.32 L146.1 347.31 L146.47 347.29 L146.85 347.26 L147.22 347.21 L147.6 347.16 L147.97 347.09 L148.35 347 L148.73 346.91 L149.1 346.79 L149.48 346.66 L149.85 346.51 L150.23 346.36 L150.61 346.18 L150.98 345.99 L151.36 345.8 L151.73 345.58 L152.11 345.36 L152.48 345.13 L152.86 344.9 L153.24 344.65 L153.61 344.4 L153.99 344.16 L154.36 343.91 L154.74 343.65 L155.11 343.41 L155.49 343.16 L155.87 342.91 L156.24 342.67 L156.62 342.44 L156.99 342.21 L157.37 341.98 L157.75 341.76 L158.12 341.55 L158.5 341.35 L158.87 341.15 L159.25 340.95 L159.62 340.77 L160 340.59 L160.38 340.42 L160.75 340.25 L161.13 340.09 L161.5 339.94 L161.88 339.8 L162.26 339.66 L162.63 339.52 L163.01 339.39 L163.38 339.27 L163.76 339.16 L164.13 339.05 L164.51 338.94 L164.89 338.84 L165.26 338.75 L165.64 338.66 L166.01 338.57 L166.39 338.49 L166.76 338.42 L167.14 338.35 L167.52 338.28 L167.89 338.22 L168.27 338.16 L168.64 338.11 L169.02 338.06 L169.4 338.01 L169.77 337.97 L170.15 337.93 L170.52 337.9 L170.9 337.87 L171.27 337.84 L171.65 337.81 L172.03 337.79 L172.4 337.77 L172.78 337.76 L173.15 337.75 L173.53 337.74 L173.91 337.73 L174.28 337.73 L174.66 337.73 L175.03 337.73 L175.41 337.74 L175.78 337.74 L176.16 337.75 L176.54 337.77 L176.91 337.78 L177.29 337.8 L177.66 337.82 L178.04 337.84 L178.41 337.86 L178.79 337.89 L179.17 337.91 L179.54 337.94 L179.92 337.97 L180.29 338 L180.67 338.04 L181.05 338.07 L181.42 338.11 L181.8 338.15 L182.17 338.19 L182.55 338.23 L182.92 338.27 L183.3 338.32 L183.68 338.36 L184.05 338.41 L184.43 338.46 L184.8 338.51 L185.18 338.56 L185.56 338.61 L185.93 338.67 L186.31 338.72 L186.68 338.77 L187.06 338.83 L187.43 338.89 L187.81 338.94 L188.19 339 L188.56 339.06 L188.94 339.12 L189.31 339.18 L189.69 339.24 L190.06 339.31 L190.44 339.37 L190.82 339.43 L191.19 339.5 L191.57 339.56 L191.94 339.63 L192.32 339.69 L192.7 339.76 L193.07 339.83 L193.45 339.9 L193.82 339.96 L194.2 340.03 L194.57 340.1 L194.95 340.17 L195.33 340.24 L195.7 340.31 L196.08 340.38 L196.45 340.45 L196.83 340.52 L197.21 340.59 L197.58 340.66 L197.96 340.73 L198.33 340.8 L198.71 340.87 L199.08 340.95 L199.46 341.02 L199.84 341.09 L200.21 341.16 L200.59 341.23 L200.96 341.31 L201.34 341.38 L201.71 341.45 L202.09 341.52 L202.47 341.6 L202.84 341.67 L203.22 341.74 L203.59 341.81 L203.97 341.88 L204.35 341.96 L204.72 342.03 L205.1 342.1 L205.47 342.17 L205.85 342.25 L206.22 342.32 L206.6 342.39 L206.98 342.46 L207.35 342.53 L207.73 342.6 L208.1 342.68 L208.48 342.75 L208.86 342.82 L209.23 342.89 L209.61 342.96 L209.98 343.03 L210.36 343.1 L210.73 343.17 L211.11 343.24 L211.49 343.31 L211.86 343.38 L212.24 343.45 L212.61 343.52 L212.99 343.59 L213.36 343.66 L213.74 343.73 L214.12 343.79 L214.49 343.86 L214.87 343.93 L215.24 344 L215.62 344.06 L216 344.13 L216.37 344.2 L216.75 344.26 L217.12 344.33 L217.5 344.4 L217.87 344.46 L218.25 344.53 L218.63 344.59 L219 344.66 L219.38 344.72 L219.75 344.79 L220.13 344.85 L220.51 344.91 L220.88 344.98 L221.26 345.04 L221.63 345.1 L222.01 345.16 L222.38 345.23 L222.76 345.29 L223.14 345.35 L223.51 345.41 L223.89 345.47 L224.26 345.53 L224.64 345.59 L225.01 345.65 L225.39 345.71 L225.77 345.77 L226.14 345.83 L226.52 345.89 L226.89 345.94 L227.27 346 L227.65 346.06 L228.02 346.12 L228.4 346.17 L228.77 346.23 L229.15 346.29 L229.52 346.34 L229.9 346.4 L230.28 346.45 L230.65 346.51 L231.03 346.56 L231.4 346.62 L231.78 346.67 L232.16 346.72 L232.53 346.78 L232.91 346.83 L233.28 346.88 L233.66 346.93 L234.03 346.98 L234.41 347.02 L234.79 347.07 L235.16 347.11 L235.54 347.15 L235.91 347.19 L236.29 347.23 L236.66 347.26 L237.04 347.28 L237.42 347.3 L237.79 347.31 L238.17 347.32 L238.54 347.31 L238.92 347.3 L239.3 347.28 L239.67 347.24 L240.05 347.19 L240.42 347.13 L240.8 347.05 L241.17 346.96 L241.55 346.85 L241.93 346.73 L242.3 346.59 L242.68 346.44 L243.05 346.27 L243.43 346.09 L243.81 345.9 L244.18 345.69 L244.56 345.48 L244.93 345.25 L245.31 345.01 L245.68 344.78 L246.06 344.53 L246.44 344.28 L246.81 344.03 L247.19 343.78 L247.56 343.53 L247.94 343.28 L248.31 343.04 L248.69 342.8 L249.07 342.56 L249.44 342.32 L249.82 342.1 L250.19 341.87 L250.57 341.66 L250.95 341.45 L251.32 341.25 L251.7 341.05 L252.07 340.86 L252.45 340.68 L252.82 340.5 L253.2 340.34 L253.58 340.17 L253.95 340.02 L254.33 339.87 L254.7 339.73 L255.08 339.59 L255.46 339.46 L255.83 339.33 L256.21 339.22 L256.58 339.1 L256.96 338.99 L257.33 338.89 L257.71 338.79 L258.09 338.7 L258.46 338.61 L258.84 338.53 L259.21 338.45 L259.59 338.38 L259.96 338.31 L260.34 338.25 L260.72 338.19 L261.09 338.13 L261.47 338.08 L261.84 338.03 L262.22 337.99 L262.6 337.95 L262.97 337.91 L263.35 337.88 L263.72 337.85 L264.1 337.83 L264.47 337.8 L264.85 337.78 L265.23 337.77 L265.6 337.75 L265.98 337.74 L266.35 337.74 L266.73 337.73 L267.11 337.73 L267.48 337.73 L267.86 337.73 L268.23 337.74 L268.61 337.75 L268.98 337.76 L269.36 337.77 L269.74 337.79 L270.11 337.81 L270.49 337.83 L270.86 337.85 L271.24 337.87 L271.61 337.9 L271.99 337.93 L272.37 337.96 L272.74 337.99 L273.12 338.02 L273.49 338.06 L273.87 338.09 L274.25 338.13 L274.62 338.17 L275 338.21 L275.37 338.25 L275.75 338.3 L276.12 338.34 L276.5 338.39 L276.88 338.44 L277.25 338.48 L277.63 338.53 L278 338.59 L278.38 338.64 L278.76 338.69 L279.13 338.75 L279.51 338.8 L279.88 338.86 L280.26 338.91 L280.63 338.97 L281.01 339.03 L281.39 339.09 L281.76 339.15 L282.14 339.21 L282.51 339.28 L282.89 339.34 L283.26 339.4 L283.64 339.47 L284.02 339.53 L284.39 339.6 L284.77 339.66 L285.14 339.73 L285.52 339.79 L285.9 339.86 L286.27 339.93 L286.65 340 L287.02 340.06 L287.4 340.13 L287.77 340.2 L288.15 340.27 L288.53 340.34 L288.9 340.41 L289.28 340.48 L289.65 340.55 L290.03 340.62 L290.41 340.69 L290.78 340.77 L291.16 340.84 L291.53 340.91 L291.91 340.98 L292.28 341.05 L292.66 341.12 L293.04 341.2 L293.41 341.27 L293.79 341.34 L294.16 341.41 L294.54 341.49 L294.91 341.56 L295.29 341.63 L295.67 341.7 L296.04 341.78 L296.42 341.85 L296.79 341.92 L297.17 341.99 L297.55 342.06 L297.92 342.14 L298.3 342.21 L298.67 342.28 L299.05 342.35 L299.42 342.43 L299.8 342.5 L300.18 342.57 L300.55 342.64 L300.93 342.71 L301.3 342.78 L301.68 342.85 L302.06 342.92 L302.43 342.99 L302.81 343.07 L303.18 343.14 L303.56 343.21 L303.93 343.28 L304.31 343.35 L304.69 343.42 L305.06 343.48 L305.44 343.55 L305.81 343.62 L306.19 343.69 L306.56 343.76 L306.94 343.83 L307.32 343.9 L307.69 343.96 L308.07 344.03 L308.44 344.1 L308.82 344.16 L309.2 344.23 L309.57 344.3 L309.95 344.36 L310.32 344.43 L310.7 344.49 L311.07 344.56 L311.45 344.62 L311.83 344.69 L312.2 344.75 L312.58 344.82 L312.95 344.88 L313.33 344.94 L313.71 345.01 L314.08 345.07 L314.46 345.13 L314.83 345.19 L315.21 345.26 L315.58 345.32 L315.96 345.38 L316.34 345.44 L316.71 345.5 L317.09 345.56 L317.46 345.62 L317.84 345.68 L318.21 345.74 L318.59 345.8 L318.97 345.86 L319.34 345.92 L319.72 345.97 L320.09 346.03 L320.47 346.09 L320.85 346.14 L321.22 346.2 L321.6 346.26 L321.97 346.31 L322.35 346.37 L322.72 346.42 L323.1 346.48 L323.48 346.53 L323.85 346.59 L324.23 346.64 L324.6 346.7 L324.98 346.75 L325.36 346.8 L325.73 346.85 L326.11 346.9 L326.48 346.95 L326.86 347 L327.23 347.05 L327.61 347.09 L327.99 347.13 L328.36 347.17 L328.74 347.21 L329.11 347.24 L329.49 347.27 L329.86 347.29 L330.24 347.31 L330.62 347.32 L330.99 347.32 L331.37 347.31 L331.74 347.29 L332.12 347.26 L332.5 347.22 L332.87 347.16 L333.25 347.09 L333.62 347 L334 346.91 L334.37 346.79 L334.75 346.66 L335.13 346.52 L335.5 346.36 L335.88 346.18 L336.25 346 L336.63 345.8 L337.01 345.59" fill="none" stroke="#ff0000" stroke-width="1.7" stroke-linejoin="round" stroke-linecap="round" />
<line x1="36.7" y1="257.1" x2="36.7" y2="432.2" stroke="#888" stroke-width="1"/>
<line x1="34.5" y1="432.2" x2="36.7" y2="432.2" stroke="#888" stroke-width="0.8"/>
<text x="33.5" y="436.1" font-size="11.4" text-anchor="end" font-weight="normal" fill="#111" >0</text>
<line x1="34.5" y1="403.02" x2="36.7" y2="403.02" stroke="#888" stroke-width="0.8"/>
<text x="33.5" y="406.92" font-size="11.4" text-anchor="end" font-weight="normal" fill="#111" >5</text>
<line x1="34.5" y1="373.85" x2="36.7" y2="373.85" stroke="#888" stroke-width="0.8"/>
<text x="33.5" y="377.75" font-size="11.4" text-anchor="end" font-weight="normal" fill="#111" >10</text>
<line x1="34.5" y1="344.67" x2="36.7" y2="344.67" stroke="#888" stroke-width="0.8"/>
<text x="33.5" y="348.57" font-size="11.4" text-anchor="end" font-weight="normal" fill="#111" >15</text>
<line x1="34.5" y1="315.5" x2="36.7" y2="315.5" stroke="#888" stroke-width="0.8"/>
<text x="33.5" y="319.4" font-size="11.4" text-anchor="end" font-weight="normal" fill="#111" >20</text>
<line x1="34.5" y1="286.32" x2="36.7" y2="286.32" stroke="#888" stroke-width="0.8"/>
<text x="33.5" y="290.22" font-size="11.4" text-anchor="end" font-weight="normal" fill="#111" >25</text>
<line x1="34.5" y1="257.15" x2="36.7" y2="257.15" stroke="#888" stroke-width="0.8"/>
<text x="33.5" y="261.05" font-size="11.4" text-anchor="end" font-weight="normal" fill="#111" >30</text>
<line x1="36.8" y1="432.2" x2="336.3" y2="432.2" stroke="#444" stroke-width="1"/>
<line x1="48.2" y1="432.2" x2="48.2" y2="434.4" stroke="#444" stroke-width="0.8"/>
<text x="48.2" y="443.6" font-size="11.4" text-anchor="middle" font-weight="normal" fill="#111" >0</text>
<line x1="94.52" y1="432.2" x2="94.52" y2="434.4" stroke="#444" stroke-width="0.8"/>
<text x="94.52" y="443.6" font-size="11.4" text-anchor="middle" font-weight="normal" fill="#111" >4</text>
<line x1="140.84" y1="432.2" x2="140.84" y2="434.4" stroke="#444" stroke-width="0.8"/>
<text x="140.84" y="443.6" font-size="11.4" text-anchor="middle" font-weight="normal" fill="#111" >8</text>
<line x1="187.16" y1="432.2" x2="187.16" y2="434.4" stroke="#444" stroke-width="0.8"/>
<text x="187.16" y="443.6" font-size="11.4" text-anchor="middle" font-weight="normal" fill="#111" >12</text>
<line x1="233.48" y1="432.2" x2="233.48" y2="434.4" stroke="#444" stroke-width="0.8"/>
<text x="233.48" y="443.6" font-size="11.4" text-anchor="middle" font-weight="normal" fill="#111" >16</text>
<line x1="279.8" y1="432.2" x2="279.8" y2="434.4" stroke="#444" stroke-width="0.8"/>
<text x="279.8" y="443.6" font-size="11.4" text-anchor="middle" font-weight="normal" fill="#111" >20</text>
<line x1="326.12" y1="432.2" x2="326.12" y2="434.4" stroke="#444" stroke-width="0.8"/>
<text x="326.12" y="443.6" font-size="11.4" text-anchor="middle" font-weight="normal" fill="#111" >24</text>
<text x="186.4" y="455.6" font-size="11.7" text-anchor="middle" font-weight="normal" fill="#111" >Time in steady-state [h]</text>
<text x="17" y="344.9" font-size="11.65" text-anchor="middle" font-weight="normal" fill="#111" transform="rotate(-90 17.0 344.9)">Metformin plasma [µg/ml]</text>
<text x="35" y="251.9" font-size="19.4" text-anchor="start" font-weight="bold" fill="#000" >c</text>
<text x="58.4" y="251.1" font-size="13.25" text-anchor="start" font-weight="normal" fill="#111" >Metformin - 1000 mg po, tid</text>
<line x1="242.4" y1="266.7" x2="248.9" y2="266.7" stroke="#000" stroke-width="2.7" stroke-linecap="round"/>
<text x="256.5" y="270.2" font-size="9" text-anchor="start" font-weight="normal" fill="#111" >Healthy (1000 mg)</text>
<line x1="242.4" y1="276.75" x2="248.9" y2="276.75" stroke="#006400" stroke-width="1.8" stroke-linecap="round"/>
<text x="256.5" y="280.25" font-size="9" text-anchor="start" font-weight="normal" fill="#111" >CKD3A (1000 mg)</text>
<line x1="242.4" y1="286.8" x2="248.9" y2="286.8" stroke="#0000ff" stroke-width="1.8" stroke-linecap="round"/>
<text x="256.5" y="290.3" font-size="9" text-anchor="start" font-weight="normal" fill="#111" >CKD3B (1000 mg)</text>
<line x1="242.4" y1="296.85" x2="248.9" y2="296.85" stroke="#9900cc" stroke-width="1.8" stroke-linecap="round"/>
<text x="256.5" y="300.35" font-size="9" text-anchor="start" font-weight="normal" fill="#111" >CKD4 (1000 mg)</text>
<line x1="242.4" y1="306.9" x2="248.9" y2="306.9" stroke="#ff0000" stroke-width="1.8" stroke-linecap="round"/>
<text x="256.5" y="310.4" font-size="9" text-anchor="start" font-weight="normal" fill="#111" >CKD5 (1000 mg)</text>
<path d="M370.03 384.14 L370.54 384.55 L371.05 384.96 L371.56 385.37 L372.07 385.78 L372.58 386.18 L373.09 386.58 L373.6 386.99 L374.11 387.39 L374.62 387.79 L375.13 388.19 L375.64 388.58 L376.15 388.98 L376.66 389.36 L377.17 389.74 L377.68 390.12 L378.19 390.48 L378.71 390.82 L379.22 391.16 L379.73 391.47 L380.24 391.77 L380.75 392.05 L381.26 392.31 L381.77 392.55 L382.28 392.77 L382.79 392.98 L383.3 393.18 L383.81 393.38 L384.32 393.57 L384.83 393.76 L385.34 393.89 L385.85 393.92 L386.36 393.79 L386.87 393.42 L387.38 392.77 L387.89 391.77 L388.4 390.38 L388.91 388.68 L389.42 386.81 L389.93 384.91 L390.44 383.11 L390.95 381.44 L391.46 379.86 L391.97 378.33 L392.48 376.81 L392.99 375.25 L393.5 373.62 L394.01 371.88 L394.52 370.06 L395.03 368.19 L395.54 366.31 L396.06 364.46 L396.57 362.69 L397.08 361 L397.59 359.39 L398.1 357.85 L398.61 356.37 L399.12 354.94 L399.63 353.56 L400.14 352.21 L400.65 350.89 L401.16 349.6 L401.67 348.33 L402.18 347.08 L402.69 345.85 L403.2 344.64 L403.71 343.44 L404.22 342.27 L404.73 341.15 L405.24 340.11 L405.75 339.16 L406.26 338.32 L406.77 337.6 L407.28 336.99 L407.79 336.47 L408.3 336.03 L408.81 335.67 L409.32 335.37 L409.83 335.12 L410.34 334.92 L410.85 334.75 L411.36 334.61 L411.87 334.5 L412.38 334.43 L412.89 334.4 L413.41 334.42 L413.92 334.49 L414.43 334.61 L414.94 334.77 L415.45 334.97 L415.96 335.21 L416.47 335.48 L416.98 335.79 L417.49 336.12 L418 336.47 L418.51 336.84 L419.02 337.24 L419.53 337.65 L420.04 338.08 L420.55 338.53 L421.06 338.99 L421.57 339.47 L422.08 339.96 L422.59 340.46 L423.1 340.98 L423.61 341.5 L424.12 342.03 L424.63 342.57 L425.14 343.12 L425.65 343.67 L426.16 344.23 L426.67 344.8 L427.18 345.37 L427.69 345.95 L428.2 346.54 L428.71 347.12 L429.22 347.71 L429.73 348.31 L430.24 348.9 L430.76 349.5 L431.27 350.1 L431.78 350.71 L432.29 351.31 L432.8 351.91 L433.31 352.52 L433.82 353.12 L434.33 353.72 L434.84 354.32 L435.35 354.92 L435.86 355.52 L436.37 356.12 L436.88 356.71 L437.39 357.31 L437.9 357.9 L438.41 358.49 L438.92 359.07 L439.43 359.66 L439.94 360.24 L440.45 360.82 L440.96 361.39 L441.47 361.96 L441.98 362.53 L442.49 363.09 L443 363.65 L443.51 364.21 L444.02 364.76 L444.53 365.31 L445.04 365.85 L445.55 366.39 L446.06 366.93 L446.57 367.47 L447.08 368 L447.59 368.53 L448.11 369.05 L448.62 369.58 L449.13 370.1 L449.64 370.62 L450.15 371.14 L450.66 371.65 L451.17 372.17 L451.68 372.68 L452.19 373.19 L452.7 373.7 L453.21 374.2 L453.72 374.7 L454.23 375.2 L454.74 375.7 L455.25 376.2 L455.76 376.69 L456.27 377.17 L456.78 377.66 L457.29 378.14 L457.8 378.61 L458.31 379.08 L458.82 379.55 L459.33 380.01 L459.84 380.46 L460.35 380.91 L460.86 381.35 L461.37 381.79 L461.88 382.23 L462.39 382.66 L462.9 383.08 L463.41 383.5 L463.92 383.92 L464.43 384.34 L464.94 384.75 L465.46 385.16 L465.97 385.57 L466.48 385.97 L466.99 386.38 L467.5 386.78 L468.01 387.18 L468.52 387.58 L469.03 387.98 L469.54 388.38 L470.05 388.77 L470.56 389.16 L471.07 389.55 L471.58 389.92 L472.09 390.29 L472.6 390.64 L473.11 390.98 L473.62 391.31 L474.13 391.62 L474.64 391.91 L475.15 392.18 L475.66 392.43 L476.17 392.66 L476.68 392.87 L477.19 393.08 L477.7 393.28 L478.21 393.47 L478.72 393.66 L479.23 393.83 L479.74 393.93 L480.25 393.88 L480.76 393.64 L481.27 393.15 L481.78 392.33 L482.29 391.15 L482.81 389.59 L483.32 387.79 L483.83 385.89 L484.34 384.03 L484.85 382.3 L485.36 380.68 L485.87 379.12 L486.38 377.6 L486.89 376.07 L487.4 374.48 L487.91 372.8 L488.42 371.02 L488.93 369.17 L489.44 367.29 L489.95 365.42 L490.46 363.6 L490.97 361.87 L491.48 360.22 L491.99 358.64 L492.5 357.13 L493.01 355.68 L493.52 354.28 L494.03 352.91 L494.54 351.58 L495.05 350.27 L495.56 348.99 L496.07 347.73 L496.58 346.49 L497.09 345.27 L497.6 344.06 L498.11 342.87 L498.62 341.73 L499.13 340.64 L499.65 339.64 L500.16 338.74 L500.67 337.96 L501.18 337.29 L501.69 336.73 L502.2 336.25 L502.71 335.85 L503.22 335.52 L503.73 335.25 L504.24 335.02 L504.75 334.84 L505.26 334.68 L505.77 334.55 L506.28 334.46 L506.79 334.41 L507.3 334.4 L507.81 334.45 L508.32 334.54 L508.83 334.68 L509.34 334.86 L509.85 335.08 L510.36 335.34 L510.87 335.62 L511.38 335.94 L511.89 336.28 L512.4 336.65 L512.91 337.03 L513.42 337.43 L513.93 337.86 L514.44 338.3 L514.95 338.75 L515.46 339.22 L515.97 339.7 L516.48 340.2 L517 340.71 L517.51 341.23 L518.02 341.75 L518.53 342.29 L519.04 342.83 L519.55 343.38 L520.06 343.94 L520.57 344.51 L521.08 345.08 L521.59 345.65 L522.1 346.23 L522.61 346.82 L523.12 347.4 L523.63 348 L524.14 348.59 L524.65 349.19 L525.16 349.79 L525.67 350.39 L526.18 350.99 L526.69 351.6 L527.2 352.2 L527.71 352.81 L528.22 353.41 L528.73 354.01 L529.24 354.61 L529.75 355.21 L530.26 355.81 L530.77 356.41 L531.28 357 L531.79 357.59 L532.3 358.18 L532.81 358.77 L533.32 359.35 L533.83 359.94 L534.35 360.52 L534.86 361.09 L535.37 361.66 L535.88 362.23 L536.39 362.8 L536.9 363.36 L537.41 363.92 L537.92 364.47 L538.43 365.02 L538.94 365.57 L539.45 366.11 L539.96 366.65 L540.47 367.19 L540.98 367.72 L541.49 368.25 L542 368.78 L542.51 369.31 L543.02 369.83 L543.53 370.35 L544.04 370.87 L544.55 371.38 L545.06 371.9 L545.57 372.41 L546.08 372.92 L546.59 373.43 L547.1 373.94 L547.61 374.44 L548.12 374.94 L548.63 375.44 L549.14 375.94 L549.65 376.43 L550.16 376.92 L550.67 377.41 L551.18 377.89 L551.7 378.36 L552.21 378.84 L552.72 379.3 L553.23 379.77 L553.74 380.22 L554.25 380.68 L554.76 381.12 L555.27 381.56 L555.78 382 L556.29 382.43 L556.8 382.86 L557.31 383.29 L557.82 383.71 L558.33 384.12 L558.84 384.54 L559.35 384.95 L559.86 385.35 L560.37 385.76 L560.88 386.17 L561.39 386.57 L561.9 386.97 L562.41 387.37 L562.92 387.77 L563.43 388.17 L563.94 388.57 L564.45 388.96 L564.96 389.35 L565.47 389.73 L565.98 390.1 L566.49 390.46 L567 390.81 L567.51 391.14 L568.02 391.46 L568.53 391.76 L569.05 392.04 L569.56 392.3 L570.07 392.54 L570.58 392.76 L571.09 392.97 L571.6 393.17 L572.11 393.37 L572.62 393.56 L573.13 393.75 L573.64 393.89 L574.15 393.93 L574.66 393.79 L575.17 393.44 L575.68 392.8 L576.19 391.81 L576.7 390.44 L577.21 388.75 L577.72 386.89 L578.23 384.99 L578.74 383.18 L579.25 381.51 L579.76 379.93 L580.27 378.39 L580.78 376.87 L581.29 375.31 L581.8 373.69 L582.31 371.96 L582.82 370.14 L583.33 368.27 L583.84 366.39 L584.35 364.54 L584.86 362.76 L585.37 361.07 L585.88 359.45 L586.4 357.91 L586.91 356.43 L587.42 355 L587.93 353.62 L588.44 352.27 L588.95 350.95 L589.46 349.65 L589.97 348.38 L590.48 347.13 L590.99 345.9 L591.5 344.69 L592.01 343.49 L592.52 342.32 L593.03 341.2 L593.54 340.15 L594.05 339.19 L594.56 338.35 L595.07 337.63 L595.58 337.01 L596.09 336.49 L596.6 336.05 L597.11 335.68 L597.62 335.38 L598.13 335.13 L598.64 334.93 L599.15 334.76 L599.66 334.61 L600.17 334.5 L600.68 334.43 L601.19 334.4 L601.7 334.42 L602.21 334.49 L602.72 334.6 L603.23 334.76 L603.75 334.96 L604.26 335.2 L604.77 335.47 L605.28 335.77 L605.79 336.1 L606.3 336.45 L606.81 336.83 L607.32 337.22 L607.83 337.63 L608.34 338.07 L608.85 338.51 L609.36 338.97 L609.87 339.45 L610.38 339.94 L610.89 340.44 L611.4 340.96 L611.91 341.48 L612.42 342.01 L612.93 342.55 L613.44 343.1 L613.95 343.65 L614.46 344.21 L614.97 344.78 L615.48 345.35 L615.99 345.93 L616.5 346.51 L617.01 347.1 L617.52 347.69 L618.03 348.28 L618.54 348.88 L619.05 349.48 L619.56 350.08 L620.07 350.68 L620.59 351.28 L621.1 351.89 L621.61 352.49 L622.12 353.1 L622.63 353.7 L623.14 354.3 L623.65 354.9 L624.16 355.5 L624.67 356.1 L625.18 356.69 L625.69 357.28 L626.2 357.88 L626.71 358.46 L627.22 359.05 L627.73 359.63 L628.24 360.21 L628.75 360.79 L629.26 361.37 L629.77 361.94 L630.28 362.5 L630.79 363.07 L631.3 363.63 L631.81 364.18 L632.32 364.74 L632.83 365.28 L633.34 365.83 L633.85 366.37 L634.36 366.91 L634.87 367.44 L635.38 367.98 L635.89 368.51 L636.4 369.03 L636.91 369.56 L637.42 370.08 L637.94 370.6 L638.45 371.12 L638.96 371.63 L639.47 372.15 L639.98 372.66 L640.49 373.17 L641 373.68 L641.51 374.18 L642.02 374.68 L642.53 375.18 L643.04 375.68 L643.55 376.18 L644.06 376.67 L644.57 377.15 L645.08 377.64 L645.59 378.12 L646.1 378.59 L646.61 379.06 L647.12 379.53 L647.63 379.99 L648.14 380.44 L648.65 380.89 L649.16 381.34 L649.67 381.77 L650.18 382.21 L650.69 382.64 L651.2 383.06 L651.71 383.49 L652.22 383.91 L652.73 384.32 L653.24 384.73 L653.75 385.14 L654.26 385.55 L654.77 385.96 L655.29 386.36 L655.8 386.76 L656.31 387.16 L656.82 387.56 L657.33 387.96 L657.84 388.36 L658.35 388.76 L658.86 389.15 L659.37 389.53 L659.88 389.91 L660.39 390.27 L660.9 390.63 L661.41 390.97 L661.92 391.3 L662.43 391.61 L662.94 391.9 L663.45 392.17 L663.96 392.42 L664.47 392.65 L664.98 392.86 L665.49 393.07 L666 393.27 L666.51 393.46 L667.02 393.65 L667.53 393.83 L668.04 393.92 L668.55 393.89 L669.06 393.66 L669.57 393.17 L670.08 392.37 L670.59 391.2 L671.1 389.66 L671.61 387.87 L672.12 385.97 L672.64 384.1 L673.15 382.37 L673.66 380.74 L674.17 379.19 L674.68 377.66 L675.19 376.13 L675.7 374.55" fill="none" stroke="#000" stroke-width="3" stroke-linejoin="round" stroke-linecap="round" />
<path d="M370.03 373.98 L370.41 374.24 L370.8 374.5 L371.18 374.76 L371.56 375.02 L371.94 375.28 L372.33 375.54 L372.71 375.8 L373.09 376.05 L373.47 376.31 L373.86 376.56 L374.24 376.82 L374.62 377.07 L375 377.32 L375.39 377.57 L375.77 377.82 L376.15 378.07 L376.53 378.32 L376.92 378.56 L377.3 378.81 L377.68 379.05 L378.06 379.29 L378.45 379.53 L378.83 379.77 L379.21 380 L379.59 380.23 L379.98 380.46 L380.36 380.68 L380.74 380.9 L381.12 381.11 L381.51 381.32 L381.89 381.52 L382.27 381.71 L382.65 381.89 L383.04 382.06 L383.42 382.22 L383.8 382.37 L384.18 382.5 L384.57 382.62 L384.95 382.72 L385.33 382.81 L385.72 382.86 L386.1 382.91 L386.48 382.91 L386.86 382.91 L387.25 382.86 L387.63 382.8 L388.01 382.68 L388.39 382.57 L388.78 382.38 L389.16 382.2 L389.54 381.94 L389.92 381.69 L390.31 381.36 L390.69 381.03 L391.07 380.63 L391.45 380.22 L391.84 379.75 L392.22 379.27 L392.6 378.75 L392.98 378.2 L393.37 377.61 L393.75 377.01 L394.13 376.37 L394.51 375.72 L394.9 375.04 L395.28 374.34 L395.66 373.64 L396.04 372.91 L396.43 372.19 L396.81 371.44 L397.19 370.71 L397.57 369.96 L397.96 369.22 L398.34 368.47 L398.72 367.74 L399.1 367 L399.49 366.28 L399.87 365.56 L400.25 364.87 L400.63 364.17 L401.02 363.5 L401.4 362.84 L401.78 362.19 L402.17 361.56 L402.55 360.95 L402.93 360.35 L403.31 359.77 L403.7 359.2 L404.08 358.66 L404.46 358.13 L404.84 357.62 L405.23 357.13 L405.61 356.65 L405.99 356.19 L406.37 355.75 L406.76 355.33 L407.14 354.92 L407.52 354.53 L407.9 354.16 L408.29 353.8 L408.67 353.46 L409.05 353.13 L409.43 352.82 L409.82 352.52 L410.2 352.24 L410.58 351.97 L410.96 351.72 L411.35 351.47 L411.73 351.25 L412.11 351.03 L412.49 350.83 L412.88 350.64 L413.26 350.47 L413.64 350.3 L414.02 350.15 L414.41 350.01 L414.79 349.88 L415.17 349.76 L415.55 349.65 L415.94 349.56 L416.32 349.47 L416.7 349.39 L417.09 349.33 L417.47 349.27 L417.85 349.22 L418.23 349.19 L418.62 349.16 L419 349.14 L419.38 349.13 L419.76 349.12 L420.15 349.13 L420.53 349.15 L420.91 349.17 L421.29 349.2 L421.68 349.23 L422.06 349.28 L422.44 349.33 L422.82 349.39 L423.21 349.46 L423.59 349.53 L423.97 349.61 L424.35 349.7 L424.74 349.79 L425.12 349.89 L425.5 349.99 L425.88 350.1 L426.27 350.22 L426.65 350.34 L427.03 350.47 L427.41 350.6 L427.8 350.74 L428.18 350.88 L428.56 351.03 L428.94 351.18 L429.33 351.34 L429.71 351.5 L430.09 351.67 L430.47 351.84 L430.86 352.01 L431.24 352.19 L431.62 352.37 L432.01 352.56 L432.39 352.75 L432.77 352.94 L433.15 353.14 L433.54 353.34 L433.92 353.54 L434.3 353.75 L434.68 353.96 L435.07 354.17 L435.45 354.38 L435.83 354.6 L436.21 354.82 L436.6 355.05 L436.98 355.27 L437.36 355.5 L437.74 355.73 L438.13 355.97 L438.51 356.2 L438.89 356.44 L439.27 356.68 L439.66 356.92 L440.04 357.17 L440.42 357.41 L440.8 357.66 L441.19 357.91 L441.57 358.16 L441.95 358.41 L442.33 358.67 L442.72 358.92 L443.1 359.18 L443.48 359.44 L443.86 359.69 L444.25 359.95 L444.63 360.22 L445.01 360.48 L445.39 360.74 L445.78 361.01 L446.16 361.27 L446.54 361.54 L446.92 361.8 L447.31 362.07 L447.69 362.34 L448.07 362.61 L448.46 362.88 L448.84 363.15 L449.22 363.42 L449.6 363.69 L449.99 363.96 L450.37 364.23 L450.75 364.5 L451.13 364.78 L451.52 365.05 L451.9 365.32 L452.28 365.59 L452.66 365.87 L453.05 366.14 L453.43 366.41 L453.81 366.68 L454.19 366.96 L454.58 367.23 L454.96 367.5 L455.34 367.78 L455.72 368.05 L456.11 368.32 L456.49 368.59 L456.87 368.86 L457.25 369.14 L457.64 369.41 L458.02 369.68 L458.4 369.95 L458.78 370.22 L459.17 370.49 L459.55 370.76 L459.93 371.03 L460.31 371.3 L460.7 371.56 L461.08 371.83 L461.46 372.1 L461.84 372.36 L462.23 372.63 L462.61 372.89 L462.99 373.16 L463.38 373.42 L463.76 373.68 L464.14 373.95 L464.52 374.21 L464.91 374.47 L465.29 374.73 L465.67 374.99 L466.05 375.25 L466.44 375.51 L466.82 375.76 L467.2 376.02 L467.58 376.27 L467.97 376.53 L468.35 376.78 L468.73 377.03 L469.11 377.29 L469.5 377.54 L469.88 377.79 L470.26 378.04 L470.64 378.29 L471.03 378.53 L471.41 378.78 L471.79 379.02 L472.17 379.26 L472.56 379.5 L472.94 379.74 L473.32 379.97 L473.7 380.2 L474.09 380.43 L474.47 380.65 L474.85 380.87 L475.23 381.09 L475.62 381.29 L476 381.49 L476.38 381.68 L476.76 381.87 L477.15 382.04 L477.53 382.2 L477.91 382.35 L478.29 382.49 L478.68 382.61 L479.06 382.71 L479.44 382.8 L479.83 382.86 L480.21 382.9 L480.59 382.91 L480.97 382.91 L481.36 382.87 L481.74 382.81 L482.12 382.7 L482.5 382.58 L482.89 382.41 L483.27 382.23 L483.65 381.97 L484.03 381.73 L484.42 381.4 L484.8 381.08 L485.18 380.68 L485.56 380.28 L485.95 379.81 L486.33 379.34 L486.71 378.81 L487.09 378.28 L487.48 377.69 L487.86 377.09 L488.24 376.45 L488.62 375.81 L489.01 375.13 L489.39 374.44 L489.77 373.73 L490.15 373.01 L490.54 372.28 L490.92 371.54 L491.3 370.8 L491.68 370.05 L492.07 369.31 L492.45 368.57 L492.83 367.83 L493.21 367.1 L493.6 366.38 L493.98 365.66 L494.36 364.96 L494.75 364.26 L495.13 363.59 L495.51 362.92 L495.89 362.27 L496.28 361.64 L496.66 361.02 L497.04 360.42 L497.42 359.84 L497.81 359.28 L498.19 358.73 L498.57 358.2 L498.95 357.69 L499.34 357.19 L499.72 356.71 L500.1 356.25 L500.48 355.81 L500.87 355.38 L501.25 354.97 L501.63 354.58 L502.01 354.21 L502.4 353.84 L502.78 353.5 L503.16 353.17 L503.54 352.86 L503.93 352.56 L504.31 352.27 L504.69 352 L505.07 351.75 L505.46 351.51 L505.84 351.28 L506.22 351.06 L506.6 350.86 L506.99 350.67 L507.37 350.49 L507.75 350.32 L508.13 350.17 L508.52 350.03 L508.9 349.9 L509.28 349.78 L509.67 349.67 L510.05 349.57 L510.43 349.48 L510.81 349.4 L511.2 349.34 L511.58 349.28 L511.96 349.23 L512.34 349.19 L512.73 349.16 L513.11 349.14 L513.49 349.13 L513.87 349.12 L514.26 349.13 L514.64 349.14 L515.02 349.16 L515.4 349.19 L515.79 349.23 L516.17 349.27 L516.55 349.33 L516.93 349.38 L517.32 349.45 L517.7 349.52 L518.08 349.6 L518.46 349.69 L518.85 349.78 L519.23 349.88 L519.61 349.98 L519.99 350.09 L520.38 350.2 L520.76 350.33 L521.14 350.45 L521.52 350.58 L521.91 350.72 L522.29 350.86 L522.67 351.01 L523.05 351.16 L523.44 351.32 L523.82 351.48 L524.2 351.64 L524.58 351.81 L524.97 351.99 L525.35 352.16 L525.73 352.35 L526.12 352.53 L526.5 352.72 L526.88 352.91 L527.26 353.11 L527.65 353.31 L528.03 353.51 L528.41 353.72 L528.79 353.93 L529.18 354.14 L529.56 354.36 L529.94 354.57 L530.32 354.8 L530.71 355.02 L531.09 355.25 L531.47 355.47 L531.85 355.7 L532.24 355.94 L532.62 356.17 L533 356.41 L533.38 356.65 L533.77 356.89 L534.15 357.14 L534.53 357.38 L534.91 357.63 L535.3 357.88 L535.68 358.13 L536.06 358.38 L536.44 358.63 L536.83 358.89 L537.21 359.14 L537.59 359.4 L537.97 359.66 L538.36 359.92 L538.74 360.18 L539.12 360.44 L539.5 360.71 L539.89 360.97 L540.27 361.24 L540.65 361.5 L541.04 361.77 L541.42 362.04 L541.8 362.3 L542.18 362.57 L542.57 362.84 L542.95 363.11 L543.33 363.38 L543.71 363.65 L544.1 363.92 L544.48 364.2 L544.86 364.47 L545.24 364.74 L545.63 365.01 L546.01 365.28 L546.39 365.56 L546.77 365.83 L547.16 366.1 L547.54 366.38 L547.92 366.65 L548.3 366.92 L548.69 367.19 L549.07 367.47 L549.45 367.74 L549.83 368.01 L550.22 368.29 L550.6 368.56 L550.98 368.83 L551.36 369.1 L551.75 369.37 L552.13 369.64 L552.51 369.91 L552.89 370.18 L553.28 370.45 L553.66 370.72 L554.04 370.99 L554.42 371.26 L554.81 371.53 L555.19 371.8 L555.57 372.06 L555.96 372.33 L556.34 372.59 L556.72 372.86 L557.1 373.12 L557.49 373.39 L557.87 373.65 L558.25 373.91 L558.63 374.17 L559.02 374.44 L559.4 374.7 L559.78 374.96 L560.16 375.21 L560.55 375.47 L560.93 375.73 L561.31 375.99 L561.69 376.24 L562.08 376.5 L562.46 376.75 L562.84 377 L563.22 377.25 L563.61 377.51 L563.99 377.76 L564.37 378 L564.75 378.25 L565.14 378.5 L565.52 378.75 L565.9 378.99 L566.28 379.23 L566.67 379.47 L567.05 379.71 L567.43 379.94 L567.81 380.17 L568.2 380.4 L568.58 380.63 L568.96 380.84 L569.34 381.06 L569.73 381.26 L570.11 381.47 L570.49 381.66 L570.87 381.85 L571.26 382.02 L571.64 382.19 L572.02 382.33 L572.41 382.47 L572.79 382.59 L573.17 382.7 L573.55 382.78 L573.94 382.85 L574.32 382.89 L574.7 382.91 L575.08 382.91 L575.47 382.87 L575.85 382.81 L576.23 382.72 L576.61 382.6 L577 382.43 L577.38 382.25 L577.76 382.01 L578.14 381.76 L578.53 381.44 L578.91 381.12 L579.29 380.73 L579.67 380.34 L580.06 379.87 L580.44 379.42 L580.82 378.88 L581.2 378.35 L581.59 377.76 L581.97 377.18 L582.35 376.54 L582.73 375.89 L583.12 375.21 L583.5 374.53 L583.88 373.82 L584.26 373.11 L584.65 372.37 L585.03 371.64 L585.41 370.9 L585.79 370.15 L586.18 369.41 L586.56 368.66 L586.94 367.93 L587.33 367.19 L587.71 366.47 L588.09 365.75 L588.47 365.05 L588.86 364.35 L589.24 363.67 L589.62 363.01 L590 362.36 L590.39 361.72 L590.77 361.1 L591.15 360.5 L591.53 359.92 L591.92 359.35 L592.3 358.8 L592.68 358.27 L593.06 357.75 L593.45 357.25 L593.83 356.77 L594.21 356.31 L594.59 355.87 L594.98 355.44 L595.36 355.03 L595.74 354.63 L596.12 354.25 L596.51 353.89 L596.89 353.54 L597.27 353.21 L597.65 352.9 L598.04 352.6 L598.42 352.31 L598.8 352.04 L599.18 351.78 L599.57 351.54 L599.95 351.31 L600.33 351.09 L600.71 350.88 L601.1 350.69 L601.48 350.51 L601.86 350.34 L602.25 350.19 L602.63 350.04 L603.01 349.91 L603.39 349.79 L603.78 349.68 L604.16 349.58 L604.54 349.49 L604.92 349.41 L605.31 349.34 L605.69 349.28 L606.07 349.24 L606.45 349.2 L606.84 349.16 L607.22 349.14 L607.6 349.13 L607.98 349.12 L608.37 349.13 L608.75 349.14 L609.13 349.16 L609.51 349.19 L609.9 349.22 L610.28 349.27 L610.66 349.32 L611.04 349.38 L611.43 349.44 L611.81 349.51 L612.19 349.59 L612.57 349.67 L612.96 349.77 L613.34 349.86 L613.72 349.97 L614.1 350.07 L614.49 350.19 L614.87 350.31 L615.25 350.44 L615.63 350.57 L616.02 350.7 L616.4 350.84 L616.78 350.99 L617.16 351.14 L617.55 351.3 L617.93 351.46 L618.31 351.62 L618.7 351.79 L619.08 351.96 L619.46 352.14 L619.84 352.32 L620.23 352.51 L620.61 352.7 L620.99 352.89 L621.37 353.08 L621.76 353.28 L622.14 353.49 L622.52 353.69 L622.9 353.9 L623.29 354.11 L623.67 354.33 L624.05 354.55 L624.43 354.77 L624.82 354.99 L625.2 355.22 L625.58 355.44 L625.96 355.67 L626.35 355.91 L626.73 356.14 L627.11 356.38 L627.49 356.62 L627.88 356.86 L628.26 357.1 L628.64 357.35 L629.02 357.6 L629.41 357.84 L629.79 358.09 L630.17 358.35 L630.55 358.6 L630.94 358.85 L631.32 359.11 L631.7 359.37 L632.08 359.63 L632.47 359.89 L632.85 360.15 L633.23 360.41 L633.62 360.67 L634 360.94 L634.38 361.2 L634.76 361.47 L635.15 361.73 L635.53 362 L635.91 362.27 L636.29 362.54 L636.68 362.81 L637.06 363.08 L637.44 363.35 L637.82 363.62 L638.21 363.89 L638.59 364.16 L638.97 364.43 L639.35 364.7 L639.74 364.98 L640.12 365.25 L640.5 365.52 L640.88 365.79 L641.27 366.07 L641.65 366.34 L642.03 366.61 L642.41 366.89 L642.8 367.16 L643.18 367.43 L643.56 367.7 L643.94 367.98 L644.33 368.25 L644.71 368.52 L645.09 368.79 L645.47 369.07 L645.86 369.34 L646.24 369.61 L646.62 369.88 L647 370.15 L647.39 370.42 L647.77 370.69 L648.15 370.96 L648.54 371.23 L648.92 371.49 L649.3 371.76 L649.68 372.03 L650.07 372.29 L650.45 372.56 L650.83 372.82 L651.21 373.09 L651.6 373.35 L651.98 373.62 L652.36 373.88 L652.74 374.14 L653.13 374.4 L653.51 374.66 L653.89 374.92 L654.27 375.18 L654.66 375.44 L655.04 375.7 L655.42 375.95 L655.8 376.21 L656.19 376.46 L656.57 376.72 L656.95 376.97 L657.33 377.22 L657.72 377.47 L658.1 377.72 L658.48 377.97 L658.86 378.22 L659.25 378.47 L659.63 378.71 L660.01 378.96 L660.39 379.2 L660.78 379.44 L661.16 379.68 L661.54 379.91 L661.92 380.14 L662.31 380.37 L662.69 380.6 L663.07 380.81 L663.45 381.03 L663.84 381.24 L664.22 381.44 L664.6 381.63 L664.99 381.82 L665.37 382 L665.75 382.17 L666.13 382.31 L666.52 382.46 L666.9 382.58 L667.28 382.69 L667.66 382.77 L668.05 382.85 L668.43 382.89 L668.81 382.91 L669.19 382.91 L669.58 382.88 L669.96 382.82 L670.34 382.73 L670.72 382.61 L671.11 382.46 L671.49 382.27 L671.87 382.04 L672.25 381.79 L672.64 381.48 L673.02 381.16 L673.4 380.78 L673.78 380.39 L674.17 379.93 L674.55 379.48 L674.93 378.95 L675.31 378.43 L675.7 377.84" fill="none" stroke="#006400" stroke-width="2.6" stroke-linejoin="round" stroke-linecap="round" />
<path d="M370.03 372.33 L370.41 372.54 L370.8 372.74 L371.18 372.95 L371.56 373.15 L371.94 373.36 L372.33 373.56 L372.71 373.76 L373.09 373.96 L373.47 374.16 L373.86 374.36 L374.24 374.56 L374.62 374.76 L375 374.96 L375.39 375.16 L375.77 375.36 L376.15 375.55 L376.53 375.75 L376.92 375.94 L377.3 376.14 L377.68 376.33 L378.06 376.52 L378.45 376.7 L378.83 376.89 L379.21 377.07 L379.59 377.26 L379.98 377.44 L380.36 377.61 L380.74 377.78 L381.12 377.95 L381.51 378.11 L381.89 378.27 L382.27 378.42 L382.65 378.56 L383.04 378.7 L383.42 378.83 L383.8 378.94 L384.18 379.05 L384.57 379.14 L384.95 379.22 L385.33 379.29 L385.72 379.33 L386.1 379.36 L386.48 379.37 L386.86 379.37 L387.25 379.33 L387.63 379.28 L388.01 379.19 L388.39 379.1 L388.78 378.95 L389.16 378.81 L389.54 378.6 L389.92 378.4 L390.31 378.14 L390.69 377.88 L391.07 377.57 L391.45 377.25 L391.84 376.88 L392.22 376.5 L392.6 376.09 L392.98 375.65 L393.37 375.19 L393.75 374.72 L394.13 374.22 L394.51 373.7 L394.9 373.17 L395.28 372.62 L395.66 372.06 L396.04 371.49 L396.43 370.92 L396.81 370.33 L397.19 369.75 L397.57 369.16 L397.96 368.58 L398.34 367.99 L398.72 367.41 L399.1 366.83 L399.49 366.27 L399.87 365.7 L400.25 365.15 L400.63 364.6 L401.02 364.07 L401.4 363.55 L401.78 363.04 L402.17 362.54 L402.55 362.06 L402.93 361.59 L403.31 361.13 L403.7 360.69 L404.08 360.26 L404.46 359.84 L404.84 359.44 L405.23 359.05 L405.61 358.68 L405.99 358.32 L406.37 357.97 L406.76 357.63 L407.14 357.31 L407.52 357.01 L407.9 356.71 L408.29 356.43 L408.67 356.16 L409.05 355.9 L409.43 355.66 L409.82 355.42 L410.2 355.2 L410.58 354.99 L410.96 354.79 L411.35 354.6 L411.73 354.42 L412.11 354.25 L412.49 354.09 L412.88 353.94 L413.26 353.8 L413.64 353.67 L414.02 353.55 L414.41 353.44 L414.79 353.34 L415.17 353.25 L415.55 353.16 L415.94 353.09 L416.32 353.02 L416.7 352.96 L417.09 352.91 L417.47 352.86 L417.85 352.82 L418.23 352.79 L418.62 352.77 L419 352.76 L419.38 352.75 L419.76 352.75 L420.15 352.75 L420.53 352.76 L420.91 352.78 L421.29 352.8 L421.68 352.83 L422.06 352.87 L422.44 352.91 L422.82 352.96 L423.21 353.01 L423.59 353.07 L423.97 353.13 L424.35 353.2 L424.74 353.27 L425.12 353.35 L425.5 353.43 L425.88 353.52 L426.27 353.61 L426.65 353.7 L427.03 353.8 L427.41 353.91 L427.8 354.02 L428.18 354.13 L428.56 354.25 L428.94 354.37 L429.33 354.49 L429.71 354.62 L430.09 354.75 L430.47 354.88 L430.86 355.02 L431.24 355.16 L431.62 355.3 L432.01 355.45 L432.39 355.6 L432.77 355.75 L433.15 355.91 L433.54 356.06 L433.92 356.22 L434.3 356.39 L434.68 356.55 L435.07 356.72 L435.45 356.89 L435.83 357.06 L436.21 357.24 L436.6 357.41 L436.98 357.59 L437.36 357.77 L437.74 357.95 L438.13 358.14 L438.51 358.32 L438.89 358.51 L439.27 358.7 L439.66 358.89 L440.04 359.08 L440.42 359.28 L440.8 359.47 L441.19 359.67 L441.57 359.86 L441.95 360.06 L442.33 360.26 L442.72 360.46 L443.1 360.67 L443.48 360.87 L443.86 361.07 L444.25 361.28 L444.63 361.48 L445.01 361.69 L445.39 361.9 L445.78 362.11 L446.16 362.32 L446.54 362.53 L446.92 362.74 L447.31 362.95 L447.69 363.16 L448.07 363.37 L448.46 363.58 L448.84 363.79 L449.22 364.01 L449.6 364.22 L449.99 364.43 L450.37 364.65 L450.75 364.86 L451.13 365.08 L451.52 365.29 L451.9 365.51 L452.28 365.72 L452.66 365.94 L453.05 366.15 L453.43 366.37 L453.81 366.58 L454.19 366.8 L454.58 367.01 L454.96 367.23 L455.34 367.44 L455.72 367.66 L456.11 367.87 L456.49 368.09 L456.87 368.3 L457.25 368.51 L457.64 368.73 L458.02 368.94 L458.4 369.15 L458.78 369.37 L459.17 369.58 L459.55 369.79 L459.93 370 L460.31 370.21 L460.7 370.43 L461.08 370.64 L461.46 370.85 L461.84 371.06 L462.23 371.27 L462.61 371.47 L462.99 371.68 L463.38 371.89 L463.76 372.1 L464.14 372.3 L464.52 372.51 L464.91 372.72 L465.29 372.92 L465.67 373.13 L466.05 373.33 L466.44 373.53 L466.82 373.73 L467.2 373.94 L467.58 374.14 L467.97 374.34 L468.35 374.54 L468.73 374.74 L469.11 374.94 L469.5 375.13 L469.88 375.33 L470.26 375.53 L470.64 375.72 L471.03 375.92 L471.41 376.11 L471.79 376.3 L472.17 376.49 L472.56 376.68 L472.94 376.87 L473.32 377.05 L473.7 377.23 L474.09 377.41 L474.47 377.59 L474.85 377.76 L475.23 377.93 L475.62 378.09 L476 378.25 L476.38 378.4 L476.76 378.55 L477.15 378.68 L477.53 378.81 L477.91 378.93 L478.29 379.04 L478.68 379.13 L479.06 379.21 L479.44 379.28 L479.83 379.33 L480.21 379.36 L480.59 379.37 L480.97 379.37 L481.36 379.33 L481.74 379.29 L482.12 379.2 L482.5 379.11 L482.89 378.97 L483.27 378.83 L483.65 378.63 L484.03 378.43 L484.42 378.18 L484.8 377.92 L485.18 377.61 L485.56 377.3 L485.95 376.93 L486.33 376.56 L486.71 376.14 L487.09 375.72 L487.48 375.25 L487.86 374.78 L488.24 374.28 L488.62 373.77 L489.01 373.23 L489.39 372.69 L489.77 372.13 L490.15 371.57 L490.54 370.99 L490.92 370.41 L491.3 369.83 L491.68 369.24 L492.07 368.65 L492.45 368.06 L492.83 367.49 L493.21 366.91 L493.6 366.34 L493.98 365.77 L494.36 365.22 L494.75 364.67 L495.13 364.14 L495.51 363.62 L495.89 363.11 L496.28 362.61 L496.66 362.12 L497.04 361.65 L497.42 361.19 L497.81 360.74 L498.19 360.31 L498.57 359.9 L498.95 359.49 L499.34 359.1 L499.72 358.73 L500.1 358.36 L500.48 358.01 L500.87 357.68 L501.25 357.35 L501.63 357.04 L502.01 356.75 L502.4 356.46 L502.78 356.19 L503.16 355.93 L503.54 355.69 L503.93 355.45 L504.31 355.23 L504.69 355.01 L505.07 354.81 L505.46 354.62 L505.84 354.44 L506.22 354.27 L506.6 354.11 L506.99 353.96 L507.37 353.82 L507.75 353.69 L508.13 353.57 L508.52 353.46 L508.9 353.35 L509.28 353.26 L509.67 353.17 L510.05 353.1 L510.43 353.03 L510.81 352.96 L511.2 352.91 L511.58 352.87 L511.96 352.83 L512.34 352.8 L512.73 352.77 L513.11 352.76 L513.49 352.75 L513.87 352.75 L514.26 352.75 L514.64 352.76 L515.02 352.78 L515.4 352.8 L515.79 352.83 L516.17 352.86 L516.55 352.9 L516.93 352.95 L517.32 353 L517.7 353.06 L518.08 353.12 L518.46 353.19 L518.85 353.26 L519.23 353.34 L519.61 353.42 L519.99 353.51 L520.38 353.6 L520.76 353.69 L521.14 353.79 L521.52 353.89 L521.91 354 L522.29 354.11 L522.67 354.23 L523.05 354.35 L523.44 354.47 L523.82 354.6 L524.2 354.73 L524.58 354.86 L524.97 355 L525.35 355.14 L525.73 355.28 L526.12 355.43 L526.5 355.58 L526.88 355.73 L527.26 355.89 L527.65 356.04 L528.03 356.2 L528.41 356.37 L528.79 356.53 L529.18 356.7 L529.56 356.87 L529.94 357.04 L530.32 357.21 L530.71 357.39 L531.09 357.57 L531.47 357.75 L531.85 357.93 L532.24 358.11 L532.62 358.3 L533 358.49 L533.38 358.68 L533.77 358.87 L534.15 359.06 L534.53 359.25 L534.91 359.45 L535.3 359.64 L535.68 359.84 L536.06 360.04 L536.44 360.24 L536.83 360.44 L537.21 360.64 L537.59 360.84 L537.97 361.05 L538.36 361.25 L538.74 361.46 L539.12 361.66 L539.5 361.87 L539.89 362.08 L540.27 362.29 L540.65 362.5 L541.04 362.71 L541.42 362.92 L541.8 363.13 L542.18 363.34 L542.57 363.55 L542.95 363.77 L543.33 363.98 L543.71 364.19 L544.1 364.41 L544.48 364.62 L544.86 364.83 L545.24 365.05 L545.63 365.26 L546.01 365.48 L546.39 365.69 L546.77 365.91 L547.16 366.12 L547.54 366.34 L547.92 366.55 L548.3 366.77 L548.69 366.98 L549.07 367.2 L549.45 367.41 L549.83 367.63 L550.22 367.84 L550.6 368.06 L550.98 368.27 L551.36 368.49 L551.75 368.7 L552.13 368.91 L552.51 369.13 L552.89 369.34 L553.28 369.55 L553.66 369.76 L554.04 369.98 L554.42 370.19 L554.81 370.4 L555.19 370.61 L555.57 370.82 L555.96 371.03 L556.34 371.24 L556.72 371.45 L557.1 371.66 L557.49 371.86 L557.87 372.07 L558.25 372.28 L558.63 372.48 L559.02 372.69 L559.4 372.89 L559.78 373.1 L560.16 373.3 L560.55 373.51 L560.93 373.71 L561.31 373.91 L561.69 374.11 L562.08 374.31 L562.46 374.51 L562.84 374.71 L563.22 374.91 L563.61 375.11 L563.99 375.31 L564.37 375.5 L564.75 375.7 L565.14 375.89 L565.52 376.08 L565.9 376.28 L566.28 376.47 L566.67 376.66 L567.05 376.84 L567.43 377.03 L567.81 377.21 L568.2 377.39 L568.58 377.57 L568.96 377.74 L569.34 377.91 L569.73 378.07 L570.11 378.23 L570.49 378.38 L570.87 378.53 L571.26 378.66 L571.64 378.8 L572.02 378.91 L572.41 379.02 L572.79 379.12 L573.17 379.2 L573.55 379.27 L573.94 379.32 L574.32 379.35 L574.7 379.37 L575.08 379.37 L575.47 379.34 L575.85 379.29 L576.23 379.21 L576.61 379.12 L577 378.99 L577.38 378.85 L577.76 378.66 L578.14 378.46 L578.53 378.21 L578.91 377.96 L579.29 377.65 L579.67 377.34 L580.06 376.97 L580.44 376.61 L580.82 376.19 L581.2 375.78 L581.59 375.31 L581.97 374.85 L582.35 374.34 L582.73 373.84 L583.12 373.3 L583.5 372.76 L583.88 372.2 L584.26 371.64 L584.65 371.06 L585.03 370.49 L585.41 369.9 L585.79 369.31 L586.18 368.73 L586.56 368.14 L586.94 367.56 L587.33 366.98 L587.71 366.41 L588.09 365.85 L588.47 365.29 L588.86 364.74 L589.24 364.21 L589.62 363.68 L590 363.17 L590.39 362.67 L590.77 362.19 L591.15 361.71 L591.53 361.25 L591.92 360.8 L592.3 360.37 L592.68 359.95 L593.06 359.54 L593.45 359.15 L593.83 358.77 L594.21 358.41 L594.59 358.06 L594.98 357.72 L595.36 357.4 L595.74 357.08 L596.12 356.79 L596.51 356.5 L596.89 356.23 L597.27 355.97 L597.65 355.72 L598.04 355.48 L598.42 355.26 L598.8 355.04 L599.18 354.84 L599.57 354.65 L599.95 354.46 L600.33 354.29 L600.71 354.13 L601.1 353.98 L601.48 353.84 L601.86 353.71 L602.25 353.58 L602.63 353.47 L603.01 353.37 L603.39 353.27 L603.78 353.18 L604.16 353.1 L604.54 353.03 L604.92 352.97 L605.31 352.92 L605.69 352.87 L606.07 352.83 L606.45 352.8 L606.84 352.78 L607.22 352.76 L607.6 352.75 L607.98 352.75 L608.37 352.75 L608.75 352.76 L609.13 352.77 L609.51 352.8 L609.9 352.82 L610.28 352.86 L610.66 352.9 L611.04 352.94 L611.43 352.99 L611.81 353.05 L612.19 353.11 L612.57 353.18 L612.96 353.25 L613.34 353.33 L613.72 353.41 L614.1 353.49 L614.49 353.58 L614.87 353.68 L615.25 353.78 L615.63 353.88 L616.02 353.99 L616.4 354.1 L616.78 354.22 L617.16 354.33 L617.55 354.46 L617.93 354.58 L618.31 354.71 L618.7 354.85 L619.08 354.98 L619.46 355.12 L619.84 355.27 L620.23 355.41 L620.61 355.56 L620.99 355.71 L621.37 355.87 L621.76 356.02 L622.14 356.18 L622.52 356.34 L622.9 356.51 L623.29 356.68 L623.67 356.85 L624.05 357.02 L624.43 357.19 L624.82 357.37 L625.2 357.54 L625.58 357.72 L625.96 357.91 L626.35 358.09 L626.73 358.28 L627.11 358.46 L627.49 358.65 L627.88 358.84 L628.26 359.03 L628.64 359.23 L629.02 359.42 L629.41 359.62 L629.79 359.81 L630.17 360.01 L630.55 360.21 L630.94 360.41 L631.32 360.61 L631.7 360.82 L632.08 361.02 L632.47 361.23 L632.85 361.43 L633.23 361.64 L633.62 361.84 L634 362.05 L634.38 362.26 L634.76 362.47 L635.15 362.68 L635.53 362.89 L635.91 363.1 L636.29 363.31 L636.68 363.53 L637.06 363.74 L637.44 363.95 L637.82 364.17 L638.21 364.38 L638.59 364.59 L638.97 364.81 L639.35 365.02 L639.74 365.24 L640.12 365.45 L640.5 365.67 L640.88 365.88 L641.27 366.1 L641.65 366.31 L642.03 366.53 L642.41 366.74 L642.8 366.96 L643.18 367.17 L643.56 367.39 L643.94 367.6 L644.33 367.82 L644.71 368.03 L645.09 368.24 L645.47 368.46 L645.86 368.67 L646.24 368.89 L646.62 369.1 L647 369.31 L647.39 369.52 L647.77 369.74 L648.15 369.95 L648.54 370.16 L648.92 370.37 L649.3 370.58 L649.68 370.79 L650.07 371 L650.45 371.21 L650.83 371.42 L651.21 371.63 L651.6 371.84 L651.98 372.04 L652.36 372.25 L652.74 372.46 L653.13 372.66 L653.51 372.87 L653.89 373.07 L654.27 373.28 L654.66 373.48 L655.04 373.68 L655.42 373.88 L655.8 374.09 L656.19 374.29 L656.57 374.49 L656.95 374.69 L657.33 374.88 L657.72 375.08 L658.1 375.28 L658.48 375.48 L658.86 375.67 L659.25 375.87 L659.63 376.06 L660.01 376.25 L660.39 376.44 L660.78 376.63 L661.16 376.82 L661.54 377 L661.92 377.19 L662.31 377.37 L662.69 377.54 L663.07 377.72 L663.45 377.89 L663.84 378.05 L664.22 378.21 L664.6 378.36 L664.99 378.51 L665.37 378.65 L665.75 378.78 L666.13 378.9 L666.52 379.01 L666.9 379.11 L667.28 379.19 L667.66 379.26 L668.05 379.32 L668.43 379.35 L668.81 379.37 L669.19 379.37 L669.58 379.34 L669.96 379.3 L670.34 379.23 L670.72 379.13 L671.11 379.01 L671.49 378.86 L671.87 378.68 L672.25 378.48 L672.64 378.24 L673.02 377.99 L673.4 377.69 L673.78 377.38 L674.17 377.02 L674.55 376.66 L674.93 376.25 L675.31 375.84 L675.7 375.37" fill="none" stroke="#0000ff" stroke-width="2.6" stroke-linejoin="round" stroke-linecap="round" />
<path d="M370.03 373.19 L370.41 373.43 L370.8 373.66 L371.18 373.89 L371.56 374.13 L371.94 374.36 L372.33 374.59 L372.71 374.82 L373.09 375.05 L373.47 375.28 L373.86 375.51 L374.24 375.74 L374.62 375.96 L375 376.19 L375.39 376.42 L375.77 376.64 L376.15 376.86 L376.53 377.09 L376.92 377.31 L377.3 377.53 L377.68 377.75 L378.06 377.96 L378.45 378.18 L378.83 378.39 L379.21 378.6 L379.59 378.81 L379.98 379.01 L380.36 379.21 L380.74 379.41 L381.12 379.6 L381.51 379.78 L381.89 379.96 L382.27 380.13 L382.65 380.3 L383.04 380.45 L383.42 380.6 L383.8 380.73 L384.18 380.85 L384.57 380.96 L384.95 381.04 L385.33 381.12 L385.72 381.17 L386.1 381.21 L386.48 381.22 L386.86 381.21 L387.25 381.17 L387.63 381.12 L388.01 381.01 L388.39 380.91 L388.78 380.74 L389.16 380.57 L389.54 380.34 L389.92 380.11 L390.31 379.82 L390.69 379.52 L391.07 379.16 L391.45 378.8 L391.84 378.38 L392.22 377.95 L392.6 377.47 L392.98 376.98 L393.37 376.45 L393.75 375.91 L394.13 375.34 L394.51 374.75 L394.9 374.14 L395.28 373.52 L395.66 372.88 L396.04 372.23 L396.43 371.58 L396.81 370.91 L397.19 370.25 L397.57 369.57 L397.96 368.91 L398.34 368.24 L398.72 367.58 L399.1 366.92 L399.49 366.27 L399.87 365.63 L400.25 365 L400.63 364.38 L401.02 363.77 L401.4 363.18 L401.78 362.6 L402.17 362.03 L402.55 361.48 L402.93 360.94 L403.31 360.42 L403.7 359.91 L404.08 359.42 L404.46 358.95 L404.84 358.49 L405.23 358.05 L405.61 357.62 L405.99 357.21 L406.37 356.81 L406.76 356.43 L407.14 356.07 L407.52 355.72 L407.9 355.38 L408.29 355.06 L408.67 354.75 L409.05 354.46 L409.43 354.18 L409.82 353.91 L410.2 353.66 L410.58 353.41 L410.96 353.19 L411.35 352.97 L411.73 352.77 L412.11 352.57 L412.49 352.39 L412.88 352.22 L413.26 352.06 L413.64 351.92 L414.02 351.78 L414.41 351.65 L414.79 351.54 L415.17 351.43 L415.55 351.33 L415.94 351.25 L416.32 351.17 L416.7 351.1 L417.09 351.04 L417.47 350.99 L417.85 350.95 L418.23 350.91 L418.62 350.89 L419 350.87 L419.38 350.86 L419.76 350.86 L420.15 350.86 L420.53 350.88 L420.91 350.9 L421.29 350.92 L421.68 350.96 L422.06 351 L422.44 351.04 L422.82 351.1 L423.21 351.16 L423.59 351.22 L423.97 351.3 L424.35 351.37 L424.74 351.46 L425.12 351.54 L425.5 351.64 L425.88 351.74 L426.27 351.84 L426.65 351.95 L427.03 352.07 L427.41 352.18 L427.8 352.31 L428.18 352.44 L428.56 352.57 L428.94 352.71 L429.33 352.85 L429.71 352.99 L430.09 353.14 L430.47 353.29 L430.86 353.45 L431.24 353.61 L431.62 353.77 L432.01 353.94 L432.39 354.11 L432.77 354.29 L433.15 354.46 L433.54 354.64 L433.92 354.83 L434.3 355.01 L434.68 355.2 L435.07 355.39 L435.45 355.58 L435.83 355.78 L436.21 355.98 L436.6 356.18 L436.98 356.38 L437.36 356.59 L437.74 356.8 L438.13 357.01 L438.51 357.22 L438.89 357.43 L439.27 357.65 L439.66 357.87 L440.04 358.08 L440.42 358.31 L440.8 358.53 L441.19 358.75 L441.57 358.98 L441.95 359.2 L442.33 359.43 L442.72 359.66 L443.1 359.89 L443.48 360.12 L443.86 360.35 L444.25 360.59 L444.63 360.82 L445.01 361.06 L445.39 361.3 L445.78 361.53 L446.16 361.77 L446.54 362.01 L446.92 362.25 L447.31 362.49 L447.69 362.73 L448.07 362.97 L448.46 363.21 L448.84 363.46 L449.22 363.7 L449.6 363.94 L449.99 364.19 L450.37 364.43 L450.75 364.68 L451.13 364.92 L451.52 365.16 L451.9 365.41 L452.28 365.65 L452.66 365.9 L453.05 366.14 L453.43 366.39 L453.81 366.64 L454.19 366.88 L454.58 367.13 L454.96 367.37 L455.34 367.62 L455.72 367.86 L456.11 368.11 L456.49 368.35 L456.87 368.59 L457.25 368.84 L457.64 369.08 L458.02 369.33 L458.4 369.57 L458.78 369.81 L459.17 370.05 L459.55 370.3 L459.93 370.54 L460.31 370.78 L460.7 371.02 L461.08 371.26 L461.46 371.5 L461.84 371.74 L462.23 371.98 L462.61 372.21 L462.99 372.45 L463.38 372.69 L463.76 372.92 L464.14 373.16 L464.52 373.4 L464.91 373.63 L465.29 373.86 L465.67 374.1 L466.05 374.33 L466.44 374.56 L466.82 374.79 L467.2 375.02 L467.58 375.25 L467.97 375.48 L468.35 375.71 L468.73 375.93 L469.11 376.16 L469.5 376.39 L469.88 376.61 L470.26 376.84 L470.64 377.06 L471.03 377.28 L471.41 377.5 L471.79 377.72 L472.17 377.94 L472.56 378.15 L472.94 378.36 L473.32 378.57 L473.7 378.78 L474.09 378.98 L474.47 379.19 L474.85 379.38 L475.23 379.57 L475.62 379.76 L476 379.94 L476.38 380.11 L476.76 380.28 L477.15 380.43 L477.53 380.58 L477.91 380.71 L478.29 380.84 L478.68 380.94 L479.06 381.03 L479.44 381.11 L479.83 381.17 L480.21 381.21 L480.59 381.22 L480.97 381.21 L481.36 381.17 L481.74 381.12 L482.12 381.03 L482.5 380.92 L482.89 380.76 L483.27 380.6 L483.65 380.37 L484.03 380.15 L484.42 379.86 L484.8 379.57 L485.18 379.21 L485.56 378.85 L485.95 378.43 L486.33 378.01 L486.71 377.53 L487.09 377.05 L487.48 376.52 L487.86 375.99 L488.24 375.41 L488.62 374.83 L489.01 374.22 L489.39 373.6 L489.77 372.96 L490.15 372.32 L490.54 371.66 L490.92 371 L491.3 370.33 L491.68 369.66 L492.07 369 L492.45 368.33 L492.83 367.67 L493.21 367 L493.6 366.36 L493.98 365.71 L494.36 365.08 L494.75 364.46 L495.13 363.85 L495.51 363.25 L495.89 362.67 L496.28 362.1 L496.66 361.55 L497.04 361.01 L497.42 360.49 L497.81 359.98 L498.19 359.49 L498.57 359.01 L498.95 358.55 L499.34 358.11 L499.72 357.68 L500.1 357.26 L500.48 356.86 L500.87 356.48 L501.25 356.11 L501.63 355.76 L502.01 355.42 L502.4 355.1 L502.78 354.79 L503.16 354.49 L503.54 354.21 L503.93 353.94 L504.31 353.69 L504.69 353.45 L505.07 353.22 L505.46 353 L505.84 352.79 L506.22 352.6 L506.6 352.42 L506.99 352.24 L507.37 352.08 L507.75 351.94 L508.13 351.8 L508.52 351.67 L508.9 351.55 L509.28 351.44 L509.67 351.35 L510.05 351.26 L510.43 351.18 L510.81 351.11 L511.2 351.05 L511.58 351 L511.96 350.95 L512.34 350.92 L512.73 350.89 L513.11 350.87 L513.49 350.86 L513.87 350.86 L514.26 350.86 L514.64 350.87 L515.02 350.89 L515.4 350.92 L515.79 350.95 L516.17 350.99 L516.55 351.04 L516.93 351.09 L517.32 351.15 L517.7 351.21 L518.08 351.29 L518.46 351.36 L518.85 351.44 L519.23 351.53 L519.61 351.63 L519.99 351.72 L520.38 351.83 L520.76 351.94 L521.14 352.05 L521.52 352.17 L521.91 352.29 L522.29 352.42 L522.67 352.55 L523.05 352.69 L523.44 352.83 L523.82 352.97 L524.2 353.12 L524.58 353.27 L524.97 353.43 L525.35 353.59 L525.73 353.75 L526.12 353.92 L526.5 354.09 L526.88 354.26 L527.26 354.44 L527.65 354.62 L528.03 354.8 L528.41 354.99 L528.79 355.17 L529.18 355.37 L529.56 355.56 L529.94 355.76 L530.32 355.95 L530.71 356.15 L531.09 356.36 L531.47 356.56 L531.85 356.77 L532.24 356.98 L532.62 357.19 L533 357.4 L533.38 357.62 L533.77 357.84 L534.15 358.06 L534.53 358.28 L534.91 358.5 L535.3 358.72 L535.68 358.95 L536.06 359.17 L536.44 359.4 L536.83 359.63 L537.21 359.86 L537.59 360.09 L537.97 360.32 L538.36 360.56 L538.74 360.79 L539.12 361.03 L539.5 361.26 L539.89 361.5 L540.27 361.74 L540.65 361.98 L541.04 362.22 L541.42 362.46 L541.8 362.7 L542.18 362.94 L542.57 363.18 L542.95 363.43 L543.33 363.67 L543.71 363.91 L544.1 364.16 L544.48 364.4 L544.86 364.64 L545.24 364.89 L545.63 365.13 L546.01 365.38 L546.39 365.62 L546.77 365.87 L547.16 366.11 L547.54 366.36 L547.92 366.6 L548.3 366.85 L548.69 367.09 L549.07 367.34 L549.45 367.58 L549.83 367.83 L550.22 368.07 L550.6 368.32 L550.98 368.56 L551.36 368.81 L551.75 369.05 L552.13 369.29 L552.51 369.54 L552.89 369.78 L553.28 370.02 L553.66 370.26 L554.04 370.51 L554.42 370.75 L554.81 370.99 L555.19 371.23 L555.57 371.47 L555.96 371.71 L556.34 371.95 L556.72 372.18 L557.1 372.42 L557.49 372.66 L557.87 372.89 L558.25 373.13 L558.63 373.37 L559.02 373.6 L559.4 373.83 L559.78 374.07 L560.16 374.3 L560.55 374.53 L560.93 374.76 L561.31 374.99 L561.69 375.22 L562.08 375.45 L562.46 375.68 L562.84 375.91 L563.22 376.13 L563.61 376.36 L563.99 376.58 L564.37 376.81 L564.75 377.03 L565.14 377.25 L565.52 377.47 L565.9 377.69 L566.28 377.91 L566.67 378.12 L567.05 378.34 L567.43 378.55 L567.81 378.75 L568.2 378.96 L568.58 379.16 L568.96 379.36 L569.34 379.55 L569.73 379.74 L570.11 379.92 L570.49 380.09 L570.87 380.26 L571.26 380.41 L571.64 380.56 L572.02 380.7 L572.41 380.82 L572.79 380.93 L573.17 381.03 L573.55 381.1 L573.94 381.16 L574.32 381.2 L574.7 381.22 L575.08 381.21 L575.47 381.18 L575.85 381.13 L576.23 381.04 L576.61 380.93 L577 380.78 L577.38 380.62 L577.76 380.4 L578.14 380.18 L578.53 379.89 L578.91 379.61 L579.29 379.25 L579.67 378.91 L580.06 378.49 L580.44 378.07 L580.82 377.59 L581.2 377.12 L581.59 376.59 L581.97 376.06 L582.35 375.49 L582.73 374.91 L583.12 374.3 L583.5 373.69 L583.88 373.05 L584.26 372.4 L584.65 371.75 L585.03 371.09 L585.41 370.42 L585.79 369.75 L586.18 369.08 L586.56 368.41 L586.94 367.75 L587.33 367.09 L587.71 366.44 L588.09 365.8 L588.47 365.16 L588.86 364.54 L589.24 363.93 L589.62 363.33 L590 362.75 L590.39 362.18 L590.77 361.62 L591.15 361.08 L591.53 360.56 L591.92 360.04 L592.3 359.55 L592.68 359.07 L593.06 358.61 L593.45 358.16 L593.83 357.73 L594.21 357.32 L594.59 356.92 L594.98 356.53 L595.36 356.16 L595.74 355.81 L596.12 355.47 L596.51 355.14 L596.89 354.83 L597.27 354.53 L597.65 354.25 L598.04 353.98 L598.42 353.72 L598.8 353.48 L599.18 353.24 L599.57 353.03 L599.95 352.82 L600.33 352.62 L600.71 352.44 L601.1 352.27 L601.48 352.1 L601.86 351.95 L602.25 351.81 L602.63 351.69 L603.01 351.57 L603.39 351.46 L603.78 351.36 L604.16 351.27 L604.54 351.19 L604.92 351.12 L605.31 351.06 L605.69 351 L606.07 350.96 L606.45 350.92 L606.84 350.89 L607.22 350.87 L607.6 350.86 L607.98 350.86 L608.37 350.86 L608.75 350.87 L609.13 350.89 L609.51 350.92 L609.9 350.95 L610.28 350.99 L610.66 351.03 L611.04 351.08 L611.43 351.14 L611.81 351.21 L612.19 351.28 L612.57 351.35 L612.96 351.43 L613.34 351.52 L613.72 351.61 L614.1 351.71 L614.49 351.81 L614.87 351.92 L615.25 352.04 L615.63 352.15 L616.02 352.28 L616.4 352.4 L616.78 352.53 L617.16 352.67 L617.55 352.81 L617.93 352.95 L618.31 353.1 L618.7 353.25 L619.08 353.41 L619.46 353.57 L619.84 353.73 L620.23 353.9 L620.61 354.07 L620.99 354.24 L621.37 354.42 L621.76 354.6 L622.14 354.78 L622.52 354.96 L622.9 355.15 L623.29 355.34 L623.67 355.53 L624.05 355.73 L624.43 355.93 L624.82 356.13 L625.2 356.33 L625.58 356.54 L625.96 356.74 L626.35 356.95 L626.73 357.16 L627.11 357.38 L627.49 357.59 L627.88 357.81 L628.26 358.03 L628.64 358.25 L629.02 358.47 L629.41 358.69 L629.79 358.92 L630.17 359.14 L630.55 359.37 L630.94 359.6 L631.32 359.83 L631.7 360.06 L632.08 360.29 L632.47 360.53 L632.85 360.76 L633.23 361 L633.62 361.23 L634 361.47 L634.38 361.71 L634.76 361.95 L635.15 362.19 L635.53 362.43 L635.91 362.67 L636.29 362.91 L636.68 363.15 L637.06 363.39 L637.44 363.64 L637.82 363.88 L638.21 364.12 L638.59 364.37 L638.97 364.61 L639.35 364.86 L639.74 365.1 L640.12 365.35 L640.5 365.59 L640.88 365.84 L641.27 366.08 L641.65 366.33 L642.03 366.57 L642.41 366.82 L642.8 367.06 L643.18 367.31 L643.56 367.55 L643.94 367.8 L644.33 368.04 L644.71 368.29 L645.09 368.53 L645.47 368.77 L645.86 369.02 L646.24 369.26 L646.62 369.5 L647 369.75 L647.39 369.99 L647.77 370.23 L648.15 370.47 L648.54 370.72 L648.92 370.96 L649.3 371.2 L649.68 371.44 L650.07 371.68 L650.45 371.91 L650.83 372.15 L651.21 372.39 L651.6 372.63 L651.98 372.86 L652.36 373.1 L652.74 373.33 L653.13 373.57 L653.51 373.8 L653.89 374.04 L654.27 374.27 L654.66 374.5 L655.04 374.73 L655.42 374.96 L655.8 375.19 L656.19 375.42 L656.57 375.65 L656.95 375.88 L657.33 376.1 L657.72 376.33 L658.1 376.55 L658.48 376.78 L658.86 377 L659.25 377.22 L659.63 377.44 L660.01 377.66 L660.39 377.88 L660.78 378.09 L661.16 378.31 L661.54 378.52 L661.92 378.73 L662.31 378.93 L662.69 379.13 L663.07 379.33 L663.45 379.53 L663.84 379.71 L664.22 379.9 L664.6 380.07 L664.99 380.24 L665.37 380.39 L665.75 380.55 L666.13 380.68 L666.52 380.81 L666.9 380.92 L667.28 381.02 L667.66 381.09 L668.05 381.16 L668.43 381.19 L668.81 381.22 L669.19 381.21 L669.58 381.19 L669.96 381.13 L670.34 381.05 L670.72 380.95 L671.11 380.8 L671.49 380.64 L671.87 380.43 L672.25 380.21 L672.64 379.93 L673.02 379.64 L673.4 379.3 L673.78 378.95 L674.17 378.54 L674.55 378.13 L674.93 377.66 L675.31 377.19 L675.7 376.66" fill="none" stroke="#9900cc" stroke-width="2.6" stroke-linejoin="round" stroke-linecap="round" />
<path d="M370.03 366.94 L370.41 367.02 L370.8 367.09 L371.18 367.17 L371.56 367.24 L371.94 367.31 L372.33 367.39 L372.71 367.46 L373.09 367.54 L373.47 367.61 L373.86 367.68 L374.24 367.76 L374.62 367.83 L375 367.91 L375.39 367.98 L375.77 368.05 L376.15 368.13 L376.53 368.2 L376.92 368.27 L377.3 368.35 L377.68 368.42 L378.06 368.49 L378.45 368.57 L378.83 368.64 L379.21 368.71 L379.59 368.78 L379.98 368.86 L380.36 368.93 L380.74 369 L381.12 369.07 L381.51 369.15 L381.89 369.22 L382.27 369.29 L382.65 369.36 L383.04 369.43 L383.42 369.5 L383.8 369.56 L384.18 369.62 L384.57 369.68 L384.95 369.73 L385.33 369.77 L385.72 369.8 L386.1 369.81 L386.48 369.81 L386.86 369.79 L387.25 369.74 L387.63 369.67 L388.01 369.58 L388.39 369.47 L388.78 369.33 L389.16 369.17 L389.54 368.99 L389.92 368.8 L390.31 368.59 L390.69 368.38 L391.07 368.16 L391.45 367.94 L391.84 367.71 L392.22 367.49 L392.6 367.27 L392.98 367.05 L393.37 366.83 L393.75 366.62 L394.13 366.41 L394.51 366.21 L394.9 366.01 L395.28 365.82 L395.66 365.63 L396.04 365.45 L396.43 365.27 L396.81 365.09 L397.19 364.92 L397.57 364.75 L397.96 364.59 L398.34 364.44 L398.72 364.28 L399.1 364.13 L399.49 363.99 L399.87 363.85 L400.25 363.71 L400.63 363.57 L401.02 363.44 L401.4 363.32 L401.78 363.19 L402.17 363.08 L402.55 362.96 L402.93 362.85 L403.31 362.74 L403.7 362.64 L404.08 362.53 L404.46 362.44 L404.84 362.34 L405.23 362.25 L405.61 362.16 L405.99 362.08 L406.37 361.99 L406.76 361.91 L407.14 361.84 L407.52 361.76 L407.9 361.69 L408.29 361.63 L408.67 361.56 L409.05 361.5 L409.43 361.44 L409.82 361.38 L410.2 361.33 L410.58 361.28 L410.96 361.23 L411.35 361.18 L411.73 361.14 L412.11 361.1 L412.49 361.06 L412.88 361.02 L413.26 360.99 L413.64 360.96 L414.02 360.93 L414.41 360.9 L414.79 360.87 L415.17 360.85 L415.55 360.83 L415.94 360.81 L416.32 360.79 L416.7 360.78 L417.09 360.76 L417.47 360.75 L417.85 360.74 L418.23 360.74 L418.62 360.73 L419 360.73 L419.38 360.73 L419.76 360.72 L420.15 360.73 L420.53 360.73 L420.91 360.73 L421.29 360.74 L421.68 360.75 L422.06 360.76 L422.44 360.77 L422.82 360.78 L423.21 360.8 L423.59 360.81 L423.97 360.83 L424.35 360.85 L424.74 360.87 L425.12 360.89 L425.5 360.91 L425.88 360.94 L426.27 360.96 L426.65 360.99 L427.03 361.02 L427.41 361.05 L427.8 361.08 L428.18 361.11 L428.56 361.14 L428.94 361.18 L429.33 361.21 L429.71 361.25 L430.09 361.28 L430.47 361.32 L430.86 361.36 L431.24 361.4 L431.62 361.44 L432.01 361.48 L432.39 361.53 L432.77 361.57 L433.15 361.62 L433.54 361.66 L433.92 361.71 L434.3 361.76 L434.68 361.8 L435.07 361.85 L435.45 361.9 L435.83 361.95 L436.21 362.01 L436.6 362.06 L436.98 362.11 L437.36 362.16 L437.74 362.22 L438.13 362.27 L438.51 362.33 L438.89 362.39 L439.27 362.44 L439.66 362.5 L440.04 362.56 L440.42 362.62 L440.8 362.68 L441.19 362.74 L441.57 362.8 L441.95 362.86 L442.33 362.92 L442.72 362.98 L443.1 363.04 L443.48 363.11 L443.86 363.17 L444.25 363.24 L444.63 363.3 L445.01 363.36 L445.39 363.43 L445.78 363.5 L446.16 363.56 L446.54 363.63 L446.92 363.69 L447.31 363.76 L447.69 363.83 L448.07 363.9 L448.46 363.97 L448.84 364.03 L449.22 364.1 L449.6 364.17 L449.99 364.24 L450.37 364.31 L450.75 364.38 L451.13 364.45 L451.52 364.52 L451.9 364.59 L452.28 364.66 L452.66 364.74 L453.05 364.81 L453.43 364.88 L453.81 364.95 L454.19 365.02 L454.58 365.09 L454.96 365.17 L455.34 365.24 L455.72 365.31 L456.11 365.38 L456.49 365.46 L456.87 365.53 L457.25 365.6 L457.64 365.68 L458.02 365.75 L458.4 365.82 L458.78 365.9 L459.17 365.97 L459.55 366.04 L459.93 366.12 L460.31 366.19 L460.7 366.27 L461.08 366.34 L461.46 366.41 L461.84 366.49 L462.23 366.56 L462.61 366.64 L462.99 366.71 L463.38 366.78 L463.76 366.86 L464.14 366.93 L464.52 367.01 L464.91 367.08 L465.29 367.16 L465.67 367.23 L466.05 367.3 L466.44 367.38 L466.82 367.45 L467.2 367.53 L467.58 367.6 L467.97 367.67 L468.35 367.75 L468.73 367.82 L469.11 367.9 L469.5 367.97 L469.88 368.04 L470.26 368.12 L470.64 368.19 L471.03 368.26 L471.41 368.34 L471.79 368.41 L472.17 368.48 L472.56 368.56 L472.94 368.63 L473.32 368.7 L473.7 368.77 L474.09 368.85 L474.47 368.92 L474.85 368.99 L475.23 369.06 L475.62 369.14 L476 369.21 L476.38 369.28 L476.76 369.35 L477.15 369.42 L477.53 369.49 L477.91 369.55 L478.29 369.62 L478.68 369.67 L479.06 369.72 L479.44 369.76 L479.83 369.79 L480.21 369.81 L480.59 369.81 L480.97 369.79 L481.36 369.75 L481.74 369.68 L482.12 369.6 L482.5 369.48 L482.89 369.35 L483.27 369.19 L483.65 369.02 L484.03 368.82 L484.42 368.62 L484.8 368.41 L485.18 368.19 L485.56 367.97 L485.95 367.74 L486.33 367.52 L486.71 367.29 L487.09 367.07 L487.48 366.86 L487.86 366.65 L488.24 366.44 L488.62 366.24 L489.01 366.04 L489.39 365.84 L489.77 365.65 L490.15 365.47 L490.54 365.29 L490.92 365.11 L491.3 364.94 L491.68 364.78 L492.07 364.61 L492.45 364.46 L492.83 364.3 L493.21 364.15 L493.6 364.01 L493.98 363.86 L494.36 363.73 L494.75 363.59 L495.13 363.46 L495.51 363.33 L495.89 363.21 L496.28 363.09 L496.66 362.98 L497.04 362.86 L497.42 362.75 L497.81 362.65 L498.19 362.55 L498.57 362.45 L498.95 362.35 L499.34 362.26 L499.72 362.17 L500.1 362.09 L500.48 362 L500.87 361.92 L501.25 361.85 L501.63 361.77 L502.01 361.7 L502.4 361.63 L502.78 361.57 L503.16 361.51 L503.54 361.45 L503.93 361.39 L504.31 361.34 L504.69 361.28 L505.07 361.23 L505.46 361.19 L505.84 361.14 L506.22 361.1 L506.6 361.06 L506.99 361.03 L507.37 360.99 L507.75 360.96 L508.13 360.93 L508.52 360.9 L508.9 360.88 L509.28 360.85 L509.67 360.83 L510.05 360.81 L510.43 360.79 L510.81 360.78 L511.2 360.77 L511.58 360.75 L511.96 360.74 L512.34 360.74 L512.73 360.73 L513.11 360.73 L513.49 360.73 L513.87 360.72 L514.26 360.73 L514.64 360.73 L515.02 360.73 L515.4 360.74 L515.79 360.75 L516.17 360.76 L516.55 360.77 L516.93 360.78 L517.32 360.8 L517.7 360.81 L518.08 360.83 L518.46 360.85 L518.85 360.87 L519.23 360.89 L519.61 360.91 L519.99 360.93 L520.38 360.96 L520.76 360.99 L521.14 361.01 L521.52 361.04 L521.91 361.07 L522.29 361.1 L522.67 361.14 L523.05 361.17 L523.44 361.21 L523.82 361.24 L524.2 361.28 L524.58 361.32 L524.97 361.36 L525.35 361.4 L525.73 361.44 L526.12 361.48 L526.5 361.52 L526.88 361.57 L527.26 361.61 L527.65 361.66 L528.03 361.7 L528.41 361.75 L528.79 361.8 L529.18 361.85 L529.56 361.9 L529.94 361.95 L530.32 362 L530.71 362.05 L531.09 362.1 L531.47 362.16 L531.85 362.21 L532.24 362.27 L532.62 362.32 L533 362.38 L533.38 362.44 L533.77 362.49 L534.15 362.55 L534.53 362.61 L534.91 362.67 L535.3 362.73 L535.68 362.79 L536.06 362.85 L536.44 362.91 L536.83 362.97 L537.21 363.04 L537.59 363.1 L537.97 363.16 L538.36 363.23 L538.74 363.29 L539.12 363.36 L539.5 363.42 L539.89 363.49 L540.27 363.55 L540.65 363.62 L541.04 363.69 L541.42 363.75 L541.8 363.82 L542.18 363.89 L542.57 363.96 L542.95 364.03 L543.33 364.09 L543.71 364.16 L544.1 364.23 L544.48 364.3 L544.86 364.37 L545.24 364.44 L545.63 364.51 L546.01 364.58 L546.39 364.65 L546.77 364.73 L547.16 364.8 L547.54 364.87 L547.92 364.94 L548.3 365.01 L548.69 365.08 L549.07 365.16 L549.45 365.23 L549.83 365.3 L550.22 365.37 L550.6 365.45 L550.98 365.52 L551.36 365.59 L551.75 365.67 L552.13 365.74 L552.51 365.81 L552.89 365.89 L553.28 365.96 L553.66 366.03 L554.04 366.11 L554.42 366.18 L554.81 366.26 L555.19 366.33 L555.57 366.4 L555.96 366.48 L556.34 366.55 L556.72 366.63 L557.1 366.7 L557.49 366.78 L557.87 366.85 L558.25 366.92 L558.63 367 L559.02 367.07 L559.4 367.15 L559.78 367.22 L560.16 367.29 L560.55 367.37 L560.93 367.44 L561.31 367.52 L561.69 367.59 L562.08 367.66 L562.46 367.74 L562.84 367.81 L563.22 367.89 L563.61 367.96 L563.99 368.03 L564.37 368.11 L564.75 368.18 L565.14 368.25 L565.52 368.33 L565.9 368.4 L566.28 368.47 L566.67 368.55 L567.05 368.62 L567.43 368.69 L567.81 368.77 L568.2 368.84 L568.58 368.91 L568.96 368.98 L569.34 369.06 L569.73 369.13 L570.11 369.2 L570.49 369.27 L570.87 369.34 L571.26 369.41 L571.64 369.48 L572.02 369.55 L572.41 369.61 L572.79 369.67 L573.17 369.72 L573.55 369.76 L573.94 369.79 L574.32 369.81 L574.7 369.81 L575.08 369.79 L575.47 369.75 L575.85 369.69 L576.23 369.61 L576.61 369.5 L577 369.37 L577.38 369.21 L577.76 369.04 L578.14 368.85 L578.53 368.65 L578.91 368.44 L579.29 368.22 L579.67 368 L580.06 367.77 L580.44 367.55 L580.82 367.32 L581.2 367.1 L581.59 366.89 L581.97 366.67 L582.35 366.47 L582.73 366.26 L583.12 366.06 L583.5 365.87 L583.88 365.68 L584.26 365.49 L584.65 365.31 L585.03 365.14 L585.41 364.97 L585.79 364.8 L586.18 364.63 L586.56 364.48 L586.94 364.32 L587.33 364.17 L587.71 364.02 L588.09 363.88 L588.47 363.74 L588.86 363.61 L589.24 363.48 L589.62 363.35 L590 363.23 L590.39 363.11 L590.77 362.99 L591.15 362.88 L591.53 362.77 L591.92 362.66 L592.3 362.56 L592.68 362.46 L593.06 362.37 L593.45 362.27 L593.83 362.18 L594.21 362.1 L594.59 362.01 L594.98 361.93 L595.36 361.86 L595.74 361.78 L596.12 361.71 L596.51 361.64 L596.89 361.58 L597.27 361.51 L597.65 361.45 L598.04 361.4 L598.42 361.34 L598.8 361.29 L599.18 361.24 L599.57 361.19 L599.95 361.15 L600.33 361.11 L600.71 361.07 L601.1 361.03 L601.48 361 L601.86 360.96 L602.25 360.93 L602.63 360.9 L603.01 360.88 L603.39 360.85 L603.78 360.83 L604.16 360.81 L604.54 360.8 L604.92 360.78 L605.31 360.77 L605.69 360.76 L606.07 360.75 L606.45 360.74 L606.84 360.73 L607.22 360.73 L607.6 360.73 L607.98 360.72 L608.37 360.73 L608.75 360.73 L609.13 360.73 L609.51 360.74 L609.9 360.75 L610.28 360.76 L610.66 360.77 L611.04 360.78 L611.43 360.79 L611.81 360.81 L612.19 360.83 L612.57 360.84 L612.96 360.86 L613.34 360.89 L613.72 360.91 L614.1 360.93 L614.49 360.96 L614.87 360.98 L615.25 361.01 L615.63 361.04 L616.02 361.07 L616.4 361.1 L616.78 361.13 L617.16 361.17 L617.55 361.2 L617.93 361.24 L618.31 361.27 L618.7 361.31 L619.08 361.35 L619.46 361.39 L619.84 361.43 L620.23 361.47 L620.61 361.52 L620.99 361.56 L621.37 361.6 L621.76 361.65 L622.14 361.7 L622.52 361.74 L622.9 361.79 L623.29 361.84 L623.67 361.89 L624.05 361.94 L624.43 361.99 L624.82 362.04 L625.2 362.1 L625.58 362.15 L625.96 362.2 L626.35 362.26 L626.73 362.31 L627.11 362.37 L627.49 362.43 L627.88 362.49 L628.26 362.54 L628.64 362.6 L629.02 362.66 L629.41 362.72 L629.79 362.78 L630.17 362.84 L630.55 362.9 L630.94 362.97 L631.32 363.03 L631.7 363.09 L632.08 363.15 L632.47 363.22 L632.85 363.28 L633.23 363.35 L633.62 363.41 L634 363.48 L634.38 363.54 L634.76 363.61 L635.15 363.68 L635.53 363.74 L635.91 363.81 L636.29 363.88 L636.68 363.95 L637.06 364.02 L637.44 364.09 L637.82 364.15 L638.21 364.22 L638.59 364.29 L638.97 364.36 L639.35 364.43 L639.74 364.5 L640.12 364.57 L640.5 364.65 L640.88 364.72 L641.27 364.79 L641.65 364.86 L642.03 364.93 L642.41 365 L642.8 365.08 L643.18 365.15 L643.56 365.22 L643.94 365.29 L644.33 365.37 L644.71 365.44 L645.09 365.51 L645.47 365.58 L645.86 365.66 L646.24 365.73 L646.62 365.8 L647 365.88 L647.39 365.95 L647.77 366.03 L648.15 366.1 L648.54 366.17 L648.92 366.25 L649.3 366.32 L649.68 366.39 L650.07 366.47 L650.45 366.54 L650.83 366.62 L651.21 366.69 L651.6 366.77 L651.98 366.84 L652.36 366.91 L652.74 366.99 L653.13 367.06 L653.51 367.14 L653.89 367.21 L654.27 367.28 L654.66 367.36 L655.04 367.43 L655.42 367.51 L655.8 367.58 L656.19 367.65 L656.57 367.73 L656.95 367.8 L657.33 367.88 L657.72 367.95 L658.1 368.02 L658.48 368.1 L658.86 368.17 L659.25 368.24 L659.63 368.32 L660.01 368.39 L660.39 368.46 L660.78 368.54 L661.16 368.61 L661.54 368.68 L661.92 368.76 L662.31 368.83 L662.69 368.9 L663.07 368.97 L663.45 369.05 L663.84 369.12 L664.22 369.19 L664.6 369.26 L664.99 369.33 L665.37 369.4 L665.75 369.47 L666.13 369.54 L666.52 369.6 L666.9 369.66 L667.28 369.71 L667.66 369.76 L668.05 369.79 L668.43 369.81 L668.81 369.81 L669.19 369.8 L669.58 369.76 L669.96 369.7 L670.34 369.62 L670.72 369.52 L671.11 369.38 L671.49 369.23 L671.87 369.06 L672.25 368.88 L672.64 368.68 L673.02 368.46 L673.4 368.25 L673.78 368.02 L674.17 367.8 L674.55 367.57 L674.93 367.35 L675.31 367.13 L675.7 366.91" fill="none" stroke="#ff0000" stroke-width="1.8" stroke-linejoin="round" stroke-linecap="round" />
<line x1="369.9" y1="257.2" x2="369.9" y2="432.3" stroke="#aaa" stroke-width="1"/>
<line x1="367.7" y1="432.3" x2="369.9" y2="432.3" stroke="#aaa" stroke-width="0.8"/>
<text x="366.7" y="436.2" font-size="11.4" text-anchor="end" font-weight="normal" fill="#111" >0</text>
<line x1="367.7" y1="393.5" x2="369.9" y2="393.5" stroke="#aaa" stroke-width="0.8"/>
<text x="366.7" y="397.4" font-size="11.4" text-anchor="end" font-weight="normal" fill="#111" >1</text>
<line x1="367.7" y1="354.7" x2="369.9" y2="354.7" stroke="#aaa" stroke-width="0.8"/>
<text x="366.7" y="358.6" font-size="11.4" text-anchor="end" font-weight="normal" fill="#111" >2</text>
<line x1="367.7" y1="315.9" x2="369.9" y2="315.9" stroke="#aaa" stroke-width="0.8"/>
<text x="366.7" y="319.8" font-size="11.4" text-anchor="end" font-weight="normal" fill="#111" >3</text>
<line x1="367.7" y1="277.1" x2="369.9" y2="277.1" stroke="#aaa" stroke-width="0.8"/>
<text x="366.7" y="281" font-size="11.4" text-anchor="end" font-weight="normal" fill="#111" >4</text>
<line x1="369.9" y1="432.3" x2="676.1" y2="432.3" stroke="#444" stroke-width="1"/>
<line x1="381.8" y1="432.3" x2="381.8" y2="434.5" stroke="#444" stroke-width="0.8"/>
<text x="381.8" y="443.7" font-size="11.4" text-anchor="middle" font-weight="normal" fill="#111" >0</text>
<line x1="428.88" y1="432.3" x2="428.88" y2="434.5" stroke="#444" stroke-width="0.8"/>
<text x="428.88" y="443.7" font-size="11.4" text-anchor="middle" font-weight="normal" fill="#111" >4</text>
<line x1="475.96" y1="432.3" x2="475.96" y2="434.5" stroke="#444" stroke-width="0.8"/>
<text x="475.96" y="443.7" font-size="11.4" text-anchor="middle" font-weight="normal" fill="#111" >8</text>
<line x1="523.04" y1="432.3" x2="523.04" y2="434.5" stroke="#444" stroke-width="0.8"/>
<text x="523.04" y="443.7" font-size="11.4" text-anchor="middle" font-weight="normal" fill="#111" >12</text>
<line x1="570.12" y1="432.3" x2="570.12" y2="434.5" stroke="#444" stroke-width="0.8"/>
<text x="570.12" y="443.7" font-size="11.4" text-anchor="middle" font-weight="normal" fill="#111" >16</text>
<line x1="617.2" y1="432.3" x2="617.2" y2="434.5" stroke="#444" stroke-width="0.8"/>
<text x="617.2" y="443.7" font-size="11.4" text-anchor="middle" font-weight="normal" fill="#111" >20</text>
<line x1="664.28" y1="432.3" x2="664.28" y2="434.5" stroke="#444" stroke-width="0.8"/>
<text x="664.28" y="443.7" font-size="11.4" text-anchor="middle" font-weight="normal" fill="#111" >24</text>
<text x="523.8" y="455.6" font-size="11.7" text-anchor="middle" font-weight="normal" fill="#111" >Time in steady-state [h]</text>
<text x="370.6" y="251.8" font-size="19.4" text-anchor="start" font-weight="bold" fill="#000" >d</text>
<text x="392.6" y="250.6" font-size="13.25" text-anchor="start" font-weight="normal" fill="#111" >Metformin - Simulations to match AUC in healthy</text>
<line x1="582.1" y1="266.7" x2="588.2" y2="266.7" stroke="#000" stroke-width="2.7" stroke-linecap="round"/>
<text x="596.5" y="270.2" font-size="9" text-anchor="start" font-weight="normal" fill="#111" >Healthy (1000 mg)</text>
<line x1="582.1" y1="276.75" x2="588.2" y2="276.75" stroke="#006400" stroke-width="1.8" stroke-linecap="round"/>
<text x="596.5" y="280.25" font-size="9" text-anchor="start" font-weight="normal" fill="#111" >CKD3A (292 mg)</text>
<line x1="582.1" y1="286.8" x2="588.2" y2="286.8" stroke="#0000ff" stroke-width="1.8" stroke-linecap="round"/>
<text x="596.5" y="290.3" font-size="9" text-anchor="start" font-weight="normal" fill="#111" >CKD3B (157 mg)</text>
<line x1="582.1" y1="296.85" x2="588.2" y2="296.85" stroke="#9900cc" stroke-width="1.8" stroke-linecap="round"/>
<text x="596.5" y="300.35" font-size="9" text-anchor="start" font-weight="normal" fill="#111" >CKD4 (214 mg)</text>
<line x1="582.1" y1="306.9" x2="588.2" y2="306.9" stroke="#ff0000" stroke-width="1.8" stroke-linecap="round"/>
<text x="596.5" y="310.4" font-size="9" text-anchor="start" font-weight="normal" fill="#111" >CKD5 (43 mg)</text>
<text x="12.9" y="495.2" font-size="10" font-weight="bold" text-anchor="start" fill="#111" textLength="18.4" lengthAdjust="spacingAndGlyphs">CKD</text>
<text x="12.9" y="509.3" font-size="10" font-weight="bold" text-anchor="start" fill="#111" textLength="23.6" lengthAdjust="spacingAndGlyphs">stage</text>
<text x="54.9" y="495.2" font-size="10" font-weight="bold" text-anchor="start" fill="#111" textLength="17.5" lengthAdjust="spacingAndGlyphs">GFR</text>
<text x="54.9" y="509.3" font-size="10" font-weight="bold" text-anchor="start" fill="#111" textLength="40.3" lengthAdjust="spacingAndGlyphs">[ml/min]</text>
<text x="103.9" y="495.2" font-size="10" font-weight="bold" text-anchor="start" fill="#111" textLength="44.3" lengthAdjust="spacingAndGlyphs">Individual</text>
<text x="103.9" y="509.3" font-size="10" font-weight="bold" text-anchor="start" fill="#111" textLength="17.5" lengthAdjust="spacingAndGlyphs">GFR</text>
<text x="103.9" y="523.3" font-size="10" font-weight="bold" text-anchor="start" fill="#111" textLength="40.2" lengthAdjust="spacingAndGlyphs">[ml/min]</text>
<text x="154.8" y="495.2" font-size="10" font-weight="bold" text-anchor="start" fill="#111" textLength="27" lengthAdjust="spacingAndGlyphs">Factor</text>
<text x="154.8" y="509.3" font-size="10" font-weight="bold" text-anchor="start" fill="#111" textLength="43.3" lengthAdjust="spacingAndGlyphs">OCT2 and</text>
<text x="154.8" y="523.3" font-size="10" font-weight="bold" text-anchor="start" fill="#111" textLength="31" lengthAdjust="spacingAndGlyphs">MATE1</text>
<text x="212" y="495.2" font-size="10" font-weight="bold" text-anchor="start" fill="#111" textLength="27.5" lengthAdjust="spacingAndGlyphs">Factor</text>
<text x="212" y="509.3" font-size="10" font-weight="bold" text-anchor="start" fill="#111" textLength="18.4" lengthAdjust="spacingAndGlyphs">HKT</text>
<text x="246.7" y="495.2" font-size="10" font-weight="bold" text-anchor="start" fill="#111" textLength="27.2" lengthAdjust="spacingAndGlyphs">Factor</text>
<text x="246.7" y="509.3" font-size="10" font-weight="bold" text-anchor="start" fill="#111" textLength="60.3" lengthAdjust="spacingAndGlyphs">muscle PMAT</text>
<text x="246.7" y="523.3" font-size="10" font-weight="bold" text-anchor="start" fill="#111" textLength="43.3" lengthAdjust="spacingAndGlyphs">and OCT1</text>
<text x="313.9" y="495.2" font-size="10" font-weight="bold" text-anchor="start" fill="#111" textLength="27.3" lengthAdjust="spacingAndGlyphs">Factor</text>
<text x="313.9" y="509.3" font-size="10" font-weight="bold" text-anchor="start" fill="#111" textLength="49.5" lengthAdjust="spacingAndGlyphs">basolateral</text>
<text x="313.9" y="523.3" font-size="10" font-weight="bold" text-anchor="start" fill="#111" textLength="57.8" lengthAdjust="spacingAndGlyphs">intest. perm.</text>
<text x="378.7" y="495.2" font-size="10" font-weight="bold" text-anchor="start" fill="#111" textLength="42.5" lengthAdjust="spacingAndGlyphs">Induction</text>
<text x="378.7" y="509.3" font-size="10" font-weight="bold" text-anchor="start" fill="#111" textLength="23.3" lengthAdjust="spacingAndGlyphs">OCT2</text>
<text x="378.7" y="523.3" font-size="10" font-weight="bold" text-anchor="start" fill="#111" textLength="23.3" lengthAdjust="spacingAndGlyphs">[fold]</text>
<text x="427.9" y="495.2" font-size="10" font-weight="bold" text-anchor="start" fill="#111" textLength="42.6" lengthAdjust="spacingAndGlyphs">Induction</text>
<text x="427.9" y="509.3" font-size="10" font-weight="bold" text-anchor="start" fill="#111" textLength="31" lengthAdjust="spacingAndGlyphs">MATE1</text>
<text x="427.9" y="523.3" font-size="10" font-weight="bold" text-anchor="start" fill="#111" textLength="23.6" lengthAdjust="spacingAndGlyphs">[fold]</text>
<text x="509.4" y="495.2" font-size="10" font-weight="bold" text-anchor="start" fill="#111" textLength="32.4" lengthAdjust="spacingAndGlyphs">Model-</text>
<text x="509.4" y="509.3" font-size="10" font-weight="bold" text-anchor="start" fill="#111" textLength="50.3" lengthAdjust="spacingAndGlyphs">based dose</text>
<text x="509.4" y="523.3" font-size="10" font-weight="bold" text-anchor="start" fill="#111" textLength="39.4" lengthAdjust="spacingAndGlyphs">[Dose %]</text>
<text x="570.2" y="495.2" font-size="10" font-weight="bold" text-anchor="start" fill="#111" textLength="35.5" lengthAdjust="spacingAndGlyphs">German</text>
<text x="570.2" y="509.3" font-size="10" font-weight="bold" text-anchor="start" fill="#111" textLength="22.4" lengthAdjust="spacingAndGlyphs">Label</text>
<text x="570.2" y="523.3" font-size="10" font-weight="bold" text-anchor="start" fill="#111" textLength="39.4" lengthAdjust="spacingAndGlyphs">[Dose %]</text>
<text x="626.3" y="495.2" font-size="10" font-weight="bold" text-anchor="start" fill="#111" textLength="11.4" lengthAdjust="spacingAndGlyphs">US</text>
<text x="626.3" y="509.3" font-size="10" font-weight="bold" text-anchor="start" fill="#111" textLength="23.1" lengthAdjust="spacingAndGlyphs">Label</text>
<text x="626.3" y="523.3" font-size="10" font-weight="bold" text-anchor="start" fill="#111" textLength="39.4" lengthAdjust="spacingAndGlyphs">[Dose %]</text>
<text x="185" y="491.7" font-size="7" font-weight="bold" text-anchor="start" fill="#111" textLength="2.8" lengthAdjust="spacingAndGlyphs">a</text>
<text x="188.1" y="519.8" font-size="7" font-weight="bold" text-anchor="start" fill="#111" textLength="17" lengthAdjust="spacingAndGlyphs">34-36</text>
<text x="231.6" y="505.8" font-size="7" font-weight="bold" text-anchor="start" fill="#111" textLength="7" lengthAdjust="spacingAndGlyphs">37</text>
<text x="277.7" y="491.7" font-size="7" font-weight="bold" text-anchor="start" fill="#111" textLength="3" lengthAdjust="spacingAndGlyphs">b</text>
<text x="344.7" y="491.7" font-size="7" font-weight="bold" text-anchor="start" fill="#111" textLength="3" lengthAdjust="spacingAndGlyphs">c</text>
<text x="402.9" y="505.8" font-size="7" font-weight="bold" text-anchor="start" fill="#111" textLength="8.7" lengthAdjust="spacingAndGlyphs">40</text>
<text x="460.6" y="505.8" font-size="7" font-weight="bold" text-anchor="start" fill="#111" textLength="7.6" lengthAdjust="spacingAndGlyphs">40</text>
<text x="552.7" y="519.8" font-size="7" font-weight="bold" text-anchor="start" fill="#111" textLength="3.1" lengthAdjust="spacingAndGlyphs">d</text>
<line x1="7.7" y1="526.5" x2="470.8" y2="526.5" stroke="#111" stroke-width="1.1"/>
<line x1="504.1" y1="526.5" x2="676.7" y2="526.5" stroke="#111" stroke-width="1.1"/>
<line x1="7.7" y1="611.2" x2="470.8" y2="611.2" stroke="#111" stroke-width="1.1"/>
<line x1="504.1" y1="611.3" x2="676.7" y2="611.3" stroke="#111" stroke-width="1.1"/>
<line x1="98.5" y1="484.4" x2="98.5" y2="611.2" stroke="#111" stroke-width="1.1"/>
<text x="27.4" y="551.5" font-size="10" font-weight="normal" text-anchor="middle" fill="#111" >Healthy</text>
<text x="27.4" y="565.55" font-size="10" font-weight="normal" text-anchor="middle" fill="#111" >3A</text>
<text x="27.4" y="579.6" font-size="10" font-weight="normal" text-anchor="middle" fill="#111" >3B</text>
<text x="27.4" y="593.65" font-size="10" font-weight="normal" text-anchor="middle" fill="#111" >4</text>
<text x="27.4" y="607.4" font-size="10" font-weight="normal" text-anchor="middle" fill="#111" >5</text>
<text x="93.8" y="551.5" font-size="10" font-weight="normal" text-anchor="end" fill="#111" >&#8805; 90</text>
<text x="93.8" y="565.55" font-size="10" font-weight="normal" text-anchor="end" fill="#111" >45-59</text>
<text x="93.8" y="579.6" font-size="10" font-weight="normal" text-anchor="end" fill="#111" >30-44</text>
<text x="93.8" y="593.65" font-size="10" font-weight="normal" text-anchor="end" fill="#111" >15-29</text>
<text x="93.8" y="607.4" font-size="10" font-weight="normal" text-anchor="end" fill="#111" >&lt; 15</text>
<text x="144.4" y="551.5" font-size="10" font-weight="bold" text-anchor="end" fill="#111" >116.6</text>
<text x="144.4" y="565.55" font-size="10" font-weight="bold" text-anchor="end" fill="#111" >52.5</text>
<text x="144.4" y="579.6" font-size="10" font-weight="bold" text-anchor="end" fill="#111" >37.5</text>
<text x="144.4" y="593.65" font-size="10" font-weight="bold" text-anchor="end" fill="#111" >22.5</text>
<text x="144.4" y="607.4" font-size="10" font-weight="bold" text-anchor="end" fill="#111" >7.5</text>
<text x="202" y="551.5" font-size="10" font-weight="normal" text-anchor="end" fill="#111" >1.00</text>
<text x="202" y="565.55" font-size="10" font-weight="normal" text-anchor="end" fill="#111" >0.45</text>
<text x="202" y="579.6" font-size="10" font-weight="normal" text-anchor="end" fill="#111" >0.32</text>
<text x="202" y="593.65" font-size="10" font-weight="normal" text-anchor="end" fill="#111" >0.19</text>
<text x="202" y="607.4" font-size="10" font-weight="normal" text-anchor="end" fill="#111" >0.06</text>
<text x="236.4" y="551.5" font-size="10" font-weight="normal" text-anchor="end" fill="#111" >1.00</text>
<text x="236.4" y="565.55" font-size="10" font-weight="normal" text-anchor="end" fill="#111" >0.90</text>
<text x="236.4" y="579.6" font-size="10" font-weight="normal" text-anchor="end" fill="#111" >0.90</text>
<text x="236.4" y="593.65" font-size="10" font-weight="normal" text-anchor="end" fill="#111" >0.82</text>
<text x="236.4" y="607.4" font-size="10" font-weight="normal" text-anchor="end" fill="#111" >0.63</text>
<text x="304.1" y="551.5" font-size="10" font-weight="normal" text-anchor="end" fill="#111" >1.000</text>
<text x="304.1" y="565.55" font-size="10" font-weight="normal" text-anchor="end" fill="#111" >0.019</text>
<text x="304.1" y="579.6" font-size="10" font-weight="normal" text-anchor="end" fill="#111" >0.026</text>
<text x="304.1" y="593.65" font-size="10" font-weight="normal" text-anchor="end" fill="#111" >0.045</text>
<text x="304.1" y="607.4" font-size="10" font-weight="normal" text-anchor="end" fill="#111" >0.144</text>
<text x="368" y="551.5" font-size="10" font-weight="normal" text-anchor="end" fill="#111" >1.00</text>
<text x="368" y="565.55" font-size="10" font-weight="normal" text-anchor="end" fill="#111" >0.50</text>
<text x="368" y="579.6" font-size="10" font-weight="normal" text-anchor="end" fill="#111" >0.50</text>
<text x="368" y="593.65" font-size="10" font-weight="normal" text-anchor="end" fill="#111" >0.50</text>
<text x="368" y="607.4" font-size="10" font-weight="normal" text-anchor="end" fill="#111" >0.50</text>
<text x="417.7" y="551.5" font-size="10" font-weight="normal" text-anchor="end" fill="#111" >-</text>
<text x="417.7" y="565.55" font-size="10" font-weight="normal" text-anchor="end" fill="#111" >-</text>
<text x="417.7" y="579.6" font-size="10" font-weight="normal" text-anchor="end" fill="#111" >-</text>
<text x="417.7" y="593.65" font-size="10" font-weight="normal" text-anchor="end" fill="#111" >1.33</text>
<text x="417.7" y="607.4" font-size="10" font-weight="normal" text-anchor="end" fill="#111" >1.33</text>
<text x="466.4" y="551.5" font-size="10" font-weight="normal" text-anchor="end" fill="#111" >-</text>
<text x="466.4" y="565.55" font-size="10" font-weight="normal" text-anchor="end" fill="#111" >-</text>
<text x="466.4" y="579.6" font-size="10" font-weight="normal" text-anchor="end" fill="#111" >-</text>
<text x="466.4" y="593.65" font-size="10" font-weight="normal" text-anchor="end" fill="#111" >2.99</text>
<text x="466.4" y="607.4" font-size="10" font-weight="normal" text-anchor="end" fill="#111" >2.99</text>
<text x="560" y="551.5" font-size="10" font-weight="normal" text-anchor="end" fill="#111" >100.0</text>
<text x="560" y="565.55" font-size="10" font-weight="normal" text-anchor="end" fill="#111" >29.2</text>
<text x="560" y="579.6" font-size="10" font-weight="normal" text-anchor="end" fill="#111" >15.7</text>
<text x="560" y="593.65" font-size="10" font-weight="normal" text-anchor="end" fill="#111" >21.4</text>
<text x="560" y="607.4" font-size="10" font-weight="normal" text-anchor="end" fill="#111" >contraind.</text>
<text x="615.8" y="551.5" font-size="10" font-weight="normal" text-anchor="end" fill="#111" >100.0</text>
<text x="615.8" y="565.55" font-size="10" font-weight="normal" text-anchor="end" fill="#111" >66.7</text>
<text x="615.8" y="579.6" font-size="10" font-weight="normal" text-anchor="end" fill="#111" >33.3</text>
<text x="615.8" y="593.65" font-size="10" font-weight="normal" text-anchor="end" fill="#111" >contraind.</text>
<text x="615.8" y="607.4" font-size="10" font-weight="normal" text-anchor="end" fill="#111" >contraind.</text>
<text x="671.9" y="551.5" font-size="10" font-weight="normal" text-anchor="end" fill="#111" >100.0</text>
<text x="671.9" y="565.55" font-size="10" font-weight="normal" text-anchor="end" fill="#111" >?</text>
<text x="671.9" y="579.6" font-size="10" font-weight="normal" text-anchor="end" fill="#111" >?</text>
<text x="671.9" y="593.65" font-size="10" font-weight="normal" text-anchor="end" fill="#111" >contraind.</text>
<text x="671.9" y="607.4" font-size="10" font-weight="normal" text-anchor="end" fill="#111" >contraind.</text>
<text x="13" y="618" font-size="7" font-weight="normal" text-anchor="start" fill="#111" textLength="3.2" lengthAdjust="spacingAndGlyphs">a</text>
<text x="19.3" y="621.8" font-size="10" font-weight="normal" text-anchor="start" fill="#111" textLength="199.5" lengthAdjust="spacingAndGlyphs">Factor = actual GFR / age-based healthy GFR,</text>
<text x="225.7" y="618" font-size="7" font-weight="normal" text-anchor="start" fill="#111" textLength="3.2" lengthAdjust="spacingAndGlyphs">b</text>
<text x="231" y="621.8" font-size="10" font-weight="normal" text-anchor="start" fill="#111" textLength="148.9" lengthAdjust="spacingAndGlyphs">Factor = 1 / (1.027 * GFR - 0.758),</text>
<text x="387.1" y="618" font-size="7" font-weight="normal" text-anchor="start" fill="#111" textLength="2.8" lengthAdjust="spacingAndGlyphs">c</text>
<text x="392.6" y="621.8" font-size="10" font-weight="normal" text-anchor="start" fill="#111" textLength="47.5" lengthAdjust="spacingAndGlyphs">Hypothesis</text>
<text x="510.2" y="618" font-size="7" font-weight="normal" text-anchor="start" fill="#111" textLength="3" lengthAdjust="spacingAndGlyphs">d</text>
<text x="517.2" y="621.8" font-size="10" font-weight="normal" text-anchor="start" fill="#111" textLength="157" lengthAdjust="spacingAndGlyphs">of a 3-times daily 1000 mg regimen</text>
</svg></body></html>
